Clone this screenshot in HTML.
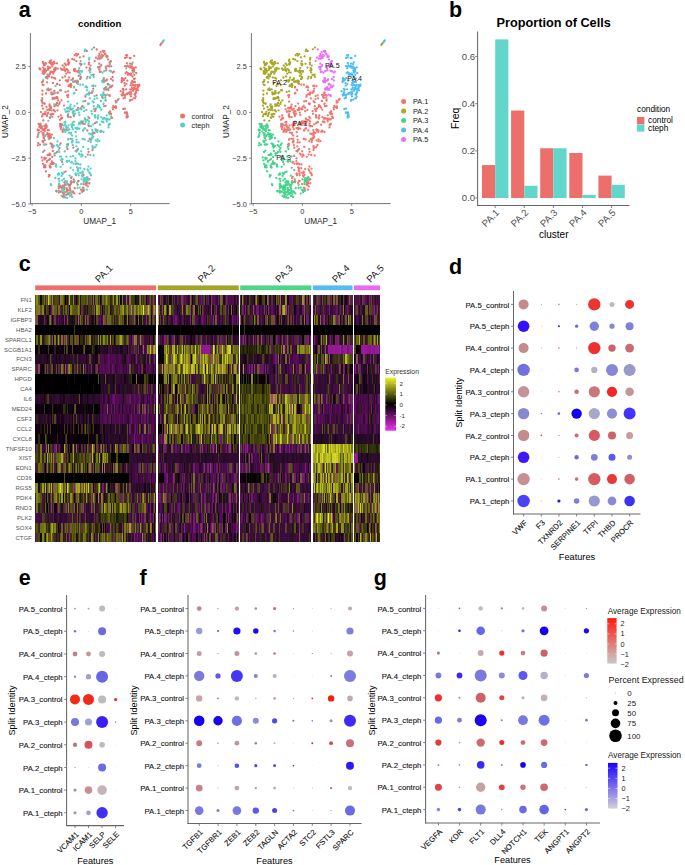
<!DOCTYPE html>
<html><head><meta charset="utf-8"><style>
html,body{margin:0;padding:0;background:#fff;width:685px;height:865px;overflow:hidden}
svg{display:block;font-family:"Liberation Sans",sans-serif}
</style></head><body>
<svg width="685" height="865" viewBox="0 0 685 865">
<rect width="685" height="865" fill="#fff"/>
<text x="448.9" y="274" font-size="21.5" font-weight="bold" fill="#000">d</text>
<line x1="513.5" y1="291" x2="513.5" y2="514.5" stroke="#666" stroke-width="1.05"/>
<line x1="513" y1="514" x2="640.4" y2="514" stroke="#666" stroke-width="1.05"/>
<line x1="511" y1="304.4" x2="513.5" y2="304.4" stroke="#666" stroke-width="0.8"/>
<text x="509.3" y="307.5" font-size="7.75" text-anchor="end" fill="#111" stroke="#111" stroke-width="0.1">PA.5_control</text>
<line x1="511" y1="326.24" x2="513.5" y2="326.24" stroke="#666" stroke-width="0.8"/>
<text x="509.3" y="329.34" font-size="7.75" text-anchor="end" fill="#111" stroke="#111" stroke-width="0.1">PA.5_cteph</text>
<line x1="511" y1="348.08" x2="513.5" y2="348.08" stroke="#666" stroke-width="0.8"/>
<text x="509.3" y="351.18" font-size="7.75" text-anchor="end" fill="#111" stroke="#111" stroke-width="0.1">PA.4_control</text>
<line x1="511" y1="369.92" x2="513.5" y2="369.92" stroke="#666" stroke-width="0.8"/>
<text x="509.3" y="373.02" font-size="7.75" text-anchor="end" fill="#111" stroke="#111" stroke-width="0.1">PA.4_cteph</text>
<line x1="511" y1="391.76" x2="513.5" y2="391.76" stroke="#666" stroke-width="0.8"/>
<text x="509.3" y="394.86" font-size="7.75" text-anchor="end" fill="#111" stroke="#111" stroke-width="0.1">PA.3_control</text>
<line x1="511" y1="413.6" x2="513.5" y2="413.6" stroke="#666" stroke-width="0.8"/>
<text x="509.3" y="416.7" font-size="7.75" text-anchor="end" fill="#111" stroke="#111" stroke-width="0.1">PA.3_cteph</text>
<line x1="511" y1="435.44" x2="513.5" y2="435.44" stroke="#666" stroke-width="0.8"/>
<text x="509.3" y="438.54" font-size="7.75" text-anchor="end" fill="#111" stroke="#111" stroke-width="0.1">PA.2_control</text>
<line x1="511" y1="457.28" x2="513.5" y2="457.28" stroke="#666" stroke-width="0.8"/>
<text x="509.3" y="460.38" font-size="7.75" text-anchor="end" fill="#111" stroke="#111" stroke-width="0.1">PA.2_cteph</text>
<line x1="511" y1="479.12" x2="513.5" y2="479.12" stroke="#666" stroke-width="0.8"/>
<text x="509.3" y="482.22" font-size="7.75" text-anchor="end" fill="#111" stroke="#111" stroke-width="0.1">PA.1_control</text>
<line x1="511" y1="500.96" x2="513.5" y2="500.96" stroke="#666" stroke-width="0.8"/>
<text x="509.3" y="504.06" font-size="7.75" text-anchor="end" fill="#111" stroke="#111" stroke-width="0.1">PA.1_cteph</text>
<line x1="523.6" y1="514" x2="523.6" y2="516.5" stroke="#666" stroke-width="0.8"/>
<text x="527.8" y="523.3" font-size="7.75" text-anchor="end" fill="#111" transform="rotate(-45 527.8 523.3)" stroke="#111" stroke-width="0.1">VWF</text>
<line x1="541.27" y1="514" x2="541.27" y2="516.5" stroke="#666" stroke-width="0.8"/>
<text x="545.47" y="523.3" font-size="7.75" text-anchor="end" fill="#111" transform="rotate(-45 545.47 523.3)" stroke="#111" stroke-width="0.1">F3</text>
<line x1="558.94" y1="514" x2="558.94" y2="516.5" stroke="#666" stroke-width="0.8"/>
<text x="563.14" y="523.3" font-size="7.75" text-anchor="end" fill="#111" transform="rotate(-45 563.14 523.3)" stroke="#111" stroke-width="0.1">TXNRD2</text>
<line x1="576.61" y1="514" x2="576.61" y2="516.5" stroke="#666" stroke-width="0.8"/>
<text x="580.81" y="523.3" font-size="7.75" text-anchor="end" fill="#111" transform="rotate(-45 580.81 523.3)" stroke="#111" stroke-width="0.1">SERPINE1</text>
<line x1="594.28" y1="514" x2="594.28" y2="516.5" stroke="#666" stroke-width="0.8"/>
<text x="598.48" y="523.3" font-size="7.75" text-anchor="end" fill="#111" transform="rotate(-45 598.48 523.3)" stroke="#111" stroke-width="0.1">TFPI</text>
<line x1="611.95" y1="514" x2="611.95" y2="516.5" stroke="#666" stroke-width="0.8"/>
<text x="616.15" y="523.3" font-size="7.75" text-anchor="end" fill="#111" transform="rotate(-45 616.15 523.3)" stroke="#111" stroke-width="0.1">THBD</text>
<line x1="629.62" y1="514" x2="629.62" y2="516.5" stroke="#666" stroke-width="0.8"/>
<text x="633.82" y="523.3" font-size="7.75" text-anchor="end" fill="#111" transform="rotate(-45 633.82 523.3)" stroke="#111" stroke-width="0.1">PROCR</text>
<circle cx="523.6" cy="304.4" r="5" fill="#C48A8E"/>
<circle cx="541.3" cy="304.4" r="0.5" fill="#D87070"/>
<circle cx="558.9" cy="304.4" r="0.8" fill="#D07070"/>
<circle cx="576.6" cy="304.4" r="0.5" fill="#D08080"/>
<circle cx="594.3" cy="304.4" r="6.2" fill="#EE3333"/>
<circle cx="612.0" cy="304.4" r="2.5" fill="#BBBBBB"/>
<circle cx="629.6" cy="304.4" r="4.5" fill="#EE3333"/>
<circle cx="523.6" cy="326.2" r="5.8" fill="#3311FF"/>
<circle cx="541.3" cy="326.2" r="0.4" fill="#7070E0"/>
<circle cx="558.9" cy="326.2" r="1" fill="#2222FF"/>
<circle cx="576.6" cy="326.2" r="1.6" fill="#6666DD"/>
<circle cx="594.3" cy="326.2" r="4.7" fill="#8080D8"/>
<circle cx="612.0" cy="326.2" r="2.6" fill="#8888D0"/>
<circle cx="629.6" cy="326.2" r="4" fill="#8080D8"/>
<circle cx="523.6" cy="348.1" r="5" fill="#C48A8E"/>
<circle cx="541.3" cy="348.1" r="0.5" fill="#D08080"/>
<circle cx="558.9" cy="348.1" r="0.8" fill="#D07070"/>
<circle cx="576.6" cy="348.1" r="0.6" fill="#D08080"/>
<circle cx="594.3" cy="348.1" r="6.2" fill="#EE3030"/>
<circle cx="612.0" cy="348.1" r="3.7" fill="#D06066"/>
<circle cx="629.6" cy="348.1" r="4.4" fill="#D06870"/>
<circle cx="523.6" cy="369.9" r="6.2" fill="#7070E0"/>
<circle cx="541.3" cy="369.9" r="0.4" fill="#9090D8"/>
<circle cx="558.9" cy="369.9" r="0.3" fill="#C0C0C0"/>
<circle cx="576.6" cy="369.9" r="2.3" fill="#7777D6"/>
<circle cx="594.3" cy="369.9" r="3.1" fill="#B0B0C8"/>
<circle cx="612.0" cy="369.9" r="6" fill="#8888D4"/>
<circle cx="629.6" cy="369.9" r="6" fill="#9A9AC8"/>
<circle cx="523.6" cy="391.8" r="5.7" fill="#C69498"/>
<circle cx="541.3" cy="391.8" r="0.4" fill="#D08080"/>
<circle cx="558.9" cy="391.8" r="0.8" fill="#D07070"/>
<circle cx="576.6" cy="391.8" r="2.3" fill="#C87070"/>
<circle cx="594.3" cy="391.8" r="5.6" fill="#C8787C"/>
<circle cx="612.0" cy="391.8" r="5.1" fill="#F02828"/>
<circle cx="629.6" cy="391.8" r="4.3" fill="#C49498"/>
<circle cx="523.6" cy="413.6" r="5.7" fill="#8888D0"/>
<circle cx="541.3" cy="413.6" r="0.6" fill="#5050E8"/>
<circle cx="558.9" cy="413.6" r="1.3" fill="#6666E0"/>
<circle cx="576.6" cy="413.6" r="5.2" fill="#1100EE"/>
<circle cx="594.3" cy="413.6" r="5.6" fill="#A8A8C8"/>
<circle cx="612.0" cy="413.6" r="5.1" fill="#8E8ED2"/>
<circle cx="629.6" cy="413.6" r="6" fill="#4433FF"/>
<circle cx="523.6" cy="435.4" r="5.7" fill="#C48A8E"/>
<circle cx="541.3" cy="435.4" r="0.8" fill="#F03030"/>
<circle cx="558.9" cy="435.4" r="0.6" fill="#D07070"/>
<circle cx="576.6" cy="435.4" r="2" fill="#C87070"/>
<circle cx="594.3" cy="435.4" r="5.6" fill="#D55A62"/>
<circle cx="612.0" cy="435.4" r="4" fill="#CC6468"/>
<circle cx="629.6" cy="435.4" r="3.5" fill="#C89A9C"/>
<circle cx="523.6" cy="457.3" r="5.8" fill="#3B1AF5"/>
<circle cx="541.3" cy="457.3" r="0.4" fill="#8080D8"/>
<circle cx="558.9" cy="457.3" r="0.5" fill="#8080D8"/>
<circle cx="576.6" cy="457.3" r="2.2" fill="#6B6BDB"/>
<circle cx="594.3" cy="457.3" r="3.4" fill="#7F7FD8"/>
<circle cx="612.0" cy="457.3" r="3.5" fill="#5A5AEA"/>
<circle cx="629.6" cy="457.3" r="2.5" fill="#9090D0"/>
<circle cx="523.6" cy="479.1" r="6.2" fill="#C49094"/>
<circle cx="541.3" cy="479.1" r="0.4" fill="#D08080"/>
<circle cx="558.9" cy="479.1" r="0.8" fill="#D07070"/>
<circle cx="576.6" cy="479.1" r="1.8" fill="#C87070"/>
<circle cx="594.3" cy="479.1" r="6.2" fill="#D55A62"/>
<circle cx="612.0" cy="479.1" r="5" fill="#E83838"/>
<circle cx="629.6" cy="479.1" r="5.3" fill="#D06066"/>
<circle cx="523.6" cy="501.0" r="6.2" fill="#4A42F5"/>
<circle cx="541.3" cy="501.0" r="0.5" fill="#8080D8"/>
<circle cx="558.9" cy="501.0" r="1.6" fill="#1A1AF0"/>
<circle cx="576.6" cy="501.0" r="2.8" fill="#7F7FD8"/>
<circle cx="594.3" cy="501.0" r="5.6" fill="#9898D0"/>
<circle cx="612.0" cy="501.0" r="4.4" fill="#8A8AD4"/>
<circle cx="629.6" cy="501.0" r="5.3" fill="#3C30F5"/>
<text x="577" y="559.9" font-size="9.2" text-anchor="middle" fill="#000">Features</text>
<text x="461.6" y="402.7" font-size="9.2" text-anchor="middle" fill="#000" transform="rotate(-90 461.6 402.7)">Split Identity</text>
<text x="18.7" y="584.5" font-size="21.5" font-weight="bold" fill="#000">e</text>
<line x1="66.6" y1="595" x2="66.6" y2="826.1" stroke="#666" stroke-width="1.05"/>
<line x1="66.1" y1="825.6" x2="124" y2="825.6" stroke="#666" stroke-width="1.05"/>
<line x1="64.1" y1="608.6" x2="66.6" y2="608.6" stroke="#666" stroke-width="0.8"/>
<text x="62.6" y="611.7" font-size="7.75" text-anchor="end" fill="#111" stroke="#111" stroke-width="0.1">PA.5_control</text>
<line x1="64.1" y1="631.29" x2="66.6" y2="631.29" stroke="#666" stroke-width="0.8"/>
<text x="62.6" y="634.39" font-size="7.75" text-anchor="end" fill="#111" stroke="#111" stroke-width="0.1">PA.5_cteph</text>
<line x1="64.1" y1="653.98" x2="66.6" y2="653.98" stroke="#666" stroke-width="0.8"/>
<text x="62.6" y="657.08" font-size="7.75" text-anchor="end" fill="#111" stroke="#111" stroke-width="0.1">PA.4_control</text>
<line x1="64.1" y1="676.67" x2="66.6" y2="676.67" stroke="#666" stroke-width="0.8"/>
<text x="62.6" y="679.77" font-size="7.75" text-anchor="end" fill="#111" stroke="#111" stroke-width="0.1">PA.4_cteph</text>
<line x1="64.1" y1="699.36" x2="66.6" y2="699.36" stroke="#666" stroke-width="0.8"/>
<text x="62.6" y="702.46" font-size="7.75" text-anchor="end" fill="#111" stroke="#111" stroke-width="0.1">PA.3_control</text>
<line x1="64.1" y1="722.05" x2="66.6" y2="722.05" stroke="#666" stroke-width="0.8"/>
<text x="62.6" y="725.15" font-size="7.75" text-anchor="end" fill="#111" stroke="#111" stroke-width="0.1">PA.3_cteph</text>
<line x1="64.1" y1="744.74" x2="66.6" y2="744.74" stroke="#666" stroke-width="0.8"/>
<text x="62.6" y="747.84" font-size="7.75" text-anchor="end" fill="#111" stroke="#111" stroke-width="0.1">PA.2_control</text>
<line x1="64.1" y1="767.43" x2="66.6" y2="767.43" stroke="#666" stroke-width="0.8"/>
<text x="62.6" y="770.53" font-size="7.75" text-anchor="end" fill="#111" stroke="#111" stroke-width="0.1">PA.2_cteph</text>
<line x1="64.1" y1="790.12" x2="66.6" y2="790.12" stroke="#666" stroke-width="0.8"/>
<text x="62.6" y="793.22" font-size="7.75" text-anchor="end" fill="#111" stroke="#111" stroke-width="0.1">PA.1_control</text>
<line x1="64.1" y1="812.81" x2="66.6" y2="812.81" stroke="#666" stroke-width="0.8"/>
<text x="62.6" y="815.91" font-size="7.75" text-anchor="end" fill="#111" stroke="#111" stroke-width="0.1">PA.1_cteph</text>
<line x1="75" y1="825.6" x2="75" y2="828.1" stroke="#666" stroke-width="0.8"/>
<text x="79.2" y="834.9" font-size="7.75" text-anchor="end" fill="#111" transform="rotate(-45 79.2 834.9)" stroke="#111" stroke-width="0.1">VCAM1</text>
<line x1="88.53" y1="825.6" x2="88.53" y2="828.1" stroke="#666" stroke-width="0.8"/>
<text x="92.73" y="834.9" font-size="7.75" text-anchor="end" fill="#111" transform="rotate(-45 92.73 834.9)" stroke="#111" stroke-width="0.1">ICAM1</text>
<line x1="102.06" y1="825.6" x2="102.06" y2="828.1" stroke="#666" stroke-width="0.8"/>
<text x="106.26" y="834.9" font-size="7.75" text-anchor="end" fill="#111" transform="rotate(-45 106.26 834.9)" stroke="#111" stroke-width="0.1">SELP</text>
<line x1="115.59" y1="825.6" x2="115.59" y2="828.1" stroke="#666" stroke-width="0.8"/>
<text x="119.79" y="834.9" font-size="7.75" text-anchor="end" fill="#111" transform="rotate(-45 119.79 834.9)" stroke="#111" stroke-width="0.1">SELE</text>
<circle cx="75.0" cy="608.6" r="0.9" fill="#C08888"/>
<circle cx="88.5" cy="608.6" r="0.9" fill="#C09090"/>
<circle cx="102.1" cy="608.6" r="3" fill="#BBBBBB"/>
<circle cx="115.6" cy="608.6" r="0.3" fill="#D0A0A0"/>
<circle cx="75.0" cy="631.3" r="1.2" fill="#7070E0"/>
<circle cx="88.5" cy="631.3" r="0.4" fill="#A0A0D0"/>
<circle cx="102.1" cy="631.3" r="4" fill="#6B6BE0"/>
<circle cx="115.6" cy="631.3" r="0.3" fill="#C0C0D0"/>
<circle cx="75.0" cy="654.0" r="2.4" fill="#C08088"/>
<circle cx="88.5" cy="654.0" r="2.4" fill="#C09898"/>
<circle cx="102.1" cy="654.0" r="3" fill="#BBBBBB"/>
<circle cx="115.6" cy="654.0" r="0.3" fill="#D0A0A0"/>
<circle cx="75.0" cy="676.7" r="1.2" fill="#8888D8"/>
<circle cx="88.5" cy="676.7" r="2.6" fill="#A0A0D0"/>
<circle cx="102.1" cy="676.7" r="6" fill="#6666E4"/>
<circle cx="115.6" cy="676.7" r="0.3" fill="#C0C0D0"/>
<circle cx="75.0" cy="699.4" r="5" fill="#F52A1A"/>
<circle cx="88.5" cy="699.4" r="5.5" fill="#F02A1A"/>
<circle cx="102.1" cy="699.4" r="4" fill="#BBBBBB"/>
<circle cx="115.6" cy="699.4" r="1.5" fill="#F02020"/>
<circle cx="75.0" cy="722.1" r="4" fill="#7878E0"/>
<circle cx="88.5" cy="722.1" r="3.5" fill="#A0A0D4"/>
<circle cx="102.1" cy="722.1" r="6" fill="#3A20F5"/>
<circle cx="115.6" cy="722.1" r="0.8" fill="#8080E0"/>
<circle cx="75.0" cy="744.7" r="2.2" fill="#C07880"/>
<circle cx="88.5" cy="744.7" r="4" fill="#D85058"/>
<circle cx="102.1" cy="744.7" r="2.8" fill="#BBBBBB"/>
<circle cx="115.6" cy="744.7" r="0.3" fill="#D0A0A0"/>
<circle cx="75.0" cy="767.4" r="0.6" fill="#8888D8"/>
<circle cx="88.5" cy="767.4" r="0.4" fill="#A0A0D0"/>
<circle cx="102.1" cy="767.4" r="4" fill="#6B6BE0"/>
<circle cx="115.6" cy="767.4" r="0.3" fill="#C0C0D0"/>
<circle cx="75.0" cy="790.1" r="1.6" fill="#C08888"/>
<circle cx="88.5" cy="790.1" r="3.8" fill="#C89094"/>
<circle cx="102.1" cy="790.1" r="4.8" fill="#C8B4B8"/>
<circle cx="115.6" cy="790.1" r="0.3" fill="#D0A0A0"/>
<circle cx="75.0" cy="812.8" r="1.6" fill="#9898D4"/>
<circle cx="88.5" cy="812.8" r="2.4" fill="#A0A0D4"/>
<circle cx="102.1" cy="812.8" r="5.7" fill="#3F30F6"/>
<circle cx="115.6" cy="812.8" r="0.3" fill="#C0C0D0"/>
<text x="95.3" y="863.7" font-size="9.2" text-anchor="middle" fill="#000">Features</text>
<text x="15" y="710.5" font-size="9.2" text-anchor="middle" fill="#000" transform="rotate(-90 15 710.5)">Split Identity</text>
<text x="139.4" y="584.5" font-size="21.5" font-weight="bold" fill="#000">f</text>
<line x1="188" y1="595" x2="188" y2="823.9" stroke="#666" stroke-width="1.05"/>
<line x1="187.5" y1="823.4" x2="361.6" y2="823.4" stroke="#666" stroke-width="1.05"/>
<line x1="185.5" y1="608.6" x2="188" y2="608.6" stroke="#666" stroke-width="0.8"/>
<text x="184" y="611.7" font-size="7.75" text-anchor="end" fill="#111" stroke="#111" stroke-width="0.1">PA.5_control</text>
<line x1="185.5" y1="631.04" x2="188" y2="631.04" stroke="#666" stroke-width="0.8"/>
<text x="184" y="634.14" font-size="7.75" text-anchor="end" fill="#111" stroke="#111" stroke-width="0.1">PA.5_cteph</text>
<line x1="185.5" y1="653.48" x2="188" y2="653.48" stroke="#666" stroke-width="0.8"/>
<text x="184" y="656.58" font-size="7.75" text-anchor="end" fill="#111" stroke="#111" stroke-width="0.1">PA.4_control</text>
<line x1="185.5" y1="675.92" x2="188" y2="675.92" stroke="#666" stroke-width="0.8"/>
<text x="184" y="679.02" font-size="7.75" text-anchor="end" fill="#111" stroke="#111" stroke-width="0.1">PA.4_cteph</text>
<line x1="185.5" y1="698.36" x2="188" y2="698.36" stroke="#666" stroke-width="0.8"/>
<text x="184" y="701.46" font-size="7.75" text-anchor="end" fill="#111" stroke="#111" stroke-width="0.1">PA.3_control</text>
<line x1="185.5" y1="720.8" x2="188" y2="720.8" stroke="#666" stroke-width="0.8"/>
<text x="184" y="723.9" font-size="7.75" text-anchor="end" fill="#111" stroke="#111" stroke-width="0.1">PA.3_cteph</text>
<line x1="185.5" y1="743.24" x2="188" y2="743.24" stroke="#666" stroke-width="0.8"/>
<text x="184" y="746.34" font-size="7.75" text-anchor="end" fill="#111" stroke="#111" stroke-width="0.1">PA.2_control</text>
<line x1="185.5" y1="765.68" x2="188" y2="765.68" stroke="#666" stroke-width="0.8"/>
<text x="184" y="768.78" font-size="7.75" text-anchor="end" fill="#111" stroke="#111" stroke-width="0.1">PA.2_cteph</text>
<line x1="185.5" y1="788.12" x2="188" y2="788.12" stroke="#666" stroke-width="0.8"/>
<text x="184" y="791.22" font-size="7.75" text-anchor="end" fill="#111" stroke="#111" stroke-width="0.1">PA.1_control</text>
<line x1="185.5" y1="810.56" x2="188" y2="810.56" stroke="#666" stroke-width="0.8"/>
<text x="184" y="813.66" font-size="7.75" text-anchor="end" fill="#111" stroke="#111" stroke-width="0.1">PA.1_cteph</text>
<line x1="199.2" y1="823.4" x2="199.2" y2="825.9" stroke="#666" stroke-width="0.8"/>
<text x="203.4" y="832.7" font-size="7.75" text-anchor="end" fill="#111" transform="rotate(-45 203.4 832.7)" stroke="#111" stroke-width="0.1">TGFB1</text>
<line x1="218.05" y1="823.4" x2="218.05" y2="825.9" stroke="#666" stroke-width="0.8"/>
<text x="222.25" y="832.7" font-size="7.75" text-anchor="end" fill="#111" transform="rotate(-45 222.25 832.7)" stroke="#111" stroke-width="0.1">TGFBR1</text>
<line x1="236.9" y1="823.4" x2="236.9" y2="825.9" stroke="#666" stroke-width="0.8"/>
<text x="241.1" y="832.7" font-size="7.75" text-anchor="end" fill="#111" transform="rotate(-45 241.1 832.7)" stroke="#111" stroke-width="0.1">ZEB1</text>
<line x1="255.75" y1="823.4" x2="255.75" y2="825.9" stroke="#666" stroke-width="0.8"/>
<text x="259.95" y="832.7" font-size="7.75" text-anchor="end" fill="#111" transform="rotate(-45 259.95 832.7)" stroke="#111" stroke-width="0.1">ZEB2</text>
<line x1="274.6" y1="823.4" x2="274.6" y2="825.9" stroke="#666" stroke-width="0.8"/>
<text x="278.8" y="832.7" font-size="7.75" text-anchor="end" fill="#111" transform="rotate(-45 278.8 832.7)" stroke="#111" stroke-width="0.1">TAGLN</text>
<line x1="293.45" y1="823.4" x2="293.45" y2="825.9" stroke="#666" stroke-width="0.8"/>
<text x="297.65" y="832.7" font-size="7.75" text-anchor="end" fill="#111" transform="rotate(-45 297.65 832.7)" stroke="#111" stroke-width="0.1">ACTA2</text>
<line x1="312.3" y1="823.4" x2="312.3" y2="825.9" stroke="#666" stroke-width="0.8"/>
<text x="316.5" y="832.7" font-size="7.75" text-anchor="end" fill="#111" transform="rotate(-45 316.5 832.7)" stroke="#111" stroke-width="0.1">STC2</text>
<line x1="331.15" y1="823.4" x2="331.15" y2="825.9" stroke="#666" stroke-width="0.8"/>
<text x="335.35" y="832.7" font-size="7.75" text-anchor="end" fill="#111" transform="rotate(-45 335.35 832.7)" stroke="#111" stroke-width="0.1">FSTL3</text>
<line x1="350" y1="823.4" x2="350" y2="825.9" stroke="#666" stroke-width="0.8"/>
<text x="354.2" y="832.7" font-size="7.75" text-anchor="end" fill="#111" transform="rotate(-45 354.2 832.7)" stroke="#111" stroke-width="0.1">SPARC</text>
<circle cx="199.2" cy="608.6" r="2.4" fill="#C08890"/>
<circle cx="218.0" cy="608.6" r="0.6" fill="#C07070"/>
<circle cx="236.9" cy="608.6" r="2.1" fill="#C0A0A4"/>
<circle cx="255.8" cy="608.6" r="1.3" fill="#C08888"/>
<circle cx="274.6" cy="608.6" r="1.5" fill="#D06068"/>
<circle cx="293.4" cy="608.6" r="0.6" fill="#C08080"/>
<circle cx="312.3" cy="608.6" r="0.4" fill="#C0A0A0"/>
<circle cx="331.1" cy="608.6" r="0.5" fill="#C08080"/>
<circle cx="350.0" cy="608.6" r="2" fill="#C0A8AC"/>
<circle cx="199.2" cy="631.0" r="3.2" fill="#9A9AD4"/>
<circle cx="218.0" cy="631.0" r="1" fill="#5050E8"/>
<circle cx="236.9" cy="631.0" r="3.6" fill="#2010F5"/>
<circle cx="255.8" cy="631.0" r="2.7" fill="#1A0AF2"/>
<circle cx="274.6" cy="631.0" r="1.3" fill="#7878DC"/>
<circle cx="293.4" cy="631.0" r="0.8" fill="#8080E0"/>
<circle cx="312.3" cy="631.0" r="0.4" fill="#A0A0D0"/>
<circle cx="331.1" cy="631.0" r="0.3" fill="#B0B0D0"/>
<circle cx="350.0" cy="631.0" r="3.6" fill="#8080D8"/>
<circle cx="199.2" cy="653.5" r="2.5" fill="#C0A0A4"/>
<circle cx="218.0" cy="653.5" r="0.6" fill="#C07070"/>
<circle cx="236.9" cy="653.5" r="2.5" fill="#C09498"/>
<circle cx="255.8" cy="653.5" r="1.3" fill="#C08888"/>
<circle cx="274.6" cy="653.5" r="1.3" fill="#C87078"/>
<circle cx="293.4" cy="653.5" r="0.4" fill="#C0A0A0"/>
<circle cx="312.3" cy="653.5" r="0.6" fill="#C06068"/>
<circle cx="331.1" cy="653.5" r="0.5" fill="#C08080"/>
<circle cx="350.0" cy="653.5" r="3" fill="#C0A4A8"/>
<circle cx="199.2" cy="675.9" r="5.2" fill="#7A7ADC"/>
<circle cx="218.0" cy="675.9" r="2.6" fill="#5A5AEE"/>
<circle cx="236.9" cy="675.9" r="6" fill="#4535F5"/>
<circle cx="255.8" cy="675.9" r="2" fill="#8080D4"/>
<circle cx="274.6" cy="675.9" r="2" fill="#B0B0C8"/>
<circle cx="293.4" cy="675.9" r="0.3" fill="#B0B0D0"/>
<circle cx="312.3" cy="675.9" r="0.3" fill="#B0B0D0"/>
<circle cx="331.1" cy="675.9" r="1" fill="#8080E0"/>
<circle cx="350.0" cy="675.9" r="6" fill="#7C7CE0"/>
<circle cx="199.2" cy="698.4" r="3.2" fill="#C8A4A8"/>
<circle cx="218.0" cy="698.4" r="0.9" fill="#C87070"/>
<circle cx="236.9" cy="698.4" r="2.2" fill="#BBBBBB"/>
<circle cx="255.8" cy="698.4" r="0.8" fill="#BBBBBB"/>
<circle cx="274.6" cy="698.4" r="1.3" fill="#C0A0A0"/>
<circle cx="293.4" cy="698.4" r="0.5" fill="#C08080"/>
<circle cx="312.3" cy="698.4" r="0.9" fill="#F03030"/>
<circle cx="331.1" cy="698.4" r="3.2" fill="#F52010"/>
<circle cx="350.0" cy="698.4" r="2.8" fill="#C0ACAE"/>
<circle cx="199.2" cy="720.8" r="5.3" fill="#1400F2"/>
<circle cx="218.0" cy="720.8" r="4.7" fill="#1A00F0"/>
<circle cx="236.9" cy="720.8" r="5.1" fill="#6E6EE6"/>
<circle cx="255.8" cy="720.8" r="3" fill="#8C8CD4"/>
<circle cx="274.6" cy="720.8" r="2.6" fill="#4A4AF0"/>
<circle cx="293.4" cy="720.8" r="1" fill="#7070E0"/>
<circle cx="312.3" cy="720.8" r="0.8" fill="#7070E0"/>
<circle cx="331.1" cy="720.8" r="1.5" fill="#9090D8"/>
<circle cx="350.0" cy="720.8" r="6" fill="#3F2AF8"/>
<circle cx="199.2" cy="743.2" r="2.9" fill="#C87880"/>
<circle cx="218.0" cy="743.2" r="0.7" fill="#C07070"/>
<circle cx="236.9" cy="743.2" r="2.4" fill="#C09498"/>
<circle cx="255.8" cy="743.2" r="1.3" fill="#C07880"/>
<circle cx="274.6" cy="743.2" r="1" fill="#C0B0B0"/>
<circle cx="293.4" cy="743.2" r="0.4" fill="#C0A0A0"/>
<circle cx="312.3" cy="743.2" r="1" fill="#F02828"/>
<circle cx="331.1" cy="743.2" r="1.9" fill="#D84850"/>
<circle cx="350.0" cy="743.2" r="4" fill="#C87078"/>
<circle cx="199.2" cy="765.7" r="2.4" fill="#7A7ADC"/>
<circle cx="218.0" cy="765.7" r="0.5" fill="#9090D8"/>
<circle cx="236.9" cy="765.7" r="2.3" fill="#5252EE"/>
<circle cx="255.8" cy="765.7" r="1.6" fill="#4A4AF0"/>
<circle cx="274.6" cy="765.7" r="1.4" fill="#3A3AF0"/>
<circle cx="293.4" cy="765.7" r="0.8" fill="#1A1AF0"/>
<circle cx="312.3" cy="765.7" r="0.3" fill="#B0B0D0"/>
<circle cx="331.1" cy="765.7" r="0.3" fill="#B0B0D0"/>
<circle cx="350.0" cy="765.7" r="4" fill="#2A1AF5"/>
<circle cx="199.2" cy="788.1" r="3.4" fill="#C8808A"/>
<circle cx="218.0" cy="788.1" r="0.5" fill="#C08080"/>
<circle cx="236.9" cy="788.1" r="2.4" fill="#C0A4A8"/>
<circle cx="255.8" cy="788.1" r="1.2" fill="#C09098"/>
<circle cx="274.6" cy="788.1" r="1.4" fill="#C0A0A4"/>
<circle cx="293.4" cy="788.1" r="0.5" fill="#C0A0A0"/>
<circle cx="312.3" cy="788.1" r="0.5" fill="#D08080"/>
<circle cx="331.1" cy="788.1" r="1.2" fill="#C87070"/>
<circle cx="350.0" cy="788.1" r="2.2" fill="#BBBBBB"/>
<circle cx="199.2" cy="810.6" r="4.3" fill="#7A7ADE"/>
<circle cx="218.0" cy="810.6" r="1.5" fill="#7A7ADC"/>
<circle cx="236.9" cy="810.6" r="4.3" fill="#7878DE"/>
<circle cx="255.8" cy="810.6" r="3.2" fill="#5A5AF0"/>
<circle cx="274.6" cy="810.6" r="2.5" fill="#4444F0"/>
<circle cx="293.4" cy="810.6" r="0.9" fill="#8080E0"/>
<circle cx="312.3" cy="810.6" r="0.4" fill="#A0A0D0"/>
<circle cx="331.1" cy="810.6" r="0.7" fill="#9090E0"/>
<circle cx="350.0" cy="810.6" r="5" fill="#6A6AE6"/>
<text x="274.5" y="863.7" font-size="9.2" text-anchor="middle" fill="#000">Features</text>
<text x="137.2" y="710.5" font-size="9.2" text-anchor="middle" fill="#000" transform="rotate(-90 137.2 710.5)">Split Identity</text>
<text x="373.7" y="584.5" font-size="21.5" font-weight="bold" fill="#000">g</text>
<line x1="425.6" y1="595" x2="425.6" y2="823.5" stroke="#666" stroke-width="1.05"/>
<line x1="425.1" y1="823" x2="600" y2="823" stroke="#666" stroke-width="1.05"/>
<line x1="423.1" y1="608.4" x2="425.6" y2="608.4" stroke="#666" stroke-width="0.8"/>
<text x="421.3" y="611.5" font-size="7.75" text-anchor="end" fill="#111" stroke="#111" stroke-width="0.1">PA.5_control</text>
<line x1="423.1" y1="630.76" x2="425.6" y2="630.76" stroke="#666" stroke-width="0.8"/>
<text x="421.3" y="633.86" font-size="7.75" text-anchor="end" fill="#111" stroke="#111" stroke-width="0.1">PA.5_cteph</text>
<line x1="423.1" y1="653.12" x2="425.6" y2="653.12" stroke="#666" stroke-width="0.8"/>
<text x="421.3" y="656.22" font-size="7.75" text-anchor="end" fill="#111" stroke="#111" stroke-width="0.1">PA.4_control</text>
<line x1="423.1" y1="675.48" x2="425.6" y2="675.48" stroke="#666" stroke-width="0.8"/>
<text x="421.3" y="678.58" font-size="7.75" text-anchor="end" fill="#111" stroke="#111" stroke-width="0.1">PA.4_cteph</text>
<line x1="423.1" y1="697.84" x2="425.6" y2="697.84" stroke="#666" stroke-width="0.8"/>
<text x="421.3" y="700.94" font-size="7.75" text-anchor="end" fill="#111" stroke="#111" stroke-width="0.1">PA.3_control</text>
<line x1="423.1" y1="720.2" x2="425.6" y2="720.2" stroke="#666" stroke-width="0.8"/>
<text x="421.3" y="723.3" font-size="7.75" text-anchor="end" fill="#111" stroke="#111" stroke-width="0.1">PA.3_cteph</text>
<line x1="423.1" y1="742.56" x2="425.6" y2="742.56" stroke="#666" stroke-width="0.8"/>
<text x="421.3" y="745.66" font-size="7.75" text-anchor="end" fill="#111" stroke="#111" stroke-width="0.1">PA.2_control</text>
<line x1="423.1" y1="764.92" x2="425.6" y2="764.92" stroke="#666" stroke-width="0.8"/>
<text x="421.3" y="768.02" font-size="7.75" text-anchor="end" fill="#111" stroke="#111" stroke-width="0.1">PA.2_cteph</text>
<line x1="423.1" y1="787.28" x2="425.6" y2="787.28" stroke="#666" stroke-width="0.8"/>
<text x="421.3" y="790.38" font-size="7.75" text-anchor="end" fill="#111" stroke="#111" stroke-width="0.1">PA.1_control</text>
<line x1="423.1" y1="809.64" x2="425.6" y2="809.64" stroke="#666" stroke-width="0.8"/>
<text x="421.3" y="812.74" font-size="7.75" text-anchor="end" fill="#111" stroke="#111" stroke-width="0.1">PA.1_cteph</text>
<line x1="438.4" y1="823" x2="438.4" y2="825.5" stroke="#666" stroke-width="0.8"/>
<text x="442.6" y="832.3" font-size="7.75" text-anchor="end" fill="#111" transform="rotate(-45 442.6 832.3)" stroke="#111" stroke-width="0.1">VEGFA</text>
<line x1="459.55" y1="823" x2="459.55" y2="825.5" stroke="#666" stroke-width="0.8"/>
<text x="463.75" y="832.3" font-size="7.75" text-anchor="end" fill="#111" transform="rotate(-45 463.75 832.3)" stroke="#111" stroke-width="0.1">KDR</text>
<line x1="480.7" y1="823" x2="480.7" y2="825.5" stroke="#666" stroke-width="0.8"/>
<text x="484.9" y="832.3" font-size="7.75" text-anchor="end" fill="#111" transform="rotate(-45 484.9 832.3)" stroke="#111" stroke-width="0.1">FLT1</text>
<line x1="501.85" y1="823" x2="501.85" y2="825.5" stroke="#666" stroke-width="0.8"/>
<text x="506.05" y="832.3" font-size="7.75" text-anchor="end" fill="#111" transform="rotate(-45 506.05 832.3)" stroke="#111" stroke-width="0.1">DLL4</text>
<line x1="523" y1="823" x2="523" y2="825.5" stroke="#666" stroke-width="0.8"/>
<text x="527.2" y="832.3" font-size="7.75" text-anchor="end" fill="#111" transform="rotate(-45 527.2 832.3)" stroke="#111" stroke-width="0.1">NOTCH1</text>
<line x1="544.15" y1="823" x2="544.15" y2="825.5" stroke="#666" stroke-width="0.8"/>
<text x="548.35" y="832.3" font-size="7.75" text-anchor="end" fill="#111" transform="rotate(-45 548.35 832.3)" stroke="#111" stroke-width="0.1">TEK</text>
<line x1="565.3" y1="823" x2="565.3" y2="825.5" stroke="#666" stroke-width="0.8"/>
<text x="569.5" y="832.3" font-size="7.75" text-anchor="end" fill="#111" transform="rotate(-45 569.5 832.3)" stroke="#111" stroke-width="0.1">ANGPT1</text>
<line x1="586.45" y1="823" x2="586.45" y2="825.5" stroke="#666" stroke-width="0.8"/>
<text x="590.65" y="832.3" font-size="7.75" text-anchor="end" fill="#111" transform="rotate(-45 590.65 832.3)" stroke="#111" stroke-width="0.1">ANGPT2</text>
<circle cx="438.4" cy="608.4" r="0.4" fill="#C0A0A0"/>
<circle cx="459.5" cy="608.4" r="0.8" fill="#D04040"/>
<circle cx="480.7" cy="608.4" r="2.2" fill="#BBBBBB"/>
<circle cx="501.8" cy="608.4" r="1.1" fill="#C87070"/>
<circle cx="523.0" cy="608.4" r="1.3" fill="#BBBBBB"/>
<circle cx="544.1" cy="608.4" r="3" fill="#C09094"/>
<circle cx="565.3" cy="608.4" r="0.4" fill="#C0A0A0"/>
<circle cx="586.4" cy="608.4" r="0.6" fill="#D08888"/>
<circle cx="438.4" cy="630.8" r="0.4" fill="#B0B0D0"/>
<circle cx="459.5" cy="630.8" r="1.2" fill="#1A0AF5"/>
<circle cx="480.7" cy="630.8" r="4.3" fill="#6666E8"/>
<circle cx="501.8" cy="630.8" r="0.5" fill="#B0B0D0"/>
<circle cx="523.0" cy="630.8" r="1.6" fill="#7070E0"/>
<circle cx="544.1" cy="630.8" r="4.4" fill="#1800F5"/>
<circle cx="565.3" cy="630.8" r="0.4" fill="#B0B0D0"/>
<circle cx="586.4" cy="630.8" r="2.6" fill="#1A0AF5"/>
<circle cx="438.4" cy="653.1" r="1.6" fill="#C07880"/>
<circle cx="459.5" cy="653.1" r="0.4" fill="#C0A0A0"/>
<circle cx="480.7" cy="653.1" r="3" fill="#C0ACAE"/>
<circle cx="501.8" cy="653.1" r="2.6" fill="#F03030"/>
<circle cx="523.0" cy="653.1" r="2.4" fill="#C88088"/>
<circle cx="544.1" cy="653.1" r="3.6" fill="#D06068"/>
<circle cx="565.3" cy="653.1" r="0.4" fill="#C0A0A0"/>
<circle cx="586.4" cy="653.1" r="0.4" fill="#C0A0A0"/>
<circle cx="438.4" cy="675.5" r="2.9" fill="#7878E0"/>
<circle cx="459.5" cy="675.5" r="2.9" fill="#3A2AF5"/>
<circle cx="480.7" cy="675.5" r="6" fill="#7A7ADE"/>
<circle cx="501.8" cy="675.5" r="3" fill="#8C8CD8"/>
<circle cx="523.0" cy="675.5" r="4.5" fill="#5A5AF2"/>
<circle cx="544.1" cy="675.5" r="3.7" fill="#B0B4C8"/>
<circle cx="565.3" cy="675.5" r="0.4" fill="#B0B0D0"/>
<circle cx="586.4" cy="675.5" r="2.6" fill="#7A7AE0"/>
<circle cx="438.4" cy="697.8" r="3.6" fill="#F03030"/>
<circle cx="459.5" cy="697.8" r="1" fill="#C08088"/>
<circle cx="480.7" cy="697.8" r="5" fill="#D06068"/>
<circle cx="501.8" cy="697.8" r="2.5" fill="#E04448"/>
<circle cx="523.0" cy="697.8" r="1.6" fill="#BBB4B4"/>
<circle cx="544.1" cy="697.8" r="3.4" fill="#C4B0B2"/>
<circle cx="565.3" cy="697.8" r="0.4" fill="#C0A0A0"/>
<circle cx="586.4" cy="697.8" r="0.5" fill="#D08888"/>
<circle cx="438.4" cy="720.2" r="3.6" fill="#6A6AE8"/>
<circle cx="459.5" cy="720.2" r="2.4" fill="#7C7CE0"/>
<circle cx="480.7" cy="720.2" r="6" fill="#2000F5"/>
<circle cx="501.8" cy="720.2" r="1" fill="#8080E0"/>
<circle cx="523.0" cy="720.2" r="4.9" fill="#7A7ADE"/>
<circle cx="544.1" cy="720.2" r="5.5" fill="#7070E4"/>
<circle cx="565.3" cy="720.2" r="0.4" fill="#B0B0D0"/>
<circle cx="586.4" cy="720.2" r="1.4" fill="#7A7AE0"/>
<circle cx="438.4" cy="742.6" r="3.1" fill="#E83838"/>
<circle cx="459.5" cy="742.6" r="0.9" fill="#C89090"/>
<circle cx="480.7" cy="742.6" r="4.2" fill="#D06870"/>
<circle cx="501.8" cy="742.6" r="2.5" fill="#F02A2A"/>
<circle cx="523.0" cy="742.6" r="2.4" fill="#D06870"/>
<circle cx="544.1" cy="742.6" r="3.4" fill="#D06870"/>
<circle cx="565.3" cy="742.6" r="0.4" fill="#C0A0A0"/>
<circle cx="586.4" cy="742.6" r="0.4" fill="#C0A0A0"/>
<circle cx="438.4" cy="764.9" r="1" fill="#8888E0"/>
<circle cx="459.5" cy="764.9" r="0.8" fill="#7C7CE0"/>
<circle cx="480.7" cy="764.9" r="3.8" fill="#3A2AF5"/>
<circle cx="501.8" cy="764.9" r="1" fill="#8080E0"/>
<circle cx="523.0" cy="764.9" r="2.8" fill="#1400F5"/>
<circle cx="544.1" cy="764.9" r="3.1" fill="#6A6AE8"/>
<circle cx="565.3" cy="764.9" r="0.4" fill="#B0B0D0"/>
<circle cx="586.4" cy="764.9" r="1.2" fill="#6A6AE6"/>
<circle cx="438.4" cy="787.3" r="3.5" fill="#E04448"/>
<circle cx="459.5" cy="787.3" r="0.8" fill="#C88888"/>
<circle cx="480.7" cy="787.3" r="4.7" fill="#C8A0A4"/>
<circle cx="501.8" cy="787.3" r="2.9" fill="#E04448"/>
<circle cx="523.0" cy="787.3" r="2.7" fill="#D07078"/>
<circle cx="544.1" cy="787.3" r="3.8" fill="#D06870"/>
<circle cx="565.3" cy="787.3" r="0.4" fill="#C0A0A0"/>
<circle cx="586.4" cy="787.3" r="0.5" fill="#C0A0A0"/>
<circle cx="438.4" cy="809.6" r="1.8" fill="#8888E0"/>
<circle cx="459.5" cy="809.6" r="1.8" fill="#4A4AF0"/>
<circle cx="480.7" cy="809.6" r="5" fill="#7878DE"/>
<circle cx="501.8" cy="809.6" r="0.8" fill="#9090E0"/>
<circle cx="523.0" cy="809.6" r="3.8" fill="#6A6AE8"/>
<circle cx="544.1" cy="809.6" r="4.8" fill="#6464EA"/>
<circle cx="565.3" cy="809.6" r="0.8" fill="#3030F0"/>
<circle cx="586.4" cy="809.6" r="1.6" fill="#6A6AE6"/>
<text x="512.5" y="863.3" font-size="9.2" text-anchor="middle" fill="#000">Features</text>
<text x="374.5" y="710.5" font-size="9.2" text-anchor="middle" fill="#000" transform="rotate(-90 374.5 710.5)">Split Identity</text>
<defs><linearGradient id="gr" x1="0" y1="0" x2="0" y2="1"><stop offset="0" stop-color="#FF1A0E"/><stop offset="1" stop-color="#C8C8C8"/></linearGradient></defs>
<defs><linearGradient id="gb" x1="0" y1="0" x2="0" y2="1"><stop offset="0" stop-color="#1A00FF"/><stop offset="1" stop-color="#D2D2DA"/></linearGradient></defs>
<text x="607.7" y="613.6" font-size="8.2" text-anchor="start" fill="#1a1a1a">Average Expression</text>
<rect x="607.3" y="618.1" width="9.3" height="45.5" fill="url(#gr)"/>
<text x="620.6" y="626.4" font-size="7.3" text-anchor="start" fill="#1a1a1a">2</text>
<line x1="607.3" y1="623.8" x2="609.2" y2="623.8" stroke="#fff" stroke-width="0.5"/>
<line x1="614.7" y1="623.8" x2="616.6" y2="623.8" stroke="#fff" stroke-width="0.5"/>
<text x="620.6" y="636.45" font-size="7.3" text-anchor="start" fill="#1a1a1a">1</text>
<line x1="607.3" y1="633.85" x2="609.2" y2="633.85" stroke="#fff" stroke-width="0.5"/>
<line x1="614.7" y1="633.85" x2="616.6" y2="633.85" stroke="#fff" stroke-width="0.5"/>
<text x="620.6" y="646.5" font-size="7.3" text-anchor="start" fill="#1a1a1a">0</text>
<line x1="607.3" y1="643.9" x2="609.2" y2="643.9" stroke="#fff" stroke-width="0.5"/>
<line x1="614.7" y1="643.9" x2="616.6" y2="643.9" stroke="#fff" stroke-width="0.5"/>
<text x="620.6" y="656.55" font-size="7.3" text-anchor="start" fill="#1a1a1a">−1</text>
<line x1="607.3" y1="653.95" x2="609.2" y2="653.95" stroke="#fff" stroke-width="0.5"/>
<line x1="614.7" y1="653.95" x2="616.6" y2="653.95" stroke="#fff" stroke-width="0.5"/>
<text x="620.6" y="666.6" font-size="7.3" text-anchor="start" fill="#1a1a1a">−2</text>
<line x1="607.3" y1="664" x2="609.2" y2="664" stroke="#fff" stroke-width="0.5"/>
<line x1="614.7" y1="664" x2="616.6" y2="664" stroke="#fff" stroke-width="0.5"/>
<text x="608.6" y="682.5" font-size="8.9" text-anchor="start" fill="#1a1a1a">Percent Expressed</text>
<circle cx="615.5" cy="693.0" r="0.35" fill="#000"/>
<text x="627.3" y="695.8" font-size="7.9" text-anchor="start" fill="#1a1a1a">0</text>
<circle cx="615.5" cy="703.1" r="2" fill="#000"/>
<text x="627.3" y="705.9" font-size="7.9" text-anchor="start" fill="#1a1a1a">25</text>
<circle cx="615.5" cy="712.8" r="3.5" fill="#000"/>
<text x="627.3" y="715.6" font-size="7.9" text-anchor="start" fill="#1a1a1a">50</text>
<circle cx="615.5" cy="723.4" r="4.8" fill="#000"/>
<text x="627.3" y="726.2" font-size="7.9" text-anchor="start" fill="#1a1a1a">75</text>
<circle cx="615.5" cy="735.8" r="6.3" fill="#000"/>
<text x="627.3" y="738.6" font-size="7.9" text-anchor="start" fill="#1a1a1a">100</text>
<text x="608" y="758.4" font-size="8.2" text-anchor="start" fill="#1a1a1a">Average Expression</text>
<rect x="608" y="762.9" width="9.5" height="45.8" fill="url(#gb)"/>
<text x="621.4" y="770.8" font-size="7.3" text-anchor="start" fill="#1a1a1a">2</text>
<line x1="608" y1="768.2" x2="610" y2="768.2" stroke="#fff" stroke-width="0.5"/>
<line x1="615.5" y1="768.2" x2="617.5" y2="768.2" stroke="#fff" stroke-width="0.5"/>
<text x="621.4" y="780.9" font-size="7.3" text-anchor="start" fill="#1a1a1a">1</text>
<line x1="608" y1="778.3" x2="610" y2="778.3" stroke="#fff" stroke-width="0.5"/>
<line x1="615.5" y1="778.3" x2="617.5" y2="778.3" stroke="#fff" stroke-width="0.5"/>
<text x="621.4" y="791" font-size="7.3" text-anchor="start" fill="#1a1a1a">0</text>
<line x1="608" y1="788.4" x2="610" y2="788.4" stroke="#fff" stroke-width="0.5"/>
<line x1="615.5" y1="788.4" x2="617.5" y2="788.4" stroke="#fff" stroke-width="0.5"/>
<text x="621.4" y="801.1" font-size="7.3" text-anchor="start" fill="#1a1a1a">−1</text>
<line x1="608" y1="798.5" x2="610" y2="798.5" stroke="#fff" stroke-width="0.5"/>
<line x1="615.5" y1="798.5" x2="617.5" y2="798.5" stroke="#fff" stroke-width="0.5"/>
<text x="621.4" y="811.2" font-size="7.3" text-anchor="start" fill="#1a1a1a">−2</text>
<line x1="608" y1="808.6" x2="610" y2="808.6" stroke="#fff" stroke-width="0.5"/>
<line x1="615.5" y1="808.6" x2="617.5" y2="808.6" stroke="#fff" stroke-width="0.5"/>
<text x="448.9" y="17" font-size="21.5" font-weight="bold" fill="#000">b</text>
<text x="553.7" y="26.6" font-size="12.7" text-anchor="middle" fill="#000" font-weight="bold">Proportion of Cells</text>
<line x1="477.6" y1="31.6" x2="477.6" y2="205.9" stroke="#666" stroke-width="1.05"/>
<line x1="477.1" y1="205.4" x2="629.5" y2="205.4" stroke="#666" stroke-width="1.05"/>
<line x1="475.1" y1="198" x2="477.6" y2="198" stroke="#666" stroke-width="0.8"/>
<text x="475.2" y="201.4" font-size="9.6" text-anchor="end" fill="#4d4d4d">0.0</text>
<line x1="475.1" y1="150.86" x2="477.6" y2="150.86" stroke="#666" stroke-width="0.8"/>
<text x="475.2" y="154.26" font-size="9.6" text-anchor="end" fill="#4d4d4d">0.2</text>
<line x1="475.1" y1="103.72" x2="477.6" y2="103.72" stroke="#666" stroke-width="0.8"/>
<text x="475.2" y="107.12" font-size="9.6" text-anchor="end" fill="#4d4d4d">0.4</text>
<line x1="475.1" y1="56.58" x2="477.6" y2="56.58" stroke="#666" stroke-width="0.8"/>
<text x="475.2" y="59.98" font-size="9.6" text-anchor="end" fill="#4d4d4d">0.6</text>
<rect x="482.00" y="165.10" width="13.2" height="32.90" fill="#EC6F6C"/>
<rect x="495.20" y="39.37" width="13.2" height="158.63" fill="#62D6CA"/>
<line x1="495.2" y1="205.4" x2="495.2" y2="208" stroke="#666" stroke-width="0.8"/>
<text x="499.9" y="213.2" font-size="9.6" text-anchor="end" fill="#4d4d4d" transform="rotate(-45 499.9 213.2)">PA.1</text>
<rect x="511.10" y="110.56" width="13.2" height="87.44" fill="#EC6F6C"/>
<rect x="524.30" y="185.74" width="13.2" height="12.26" fill="#62D6CA"/>
<line x1="524.3" y1="205.4" x2="524.3" y2="208" stroke="#666" stroke-width="0.8"/>
<text x="529" y="213.2" font-size="9.6" text-anchor="end" fill="#4d4d4d" transform="rotate(-45 529 213.2)">PA.2</text>
<rect x="540.20" y="148.27" width="13.2" height="49.73" fill="#EC6F6C"/>
<rect x="553.40" y="148.27" width="13.2" height="49.73" fill="#62D6CA"/>
<line x1="553.4" y1="205.4" x2="553.4" y2="208" stroke="#666" stroke-width="0.8"/>
<text x="558.1" y="213.2" font-size="9.6" text-anchor="end" fill="#4d4d4d" transform="rotate(-45 558.1 213.2)">PA.3</text>
<rect x="569.30" y="152.98" width="13.2" height="45.02" fill="#EC6F6C"/>
<rect x="582.50" y="194.94" width="13.2" height="3.06" fill="#62D6CA"/>
<line x1="582.5" y1="205.4" x2="582.5" y2="208" stroke="#666" stroke-width="0.8"/>
<text x="587.2" y="213.2" font-size="9.6" text-anchor="end" fill="#4d4d4d" transform="rotate(-45 587.2 213.2)">PA.4</text>
<rect x="598.40" y="175.61" width="13.2" height="22.39" fill="#EC6F6C"/>
<rect x="611.60" y="184.80" width="13.2" height="13.20" fill="#62D6CA"/>
<line x1="611.6" y1="205.4" x2="611.6" y2="208" stroke="#666" stroke-width="0.8"/>
<text x="616.3" y="213.2" font-size="9.6" text-anchor="end" fill="#4d4d4d" transform="rotate(-45 616.3 213.2)">PA.5</text>
<text x="553.8" y="237.6" font-size="10" text-anchor="middle" fill="#000">cluster</text>
<text x="459.2" y="118.3" font-size="10.4" text-anchor="middle" fill="#000" transform="rotate(-90 459.2 118.3)">Freq</text>
<text x="637" y="112.2" font-size="8.3" text-anchor="start" fill="#000">condition</text>
<rect x="637" y="117" width="7.4" height="7.2" fill="#EC6F6C"/>
<rect x="637" y="124.4" width="7.4" height="7.2" fill="#62D6CA"/>
<text x="648" y="123.4" font-size="8.3" text-anchor="start" fill="#000">control</text>
<text x="648" y="131" font-size="8.3" text-anchor="start" fill="#000">cteph</text>
<text x="18.7" y="271" font-size="21.5" font-weight="bold" fill="#000">c</text>
<g transform="translate(0 295) scale(0.1 9.9)" shape-rendering="crispEdges">
<path fill="#54540c" d="M352 0h11v1h-11zM384 0h17v1h-17zM809 0h37v1h-37zM864 0h10v1h-10zM1084 0h12v1h-12zM1119 0h11v1h-11zM3428 0h9v1h-9zM352 1h11v1h-11zM401 1h17v1h-17zM740 1h30v1h-30zM921 1h11v1h-11zM1359 1h10v1h-10zM2476 1h9v1h-9zM3774 1h9v1h-9zM1130 2h9v1h-9zM1228 2h9v1h-9zM472 4h9v1h-9zM646 4h10v1h-10zM703 4h14v1h-14zM881 4h12v1h-12zM1063 4h7v1h-7zM1261 4h11v1h-11zM2013 4h11v1h-11zM3790 4h10v1h-10zM1801 5h12v1h-12zM1933 5h17v1h-17zM2572 5h14v1h-14zM2660 5h9v1h-9zM3035 5h7v1h-7zM3153 6h10v1h-10zM3207 6h20v1h-20zM3485 6h10v1h-10zM514 7h9v1h-9zM2098 7h12v1h-12zM3581 7h11v1h-11zM977 8h9v1h-9zM1707 8h24v1h-24zM2191 8h9v1h-9zM2292 8h17v1h-17zM1666 9h17v1h-17zM1790 9h11v1h-11zM1891 9h11v1h-11zM2420 9h7v1h-7zM2669 9h14v1h-14zM793 10h7v1h-7zM1640 10h17v1h-17zM1813 10h7v1h-7zM1891 10h11v1h-11zM1914 10h9v1h-9zM2033 10h10v1h-10zM2159 10h7v1h-7zM2280 10h12v1h-12zM2476 10h9v1h-9zM2511 10h17v1h-17zM2549 10h11v1h-11zM2572 10h14v1h-14zM2607 10h14v1h-14zM2646 10h14v1h-14zM1997 11h9v1h-9zM2013 11h11v1h-11zM2229 11h17v1h-17zM2447 11h20v1h-20zM2485 11h12v1h-12zM2540 11h32v1h-32zM2614 11h21v1h-21zM2292 12h17v1h-17zM2372 12h11v1h-11zM2597 12h17v1h-17zM2621 12h14v1h-14zM2646 12h14v1h-14zM3004 12h14v1h-14zM2043 13h9v1h-9zM2467 13h9v1h-9zM2497 13h14v1h-14zM2540 13h20v1h-20zM2690 13h12v1h-12zM2787 13h9v1h-9zM445 14h17v1h-17zM1783 14h7v1h-7zM1862 14h17v1h-17zM2159 14h7v1h-7zM2191 14h9v1h-9zM2327 14h17v1h-17zM2427 14h10v1h-10zM2497 14h14v1h-14zM2528 14h12v1h-12zM2621 14h25v1h-25zM2765 14h12v1h-12zM2889 14h10v1h-10zM646 15h10v1h-10zM1096 15h9v1h-9zM3790 15h10v1h-10zM445 16h17v1h-17zM481 16h10v1h-10zM800 16h9v1h-9zM1063 16h7v1h-7zM3428 16h9v1h-9zM503 17h11v1h-11zM625 17h12v1h-12zM752 17h9v1h-9zM846 17h7v1h-7zM907 17h14v1h-14zM960 17h17v1h-17zM637 18h9v1h-9zM3592 18h19v1h-19zM3692 18h9v1h-9zM691 19h12v1h-12zM846 19h7v1h-7zM2973 19h12v1h-12zM401 20h17v1h-17zM1105 20h25v1h-25zM1163 20h14v1h-14zM3385 20h7v1h-7zM703 21h14v1h-14zM1221 21h7v1h-7zM1261 21h11v1h-11zM1429 21h10v1h-10zM3326 21h7v1h-7zM3592 21h7v1h-7zM1237 22h7v1h-7zM3361 22h17v1h-17zM3564 22h17v1h-17zM363 23h14v1h-14zM717 23h11v1h-11zM836 23h10v1h-10zM1369 23h12v1h-12zM2560 23h12v1h-12zM2944 23h17v1h-17zM3241 23h11v1h-11zM3665 23h7v1h-7zM3701 23h7v1h-7zM481 24h10v1h-10zM503 24h11v1h-11zM740 24h12v1h-12zM932 24h7v1h-7zM1012 24h9v1h-9zM1177 24h17v1h-17zM1204 24h17v1h-17zM3554 24h10v1h-10zM3672 24h11v1h-11z"/>
<path fill="#849018" d="M363 0h14v1h-14zM728 0h12v1h-12zM1130 0h9v1h-9zM1404 0h9v1h-9zM1221 1h7v1h-7zM2820 1h14v1h-14zM491 4h12v1h-12zM1336 4h14v1h-14zM3207 4h10v1h-10zM3428 4h9v1h-9zM2973 5h12v1h-12zM3004 5h14v1h-14zM2320 6h7v1h-7zM1891 7h11v1h-11zM2511 8h17v1h-17zM2070 9h9v1h-9zM1657 11h9v1h-9zM3485 15h10v1h-10zM3307 16h10v1h-10zM3411 16h17v1h-17zM3207 17h10v1h-10zM3540 17h14v1h-14zM3476 18h9v1h-9zM578 19h12v1h-12zM1063 19h7v1h-7zM3437 20h17v1h-17zM1096 21h9v1h-9zM1281 21h9v1h-9zM3428 23h9v1h-9z"/>
<path fill="#543030" d="M377 0h7v1h-7zM1613 0h11v1h-11zM1683 0h7v1h-7zM2061 0h9v1h-9zM932 1h7v1h-7zM2143 1h7v1h-7zM3075 2h14v1h-14zM3505 2h9v1h-9zM1731 4h9v1h-9zM2683 4h7v1h-7zM2765 4h12v1h-12zM3042 4h9v1h-9zM2246 5h17v1h-17zM3061 6h14v1h-14zM3392 6h7v1h-7zM3326 8h7v1h-7zM2777 10h10v1h-10zM1336 11h14v1h-14zM2280 12h12v1h-12zM3153 12h10v1h-10zM3692 12h9v1h-9zM1404 13h9v1h-9zM2690 15h12v1h-12zM637 16h9v1h-9zM2796 17h12v1h-12zM2013 18h11v1h-11zM1813 19h7v1h-7zM2572 19h14v1h-14zM445 20h17v1h-17zM684 20h7v1h-7zM874 20h7v1h-7zM1950 20h14v1h-14zM2320 20h7v1h-7zM3004 20h14v1h-14zM3163 20h11v1h-11zM1964 21h14v1h-14zM2159 22h7v1h-7zM3075 22h14v1h-14zM881 23h12v1h-12zM2549 23h11v1h-11zM363 24h14v1h-14zM3174 24h10v1h-10z"/>
<path fill="#0c0c00" d="M401 0h17v1h-17zM2586 0h11v1h-11zM491 1h12v1h-12zM1666 1h17v1h-17zM2456 1h11v1h-11zM1237 2h7v1h-7zM1281 2h9v1h-9zM3554 2h10v1h-10zM352 3h11v1h-11zM491 3h12v1h-12zM864 3h10v1h-10zM1801 3h12v1h-12zM2540 3h9v1h-9zM2614 3h7v1h-7zM2865 3h17v1h-17zM3184 3h11v1h-11zM3163 6h11v1h-11zM2280 7h12v1h-12zM670 8h14v1h-14zM740 8h12v1h-12zM881 8h12v1h-12zM800 9h9v1h-9zM932 9h7v1h-7zM1690 9h17v1h-17zM2079 9h10v1h-10zM2246 9h17v1h-17zM2229 10h17v1h-17zM2270 11h10v1h-10zM1783 12h7v1h-7zM377 13h7v1h-7zM568 13h10v1h-10zM846 13h7v1h-7zM503 14h11v1h-11zM717 14h11v1h-11zM977 14h9v1h-9zM1820 14h7v1h-7zM2344 14h17v1h-17zM625 15h12v1h-12zM462 16h10v1h-10zM691 16h12v1h-12zM939 16h7v1h-7zM1012 16h9v1h-9zM2597 16h10v1h-10zM1228 17h9v1h-9zM435 18h10v1h-10zM728 18h12v1h-12zM826 18h10v1h-10zM864 18h10v1h-10zM1130 18h9v1h-9zM2485 18h12v1h-12zM2560 18h12v1h-12zM2635 18h11v1h-11zM2669 18h14v1h-14zM1084 19h12v1h-12zM3790 19h10v1h-10zM3347 20h14v1h-14zM1272 22h9v1h-9zM1631 22h9v1h-9zM401 24h17v1h-17zM445 24h17v1h-17zM3298 24h9v1h-9z"/>
<path fill="#48480c" d="M418 0h17v1h-17zM472 0h9v1h-9zM514 0h9v1h-9zM540 0h17v1h-17zM578 0h12v1h-12zM684 0h7v1h-7zM779 0h14v1h-14zM846 0h18v1h-18zM1914 0h9v1h-9zM2635 0h11v1h-11zM2961 0h12v1h-12zM1070 1h14v1h-14zM1163 1h14v1h-14zM1244 1h17v1h-17zM1281 1h9v1h-9zM3701 1h16v1h-16zM809 2h17v1h-17zM1105 2h14v1h-14zM1221 2h7v1h-7zM1520 2h10v1h-10zM1539 2h11v1h-11zM1585 2h7v1h-7zM2549 2h11v1h-11zM590 4h14v1h-14zM1119 4h20v1h-20zM656 5h14v1h-14zM1902 5h12v1h-12zM2117 5h12v1h-12zM2320 5h7v1h-7zM2597 5h10v1h-10zM2690 5h12v1h-12zM2777 5h10v1h-10zM2985 5h12v1h-12zM1783 6h7v1h-7zM3139 6h14v1h-14zM3495 6h19v1h-19zM2787 7h9v1h-9zM3174 7h10v1h-10zM1439 8h17v1h-17zM1820 8h7v1h-7zM1862 8h17v1h-17zM2061 8h9v1h-9zM2607 8h7v1h-7zM1508 9h12v1h-12zM1827 9h25v1h-25zM2110 9h7v1h-7zM2217 9h12v1h-12zM2447 9h9v1h-9zM2646 9h14v1h-14zM3096 9h10v1h-10zM1902 10h12v1h-12zM2309 10h11v1h-11zM2427 10h10v1h-10zM2456 10h20v1h-20zM2497 10h14v1h-14zM2560 10h12v1h-12zM2586 10h11v1h-11zM2635 10h11v1h-11zM2669 10h21v1h-21zM3317 10h9v1h-9zM1640 11h17v1h-17zM1707 11h14v1h-14zM2052 11h18v1h-18zM2143 11h7v1h-7zM2383 11h5v1h-5zM2411 11h9v1h-9zM2669 11h14v1h-14zM2746 11h9v1h-9zM2765 11h12v1h-12zM1827 12h14v1h-14zM1891 12h11v1h-11zM2159 12h7v1h-7zM2270 12h10v1h-10zM2420 12h17v1h-17zM2485 12h12v1h-12zM2549 12h11v1h-11zM2660 12h9v1h-9zM1657 13h9v1h-9zM2476 13h9v1h-9zM2669 13h14v1h-14zM656 14h14v1h-14zM1964 14h14v1h-14zM2061 14h18v1h-18zM2117 14h12v1h-12zM2372 14h11v1h-11zM2437 14h19v1h-19zM2467 14h9v1h-9zM2511 14h17v1h-17zM2586 14h21v1h-21zM3051 14h10v1h-10zM3106 14h8v1h-8zM1063 15h7v1h-7zM1456 15h17v1h-17zM3564 15h17v1h-17zM352 16h25v1h-25zM646 16h10v1h-10zM703 16h14v1h-14zM793 16h7v1h-7zM846 16h7v1h-7zM881 16h12v1h-12zM1163 16h14v1h-14zM728 17h12v1h-12zM864 17h10v1h-10zM986 17h14v1h-14zM1429 17h10v1h-10zM1498 17h10v1h-10zM3307 17h10v1h-10zM3611 17h10v1h-10zM3790 17h10v1h-10zM3495 18h10v1h-10zM3708 18h9v1h-9zM3774 18h9v1h-9zM401 19h17v1h-17zM1130 20h9v1h-9zM1194 20h10v1h-10zM1404 20h9v1h-9zM3333 20h14v1h-14zM533 21h7v1h-7zM728 21h12v1h-12zM800 21h9v1h-9zM1640 21h17v1h-17zM3174 21h10v1h-10zM3708 21h9v1h-9zM1012 22h9v1h-9zM1031 22h7v1h-7zM1070 22h14v1h-14zM1119 22h11v1h-11zM1151 22h12v1h-12zM1244 22h17v1h-17zM1827 22h14v1h-14zM1852 22h10v1h-10zM2166 22h14v1h-14zM3514 22h11v1h-11zM3540 22h14v1h-14zM3599 22h12v1h-12zM3665 22h7v1h-7zM3744 22h9v1h-9zM472 23h9v1h-9zM656 23h14v1h-14zM691 23h12v1h-12zM761 23h9v1h-9zM809 23h17v1h-17zM986 23h14v1h-14zM1163 23h14v1h-14zM1381 23h11v1h-11zM3252 23h11v1h-11zM3454 23h11v1h-11zM384 24h17v1h-17zM435 24h10v1h-10zM1063 24h7v1h-7zM1105 24h14v1h-14zM2427 24h10v1h-10zM3333 24h14v1h-14zM3581 24h11v1h-11zM3734 24h10v1h-10z"/>
<path fill="#6c6c18" d="M435 0h10v1h-10zM874 0h7v1h-7zM1021 0h17v1h-17zM1070 0h14v1h-14zM3042 0h9v1h-9zM3505 0h9v1h-9zM939 1h7v1h-7zM1369 1h12v1h-12zM1439 1h17v1h-17zM1070 2h14v1h-14zM1096 2h9v1h-9zM481 4h10v1h-10zM3753 4h10v1h-10zM2229 5h17v1h-17zM2344 5h28v1h-28zM1964 6h14v1h-14zM2280 6h12v1h-12zM3291 6h7v1h-7zM3476 6h9v1h-9zM2129 7h14v1h-14zM2270 7h10v1h-10zM2089 9h9v1h-9zM2327 9h17v1h-17zM2411 10h9v1h-9zM3139 10h14v1h-14zM1592 11h7v1h-7zM2467 12h9v1h-9zM2246 13h17v1h-17zM2851 14h14v1h-14zM377 15h7v1h-7zM1031 15h7v1h-7zM1163 15h14v1h-14zM1530 15h9v1h-9zM491 16h12v1h-12zM568 16h10v1h-10zM590 16h23v1h-23zM2614 16h7v1h-7zM384 17h17v1h-17zM646 17h10v1h-10zM3139 17h14v1h-14zM3241 17h11v1h-11zM907 19h25v1h-25zM2344 19h17v1h-17zM3399 19h12v1h-12zM514 20h9v1h-9zM3280 20h11v1h-11zM3753 20h10v1h-10zM1012 21h9v1h-9zM1063 21h7v1h-7zM3683 21h9v1h-9zM3428 22h9v1h-9zM3734 22h10v1h-10zM401 23h17v1h-17zM864 23h10v1h-10zM1550 23h12v1h-12zM3184 23h11v1h-11zM3263 23h7v1h-7zM3514 23h11v1h-11zM613 24h12v1h-12zM1163 24h14v1h-14zM3611 24h10v1h-10z"/>
<path fill="#482430" d="M445 0h17v1h-17zM3298 0h9v1h-9zM3701 0h7v1h-7zM826 1h10v1h-10zM2411 1h9v1h-9zM3790 1h10v1h-10zM939 2h7v1h-7zM2270 2h10v1h-10zM3270 2h10v1h-10zM2246 4h17v1h-17zM2660 4h9v1h-9zM2882 4h7v1h-7zM3611 4h10v1h-10zM3241 5h11v1h-11zM3333 6h14v1h-14zM846 7h7v1h-7zM1599 7h14v1h-14zM1950 7h14v1h-14zM2808 8h12v1h-12zM1766 9h17v1h-17zM1978 9h7v1h-7zM2166 9h14v1h-14zM2191 9h9v1h-9zM2292 9h17v1h-17zM2043 10h9v1h-9zM2159 11h7v1h-7zM2834 12h17v1h-17zM1592 14h7v1h-7zM2383 14h5v1h-5zM1950 15h14v1h-14zM2711 15h14v1h-14zM1439 17h17v1h-17zM2725 17h9v1h-9zM2150 18h9v1h-9zM3717 19h17v1h-17zM793 20h7v1h-7zM893 20h14v1h-14zM1508 20h12v1h-12zM3018 20h17v1h-17zM1820 21h7v1h-7zM3227 21h14v1h-14zM533 22h7v1h-7zM1978 22h7v1h-7zM3683 22h9v1h-9zM462 23h10v1h-10zM1151 24h12v1h-12zM1307 24h17v1h-17zM2200 24h17v1h-17z"/>
<path fill="#6c6c0c" d="M462 0h10v1h-10zM960 0h17v1h-17zM1194 0h10v1h-10zM578 1h26v1h-26zM793 1h7v1h-7zM1084 1h12v1h-12zM1392 1h12v1h-12zM800 2h9v1h-9zM3174 2h10v1h-10zM363 4h14v1h-14zM752 4h9v1h-9zM1272 4h9v1h-9zM3701 4h7v1h-7zM1790 5h11v1h-11zM3075 5h14v1h-14zM2043 6h9v1h-9zM3428 6h9v1h-9zM770 7h9v1h-9zM1766 7h17v1h-17zM1801 7h12v1h-12zM2052 8h9v1h-9zM2070 8h9v1h-9zM3128 8h11v1h-11zM1879 10h12v1h-12zM2166 10h14v1h-14zM2485 10h12v1h-12zM2725 10h9v1h-9zM3042 10h9v1h-9zM1420 11h9v1h-9zM2117 11h12v1h-12zM1707 12h14v1h-14zM1902 12h12v1h-12zM3075 12h21v1h-21zM1820 13h7v1h-7zM2820 13h14v1h-14zM3075 13h14v1h-14zM1790 14h11v1h-11zM1997 14h9v1h-9zM2292 14h17v1h-17zM2777 14h10v1h-10zM435 16h10v1h-10zM1021 16h10v1h-10zM3465 16h11v1h-11zM3392 17h7v1h-7zM3476 17h9v1h-9zM3392 18h7v1h-7zM3505 18h9v1h-9zM3744 18h9v1h-9zM533 19h7v1h-7zM637 19h9v1h-9zM384 20h17v1h-17zM1084 20h12v1h-12zM1281 20h9v1h-9zM1369 20h12v1h-12zM3326 20h7v1h-7zM939 21h7v1h-7zM3648 21h17v1h-17zM3744 21h9v1h-9zM2796 22h12v1h-12zM3128 22h11v1h-11zM3648 22h17v1h-17zM3790 22h10v1h-10zM752 23h9v1h-9zM1456 23h17v1h-17zM853 24h11v1h-11zM1244 24h17v1h-17zM3184 24h11v1h-11z"/>
<path fill="#cccc24" d="M481 0h10v1h-10zM1498 5h10v1h-10zM1950 5h14v1h-14zM2997 5h7v1h-7zM2270 6h10v1h-10zM1841 7h11v1h-11zM1923 7h10v1h-10zM2043 8h9v1h-9zM2916 11h11v1h-11zM3051 11h10v1h-10zM2882 13h7v1h-7zM2865 14h17v1h-17zM2985 14h12v1h-12zM3139 15h14v1h-14zM3217 15h10v1h-10zM3307 15h10v1h-10zM3361 15h17v1h-17zM3195 16h12v1h-12zM3317 16h9v1h-9zM3361 16h17v1h-17zM881 19h12v1h-12zM3195 22h12v1h-12z"/>
<path fill="#848418" d="M491 0h12v1h-12zM2006 0h7v1h-7zM418 1h17v1h-17zM703 1h14v1h-14zM779 1h14v1h-14zM1350 1h9v1h-9zM1489 1h9v1h-9zM1820 1h7v1h-7zM3428 1h9v1h-9zM1272 2h9v1h-9zM3333 2h14v1h-14zM893 4h14v1h-14zM1038 4h14v1h-14zM1070 4h14v1h-14zM1550 5h12v1h-12zM1640 5h17v1h-17zM1862 5h17v1h-17zM2327 5h17v1h-17zM1879 6h12v1h-12zM2159 6h7v1h-7zM2309 6h11v1h-11zM2372 6h11v1h-11zM3174 6h10v1h-10zM3263 6h7v1h-7zM1657 7h9v1h-9zM1690 7h31v1h-31zM2934 7h10v1h-10zM1640 8h17v1h-17zM1731 8h9v1h-9zM1754 8h12v1h-12zM2263 9h7v1h-7zM2361 9h11v1h-11zM1766 10h17v1h-17zM1923 10h10v1h-10zM2200 10h17v1h-17zM2889 10h10v1h-10zM2372 11h11v1h-11zM1766 12h17v1h-17zM2327 12h17v1h-17zM2899 12h17v1h-17zM2997 12h7v1h-7zM3051 12h10v1h-10zM1690 13h17v1h-17zM1801 13h12v1h-12zM2013 13h11v1h-11zM2079 13h10v1h-10zM2280 13h12v1h-12zM2320 13h7v1h-7zM3061 14h14v1h-14zM3252 15h11v1h-11zM533 16h7v1h-7zM809 17h17v1h-17zM1163 17h14v1h-14zM3174 17h10v1h-10zM3385 17h7v1h-7zM3307 18h10v1h-10zM3378 18h7v1h-7zM363 19h14v1h-14zM646 19h10v1h-10zM809 19h17v1h-17zM977 19h9v1h-9zM3227 19h14v1h-14zM3252 19h11v1h-11zM3378 19h7v1h-7zM3428 19h9v1h-9zM3485 19h10v1h-10zM3514 19h11v1h-11zM363 20h14v1h-14zM590 20h14v1h-14zM637 20h9v1h-9zM1012 20h9v1h-9zM3217 20h10v1h-10zM3411 20h17v1h-17zM3564 20h17v1h-17zM1021 21h10v1h-10zM1244 21h17v1h-17zM3207 21h10v1h-10zM3437 21h17v1h-17zM3184 22h11v1h-11zM3291 22h7v1h-7zM3392 22h7v1h-7zM3465 22h11v1h-11zM3774 22h9v1h-9zM540 23h17v1h-17zM853 23h11v1h-11zM3385 23h7v1h-7zM418 24h17v1h-17zM846 24h7v1h-7zM977 24h9v1h-9zM3648 24h24v1h-24z"/>
<path fill="#787818" d="M503 0h11v1h-11zM613 0h12v1h-12zM793 0h7v1h-7zM932 0h7v1h-7zM363 1h14v1h-14zM533 1h7v1h-7zM977 1h9v1h-9zM1204 1h17v1h-17zM1404 1h9v1h-9zM2309 1h11v1h-11zM1194 2h10v1h-10zM3195 2h12v1h-12zM3621 2h10v1h-10zM540 4h17v1h-17zM656 4h14v1h-14zM1350 4h9v1h-9zM1813 5h7v1h-7zM1879 5h12v1h-12zM2263 5h7v1h-7zM2808 5h12v1h-12zM3042 5h9v1h-9zM3061 5h14v1h-14zM1790 6h11v1h-11zM1923 6h10v1h-10zM2143 6h7v1h-7zM2229 6h17v1h-17zM3465 6h11v1h-11zM613 7h12v1h-12zM1721 7h10v1h-10zM2013 7h11v1h-11zM2089 7h9v1h-9zM2796 7h12v1h-12zM3051 7h10v1h-10zM1359 8h10v1h-10zM1740 8h14v1h-14zM1813 8h7v1h-7zM2117 8h12v1h-12zM3428 8h9v1h-9zM1666 10h17v1h-17zM1690 10h17v1h-17zM1862 10h17v1h-17zM2089 10h9v1h-9zM2934 10h10v1h-10zM2166 11h14v1h-14zM2217 11h12v1h-12zM3042 11h9v1h-9zM3061 11h28v1h-28zM1862 12h17v1h-17zM2320 12h7v1h-7zM2973 12h12v1h-12zM1731 13h9v1h-9zM1852 13h10v1h-10zM1997 13h9v1h-9zM2052 13h9v1h-9zM2180 13h11v1h-11zM2447 13h9v1h-9zM2725 13h9v1h-9zM2916 13h11v1h-11zM2973 13h12v1h-12zM3004 13h14v1h-14zM3106 13h8v1h-8zM1879 14h12v1h-12zM2150 14h9v1h-9zM2690 14h12v1h-12zM2882 14h7v1h-7zM401 15h17v1h-17zM3514 15h11v1h-11zM401 16h17v1h-17zM960 16h17v1h-17zM1038 16h14v1h-14zM3184 16h11v1h-11zM3326 16h7v1h-7zM533 17h7v1h-7zM578 17h12v1h-12zM604 17h9v1h-9zM761 17h9v1h-9zM3291 17h7v1h-7zM3326 17h21v1h-21zM3347 18h14v1h-14zM3683 18h9v1h-9zM352 19h11v1h-11zM557 19h11v1h-11zM1261 19h11v1h-11zM2889 19h10v1h-10zM3184 19h11v1h-11zM3298 19h9v1h-9zM3385 19h7v1h-7zM540 20h17v1h-17zM779 20h14v1h-14zM1021 20h10v1h-10zM1420 20h9v1h-9zM1480 20h9v1h-9zM2702 20h9v1h-9zM3505 20h9v1h-9zM770 21h9v1h-9zM1052 21h11v1h-11zM1084 21h12v1h-12zM1139 21h24v1h-24zM3378 21h14v1h-14zM3763 21h11v1h-11zM3153 22h10v1h-10zM3252 22h11v1h-11zM3298 22h9v1h-9zM3385 22h7v1h-7zM445 23h17v1h-17zM793 23h7v1h-7zM1244 23h17v1h-17zM1272 23h9v1h-9zM1350 23h9v1h-9zM3307 23h10v1h-10zM3790 23h10v1h-10zM826 24h10v1h-10zM921 24h11v1h-11zM1021 24h10v1h-10zM1038 24h14v1h-14z"/>
<path fill="#9c843c" d="M523 0h10v1h-10zM2702 10h9v1h-9zM2191 13h9v1h-9zM1021 17h10v1h-10zM3428 20h9v1h-9z"/>
<path fill="#541848" d="M533 0h7v1h-7zM2497 2h14v1h-14zM3317 4h9v1h-9zM977 15h9v1h-9zM2621 17h14v1h-14zM2052 19h9v1h-9zM853 21h11v1h-11z"/>
<path fill="#544818" d="M557 0h11v1h-11zM462 1h10v1h-10zM1721 1h10v1h-10zM960 2h17v1h-17zM2787 2h9v1h-9zM1813 4h7v1h-7zM2309 4h11v1h-11zM3252 4h11v1h-11zM3378 4h7v1h-7zM717 5h11v1h-11zM3540 5h14v1h-14zM893 6h14v1h-14zM1420 7h9v1h-9zM1766 8h17v1h-17zM2159 8h7v1h-7zM2865 8h17v1h-17zM740 11h12v1h-12zM1480 11h9v1h-9zM761 12h9v1h-9zM1599 12h14v1h-14zM1683 12h7v1h-7zM2006 14h7v1h-7zM2129 14h14v1h-14zM3505 14h9v1h-9zM3665 14h7v1h-7zM846 15h7v1h-7zM503 19h11v1h-11zM893 19h14v1h-14zM1766 19h17v1h-17zM3263 19h7v1h-7zM3505 19h9v1h-9zM670 20h14v1h-14zM1657 20h9v1h-9zM2089 21h9v1h-9z"/>
<path fill="#543c18" d="M568 0h10v1h-10zM2229 1h17v1h-17zM2061 4h9v1h-9zM986 6h14v1h-14zM2200 15h17v1h-17zM728 24h12v1h-12z"/>
<path fill="#3c0c3c" d="M590 0h14v1h-14zM939 0h7v1h-7zM1281 0h9v1h-9zM1592 0h7v1h-7zM1631 0h9v1h-9zM1666 0h17v1h-17zM1731 0h9v1h-9zM1891 0h11v1h-11zM2159 0h7v1h-7zM2447 0h9v1h-9zM2511 0h17v1h-17zM2734 0h12v1h-12zM2834 0h17v1h-17zM2985 0h12v1h-12zM3392 0h7v1h-7zM3437 0h17v1h-17zM503 1h11v1h-11zM853 1h11v1h-11zM1599 1h14v1h-14zM1683 1h7v1h-7zM1783 1h7v1h-7zM2043 1h18v1h-18zM2070 1h9v1h-9zM2098 1h12v1h-12zM2549 1h11v1h-11zM2621 1h14v1h-14zM2646 1h14v1h-14zM2777 1h10v1h-10zM2808 1h12v1h-12zM2961 1h12v1h-12zM3317 1h9v1h-9zM3540 1h14v1h-14zM445 2h17v1h-17zM557 2h11v1h-11zM656 2h14v1h-14zM864 2h10v1h-10zM1021 2h10v1h-10zM1473 2h7v1h-7zM1592 2h7v1h-7zM1783 2h7v1h-7zM1813 2h7v1h-7zM1879 2h12v1h-12zM1997 2h9v1h-9zM2043 2h9v1h-9zM2143 2h7v1h-7zM2166 2h25v1h-25zM2361 2h11v1h-11zM2851 2h14v1h-14zM2973 2h24v1h-24zM3317 2h9v1h-9zM3581 2h11v1h-11zM3665 2h7v1h-7zM3717 2h17v1h-17zM921 4h11v1h-11zM1439 4h34v1h-34zM1631 4h9v1h-9zM1879 4h23v1h-23zM2006 4h7v1h-7zM2043 4h9v1h-9zM2079 4h10v1h-10zM2150 4h16v1h-16zM2372 4h11v1h-11zM2511 4h17v1h-17zM2540 4h9v1h-9zM2607 4h7v1h-7zM2725 4h9v1h-9zM2746 4h9v1h-9zM2834 4h17v1h-17zM2889 4h10v1h-10zM2934 4h10v1h-10zM2985 4h12v1h-12zM3035 4h7v1h-7zM3089 4h7v1h-7zM3163 4h11v1h-11zM3307 4h10v1h-10zM3717 4h17v1h-17zM1404 5h9v1h-9zM1439 5h17v1h-17zM2725 5h9v1h-9zM2944 5h17v1h-17zM3263 5h7v1h-7zM836 6h10v1h-10zM907 6h14v1h-14zM1063 6h7v1h-7zM1096 6h9v1h-9zM1163 6h14v1h-14zM1261 6h11v1h-11zM1550 6h12v1h-12zM2820 6h14v1h-14zM2916 6h11v1h-11zM3004 6h14v1h-14zM3280 6h11v1h-11zM3326 6h7v1h-7zM3599 6h12v1h-12zM3683 6h9v1h-9zM604 7h9v1h-9zM893 7h14v1h-14zM1163 7h14v1h-14zM1244 7h17v1h-17zM1307 7h17v1h-17zM1550 7h12v1h-12zM2497 7h14v1h-14zM2549 7h23v1h-23zM2635 7h11v1h-11zM3270 7h10v1h-10zM3361 7h17v1h-17zM3564 7h17v1h-17zM3621 7h10v1h-10zM3734 7h19v1h-19zM3774 7h9v1h-9zM3790 7h10v1h-10zM1933 8h17v1h-17zM1997 8h9v1h-9zM2089 8h9v1h-9zM2690 8h21v1h-21zM2725 8h9v1h-9zM2820 8h14v1h-14zM2889 8h27v1h-27zM2985 8h12v1h-12zM3004 8h38v1h-38zM3106 8h8v1h-8zM3139 8h14v1h-14zM3163 8h11v1h-11zM3207 8h10v1h-10zM3227 8h14v1h-14zM3263 8h7v1h-7zM3280 8h11v1h-11zM3307 8h19v1h-19zM3347 8h14v1h-14zM3437 8h39v1h-39zM3485 8h10v1h-10zM3505 8h20v1h-20zM1359 9h22v1h-22zM1404 9h9v1h-9zM1498 9h10v1h-10zM1950 9h14v1h-14zM1985 9h21v1h-21zM2033 9h10v1h-10zM2777 9h19v1h-19zM2834 9h17v1h-17zM2865 9h24v1h-24zM2899 9h17v1h-17zM2927 9h17v1h-17zM2997 9h7v1h-7zM3018 9h17v1h-17zM3153 9h31v1h-31zM3217 9h24v1h-24zM3326 9h7v1h-7zM3347 9h14v1h-14zM3378 9h14v1h-14zM3485 9h20v1h-20zM1000 10h21v1h-21zM1070 10h14v1h-14zM1221 10h7v1h-7zM1420 10h9v1h-9zM1520 10h19v1h-19zM1585 10h7v1h-7zM1599 10h14v1h-14zM1731 10h9v1h-9zM3252 10h11v1h-11zM3599 10h12v1h-12zM3621 10h10v1h-10zM3665 10h7v1h-7zM1000 11h12v1h-12zM1084 11h12v1h-12zM1119 11h11v1h-11zM1151 11h12v1h-12zM1177 11h17v1h-17zM1261 11h11v1h-11zM1290 11h17v1h-17zM1359 11h10v1h-10zM1404 11h9v1h-9zM3139 11h14v1h-14zM3280 11h11v1h-11zM3564 11h28v1h-28zM3611 11h10v1h-10zM3734 11h19v1h-19zM3774 11h9v1h-9zM670 12h14v1h-14zM800 12h9v1h-9zM1021 12h10v1h-10zM1070 12h14v1h-14zM1221 12h7v1h-7zM1489 12h9v1h-9zM3307 12h10v1h-10zM3333 12h14v1h-14zM3399 12h12v1h-12zM3554 12h10v1h-10zM3717 12h17v1h-17zM3753 12h10v1h-10zM1000 13h12v1h-12zM1307 13h17v1h-17zM1359 13h10v1h-10zM1539 13h11v1h-11zM2263 13h7v1h-7zM3139 13h14v1h-14zM3184 13h23v1h-23zM3263 13h7v1h-7zM3298 13h19v1h-19zM3347 13h14v1h-14zM3378 13h7v1h-7zM3392 13h7v1h-7zM3411 13h17v1h-17zM3454 13h22v1h-22zM3495 13h10v1h-10zM3599 13h12v1h-12zM3672 13h11v1h-11zM3692 13h16v1h-16zM3783 13h7v1h-7zM1290 14h17v1h-17zM1456 14h17v1h-17zM1530 14h9v1h-9zM3437 14h17v1h-17zM352 15h11v1h-11zM1021 15h10v1h-10zM1130 15h9v1h-9zM1307 15h17v1h-17zM1473 15h7v1h-7zM1498 15h10v1h-10zM1740 15h14v1h-14zM1978 15h7v1h-7zM2033 15h19v1h-19zM2150 15h9v1h-9zM2217 15h12v1h-12zM2270 15h10v1h-10zM2549 15h11v1h-11zM2597 15h10v1h-10zM2725 15h9v1h-9zM3018 15h17v1h-17zM3089 15h7v1h-7zM2402 16h18v1h-18zM2572 16h14v1h-14zM2669 16h14v1h-14zM670 17h14v1h-14zM1063 17h7v1h-7zM1244 17h17v1h-17zM1290 17h17v1h-17zM1324 17h26v1h-26zM1631 17h9v1h-9zM1657 17h9v1h-9zM1790 17h23v1h-23zM1852 17h10v1h-10zM2024 17h9v1h-9zM2549 17h11v1h-11zM2572 17h25v1h-25zM2702 17h9v1h-9zM2777 17h10v1h-10zM3004 17h14v1h-14zM3621 17h10v1h-10zM1290 18h17v1h-17zM1324 18h26v1h-26zM1392 18h21v1h-21zM1456 18h17v1h-17zM1690 18h31v1h-31zM1862 18h17v1h-17zM1964 18h14v1h-14zM2052 18h9v1h-9zM2070 18h9v1h-9zM3096 18h10v1h-10zM1119 19h11v1h-11zM1221 19h7v1h-7zM1336 19h14v1h-14zM1530 19h9v1h-9zM1740 19h26v1h-26zM1783 19h7v1h-7zM1862 19h29v1h-29zM1923 19h10v1h-10zM1950 19h28v1h-28zM2033 19h10v1h-10zM2110 19h7v1h-7zM2246 19h17v1h-17zM2420 19h27v1h-27zM2467 19h9v1h-9zM2497 19h14v1h-14zM2540 19h20v1h-20zM2607 19h7v1h-7zM2702 19h9v1h-9zM2746 19h19v1h-19zM2820 19h14v1h-14zM2865 19h17v1h-17zM2916 19h28v1h-28zM3004 19h14v1h-14zM3042 19h9v1h-9zM3411 19h17v1h-17zM3540 19h14v1h-14zM3631 19h17v1h-17zM1550 20h12v1h-12zM1783 20h7v1h-7zM1852 20h10v1h-10zM2006 20h7v1h-7zM2033 20h10v1h-10zM2089 20h9v1h-9zM2110 20h7v1h-7zM2309 20h11v1h-11zM2372 20h11v1h-11zM2447 20h9v1h-9zM2497 20h14v1h-14zM2820 20h14v1h-14zM2944 20h17v1h-17zM3035 20h7v1h-7zM3051 20h10v1h-10zM3106 20h8v1h-8zM893 21h14v1h-14zM960 21h17v1h-17zM1350 21h9v1h-9zM1489 21h9v1h-9zM1585 21h7v1h-7zM1731 21h9v1h-9zM1933 21h17v1h-17zM2270 21h10v1h-10zM2402 21h9v1h-9zM2572 21h35v1h-35zM2669 21h14v1h-14zM2702 21h23v1h-23zM2734 21h12v1h-12zM2755 21h10v1h-10zM2787 21h9v1h-9zM2889 21h27v1h-27zM2927 21h7v1h-7zM2961 21h36v1h-36zM3035 21h7v1h-7zM3089 21h7v1h-7zM3317 21h9v1h-9zM384 22h34v1h-34zM503 22h11v1h-11zM523 22h10v1h-10zM568 22h10v1h-10zM625 22h12v1h-12zM874 22h19v1h-19zM932 22h7v1h-7zM1307 22h17v1h-17zM1404 22h9v1h-9zM1456 22h17v1h-17zM1666 22h17v1h-17zM1731 22h9v1h-9zM1801 22h12v1h-12zM2150 22h9v1h-9zM2327 22h17v1h-17zM2635 22h25v1h-25zM2734 22h12v1h-12zM2834 22h17v1h-17zM3089 22h7v1h-7zM3106 22h8v1h-8zM3333 22h14v1h-14zM590 23h14v1h-14zM1489 23h9v1h-9zM1731 23h9v1h-9zM1891 23h11v1h-11zM1923 23h10v1h-10zM2320 23h7v1h-7zM2411 23h16v1h-16zM2437 23h10v1h-10zM2497 23h31v1h-31zM2572 23h14v1h-14zM2635 23h11v1h-11zM2660 23h9v1h-9zM2702 23h23v1h-23zM2746 23h9v1h-9zM2765 23h12v1h-12zM2834 23h17v1h-17zM2865 23h24v1h-24zM2927 23h7v1h-7zM2973 23h12v1h-12zM3051 23h24v1h-24zM3096 23h10v1h-10zM670 24h14v1h-14zM1381 24h11v1h-11zM1413 24h7v1h-7zM1520 24h10v1h-10zM1585 24h7v1h-7zM1783 24h7v1h-7zM1820 24h7v1h-7zM1841 24h11v1h-11zM2117 24h12v1h-12zM2320 24h24v1h-24zM2402 24h18v1h-18zM2497 24h43v1h-43zM2560 24h37v1h-37zM2614 24h7v1h-7zM2777 24h10v1h-10zM2796 24h12v1h-12zM2820 24h45v1h-45zM2934 24h27v1h-27zM2973 24h12v1h-12zM3004 24h14v1h-14zM3051 24h10v1h-10zM3075 24h14v1h-14zM3106 24h8v1h-8zM3227 24h25v1h-25zM3399 24h12v1h-12zM3428 24h9v1h-9z"/>
<path fill="#907830" d="M604 0h9v1h-9zM2796 0h12v1h-12zM2024 7h9v1h-9zM1902 13h12v1h-12zM3554 21h10v1h-10z"/>
<path fill="#60600c" d="M625 0h12v1h-12zM1498 0h10v1h-10zM2549 0h11v1h-11zM3217 0h10v1h-10zM3326 0h7v1h-7zM557 1h11v1h-11zM646 1h10v1h-10zM717 1h11v1h-11zM1052 1h11v1h-11zM1139 1h12v1h-12zM1177 1h17v1h-17zM1498 1h10v1h-10zM1891 1h11v1h-11zM1978 1h7v1h-7zM1997 1h9v1h-9zM3648 1h17v1h-17zM491 2h12v1h-12zM670 2h14v1h-14zM874 2h7v1h-7zM1038 2h14v1h-14zM1204 2h17v1h-17zM1923 2h10v1h-10zM2711 2h14v1h-14zM3763 2h11v1h-11zM770 4h9v1h-9zM1163 4h14v1h-14zM3665 4h7v1h-7zM3683 4h9v1h-9zM3708 4h9v1h-9zM3734 4h10v1h-10zM836 5h10v1h-10zM1666 5h17v1h-17zM1985 5h12v1h-12zM2702 5h9v1h-9zM3096 5h18v1h-18zM3227 6h14v1h-14zM703 7h14v1h-14zM2166 7h14v1h-14zM2985 7h19v1h-19zM1052 8h11v1h-11zM2024 8h9v1h-9zM2166 8h14v1h-14zM2217 8h12v1h-12zM2320 8h7v1h-7zM3291 8h7v1h-7zM1592 9h7v1h-7zM1801 9h12v1h-12zM1933 9h17v1h-17zM2180 9h11v1h-11zM2270 10h10v1h-10zM2540 10h9v1h-9zM2597 10h10v1h-10zM2690 10h12v1h-12zM2796 10h12v1h-12zM3004 10h14v1h-14zM3089 10h7v1h-7zM1666 11h17v1h-17zM1754 11h12v1h-12zM2079 11h10v1h-10zM2327 11h17v1h-17zM2427 11h10v1h-10zM2476 11h9v1h-9zM2497 11h14v1h-14zM2586 11h11v1h-11zM2882 11h7v1h-7zM1690 12h17v1h-17zM1813 12h7v1h-7zM1933 12h17v1h-17zM2052 12h9v1h-9zM2129 12h14v1h-14zM2166 12h14v1h-14zM2217 12h12v1h-12zM2344 12h17v1h-17zM2456 12h11v1h-11zM2511 12h29v1h-29zM2572 12h14v1h-14zM2787 12h9v1h-9zM2889 12h10v1h-10zM2420 13h7v1h-7zM2560 13h12v1h-12zM2621 13h14v1h-14zM2683 13h7v1h-7zM2961 13h12v1h-12zM2985 13h12v1h-12zM3018 13h17v1h-17zM3280 13h11v1h-11zM1690 14h17v1h-17zM1766 14h17v1h-17zM1801 14h12v1h-12zM2043 14h9v1h-9zM2820 14h14v1h-14zM3042 14h9v1h-9zM1281 15h9v1h-9zM1369 15h12v1h-12zM3270 15h10v1h-10zM3672 15h11v1h-11zM578 16h12v1h-12zM3399 16h12v1h-12zM401 17h17v1h-17zM514 17h9v1h-9zM637 17h9v1h-9zM703 17h14v1h-14zM836 17h10v1h-10zM932 17h7v1h-7zM3378 17h7v1h-7zM3399 17h12v1h-12zM568 19h10v1h-10zM826 19h10v1h-10zM874 19h7v1h-7zM1228 19h9v1h-9zM2961 19h12v1h-12zM3621 19h10v1h-10zM472 20h9v1h-9zM761 20h18v1h-18zM907 20h14v1h-14zM939 20h7v1h-7zM3454 20h11v1h-11zM656 21h14v1h-14zM1194 21h10v1h-10zM3291 21h7v1h-7zM3307 21h10v1h-10zM3392 21h7v1h-7zM3411 21h17v1h-17zM3665 21h7v1h-7zM717 22h11v1h-11zM1084 22h12v1h-12zM2043 22h9v1h-9zM3326 22h7v1h-7zM3454 22h11v1h-11zM3783 22h7v1h-7zM503 23h11v1h-11zM533 23h7v1h-7zM728 23h12v1h-12zM770 23h9v1h-9zM1473 23h7v1h-7zM3207 23h10v1h-10zM3298 23h9v1h-9zM3485 23h10v1h-10zM523 24h10v1h-10zM717 24h11v1h-11zM1096 24h9v1h-9zM2150 24h9v1h-9zM2711 24h14v1h-14zM3476 24h9v1h-9zM3717 24h17v1h-17z"/>
<path fill="#303c0c" d="M637 0h9v1h-9zM3153 7h10v1h-10zM2660 10h9v1h-9zM1902 11h12v1h-12zM2497 12h14v1h-14zM2411 14h9v1h-9zM3621 15h10v1h-10zM1021 22h10v1h-10zM3485 22h10v1h-10zM864 24h10v1h-10z"/>
<path fill="#000000" d="M646 0h10v1h-10zM2660 0h9v1h-9zM2746 0h9v1h-9zM377 3h58v1h-58zM445 3h46v1h-46zM514 3h226v1h-226zM752 3h18v1h-18zM779 3h21v1h-21zM826 3h38v1h-38zM874 3h210v1h-210zM1096 3h360v1h-360zM1473 3h16v1h-16zM1498 3h22v1h-22zM1530 3h32v1h-32zM1578 3h14v1h-14zM1599 3h202v1h-202zM1813 3h101v1h-101zM1923 3h10v1h-10zM1950 3h102v1h-102zM2061 3h119v1h-119zM2191 3h79v1h-79zM2280 3h40v1h-40zM2327 3h17v1h-17zM2402 3h35v1h-35zM2447 3h93v1h-93zM2549 3h48v1h-48zM2607 3h7v1h-7zM2621 3h90v1h-90zM2725 3h30v1h-30zM2765 3h43v1h-43zM2834 3h31v1h-31zM2882 3h34v1h-34zM2927 3h179v1h-179zM3128 3h35v1h-35zM3174 3h10v1h-10zM3195 3h57v1h-57zM3263 3h44v1h-44zM3326 3h59v1h-59zM3392 3h133v1h-133zM3540 3h41v1h-41zM3599 3h201v1h-201zM445 5h27v1h-27zM514 5h9v1h-9zM568 5h10v1h-10zM986 5h14v1h-14zM1592 5h21v1h-21zM1631 5h9v1h-9zM3564 5h17v1h-17zM1599 6h14v1h-14zM352 8h110v1h-110zM472 8h19v1h-19zM503 8h20v1h-20zM533 8h137v1h-137zM684 8h56v1h-56zM752 8h94v1h-94zM853 8h28v1h-28zM893 8h84v1h-84zM986 8h14v1h-14zM1324 8h12v1h-12zM1404 8h16v1h-16zM1498 8h10v1h-10zM1520 8h10v1h-10zM1624 8h7v1h-7zM2402 8h9v1h-9zM2447 8h9v1h-9zM2528 8h12v1h-12zM2614 8h7v1h-7zM352 9h66v1h-66zM435 9h79v1h-79zM523 9h161v1h-161zM691 9h109v1h-109zM809 9h123v1h-123zM939 9h7v1h-7zM960 9h40v1h-40zM1754 9h12v1h-12zM2061 10h9v1h-9zM445 11h36v1h-36zM557 11h11v1h-11zM684 11h7v1h-7zM939 11h7v1h-7zM960 11h17v1h-17zM557 13h11v1h-11zM761 13h9v1h-9zM1599 13h14v1h-14zM377 14h7v1h-7zM435 14h10v1h-10zM625 14h12v1h-12zM770 14h9v1h-9zM864 14h17v1h-17zM1413 15h7v1h-7zM1624 15h7v1h-7zM1105 16h58v1h-58zM1177 16h51v1h-51zM1237 16h53v1h-53zM352 18h11v1h-11zM377 18h58v1h-58zM445 18h192v1h-192zM646 18h38v1h-38zM691 18h37v1h-37zM752 18h74v1h-74zM836 18h17v1h-17zM874 18h33v1h-33zM921 18h79v1h-79zM1012 18h84v1h-84zM1119 18h11v1h-11zM1139 18h151v1h-151zM1631 18h9v1h-9zM1783 18h7v1h-7zM2402 18h9v1h-9zM2476 18h9v1h-9zM2497 18h14v1h-14zM2540 18h20v1h-20zM2586 18h11v1h-11zM3540 18h52v1h-52zM462 20h10v1h-10zM625 20h12v1h-12zM2129 21h14v1h-14zM2229 22h17v1h-17zM578 23h12v1h-12z"/>
<path fill="#3c1824" d="M656 0h14v1h-14zM1105 1h14v1h-14zM2899 4h17v1h-17zM3298 9h9v1h-9zM1244 10h17v1h-17zM1307 10h17v1h-17zM3734 10h10v1h-10zM2061 12h9v1h-9zM3701 12h7v1h-7zM3672 18h11v1h-11zM1801 19h12v1h-12zM3051 19h10v1h-10zM2191 21h9v1h-9zM2765 21h12v1h-12zM977 22h9v1h-9zM1480 22h9v1h-9zM1585 22h7v1h-7zM3774 23h9v1h-9z"/>
<path fill="#300c24" d="M670 0h14v1h-14zM2344 0h17v1h-17zM3683 1h9v1h-9zM740 2h12v1h-12zM1012 2h9v1h-9zM1790 2h11v1h-11zM2683 2h7v1h-7zM3270 4h10v1h-10zM1404 7h9v1h-9zM1429 7h10v1h-10zM3333 8h14v1h-14zM1084 10h12v1h-12zM3763 10h11v1h-11zM1194 11h10v1h-10zM3411 11h17v1h-17zM3465 11h11v1h-11zM1978 14h7v1h-7zM1862 17h17v1h-17zM2180 17h11v1h-11zM2711 20h14v1h-14zM761 21h9v1h-9zM2246 22h17v1h-17zM1194 23h27v1h-27zM3683 23h9v1h-9zM590 24h14v1h-14z"/>
<path fill="#b4b424" d="M691 0h12v1h-12zM1740 5h14v1h-14zM2143 5h7v1h-7zM2150 8h9v1h-9zM1731 9h9v1h-9zM2711 11h14v1h-14zM2889 11h10v1h-10zM2944 11h17v1h-17zM2734 12h12v1h-12zM1666 13h17v1h-17zM2217 13h12v1h-12zM2292 13h17v1h-17zM3333 15h14v1h-14zM377 16h7v1h-7zM3163 16h11v1h-11zM3476 16h9v1h-9zM3128 18h11v1h-11z"/>
<path fill="#3c3c0c" d="M703 0h14v1h-14zM1237 0h7v1h-7zM1324 0h26v1h-26zM1539 0h11v1h-11zM481 1h10v1h-10zM893 1h14v1h-14zM1031 1h7v1h-7zM1130 1h9v1h-9zM1707 1h14v1h-14zM3465 1h11v1h-11zM514 2h9v1h-9zM752 2h18v1h-18zM1350 2h9v1h-9zM3307 2h10v1h-10zM740 3h12v1h-12zM2437 3h10v1h-10zM377 4h7v1h-7zM946 4h14v1h-14zM1021 4h10v1h-10zM1429 4h10v1h-10zM1657 4h9v1h-9zM481 5h10v1h-10zM826 5h10v1h-10zM921 5h11v1h-11zM1359 5h10v1h-10zM1783 5h7v1h-7zM2607 5h7v1h-7zM2191 6h9v1h-9zM2383 6h5v1h-5zM2796 6h12v1h-12zM3347 6h14v1h-14zM3437 6h17v1h-17zM352 7h11v1h-11zM752 7h9v1h-9zM2079 7h10v1h-10zM3195 7h12v1h-12zM3241 7h11v1h-11zM3326 7h7v1h-7zM1473 8h7v1h-7zM2309 8h11v1h-11zM2427 8h10v1h-10zM3089 8h7v1h-7zM1613 9h11v1h-11zM2129 9h14v1h-14zM2150 9h9v1h-9zM2427 9h10v1h-10zM2467 9h18v1h-18zM2540 9h9v1h-9zM2572 9h35v1h-35zM2614 9h7v1h-7zM2683 9h7v1h-7zM1933 10h17v1h-17zM2006 10h7v1h-7zM1683 11h7v1h-7zM1914 11h9v1h-9zM1985 11h12v1h-12zM2402 11h9v1h-9zM2467 11h9v1h-9zM2597 11h10v1h-10zM2635 11h25v1h-25zM2683 11h7v1h-7zM1731 12h23v1h-23zM1985 12h12v1h-12zM2117 12h12v1h-12zM2402 12h9v1h-9zM2447 12h9v1h-9zM2476 12h9v1h-9zM2560 12h12v1h-12zM2586 12h11v1h-11zM2669 12h14v1h-14zM2927 12h7v1h-7zM779 13h14v1h-14zM874 13h7v1h-7zM932 13h7v1h-7zM1923 13h10v1h-10zM2033 13h10v1h-10zM2411 13h9v1h-9zM2456 13h11v1h-11zM2485 13h12v1h-12zM2899 13h17v1h-17zM3035 13h7v1h-7zM1666 14h17v1h-17zM1841 14h11v1h-11zM2143 14h7v1h-7zM2180 14h11v1h-11zM2402 14h9v1h-9zM2456 14h11v1h-11zM2540 14h46v1h-46zM2614 14h7v1h-7zM2646 14h23v1h-23zM503 15h11v1h-11zM3599 15h12v1h-12zM3648 15h17v1h-17zM3717 15h17v1h-17zM770 16h9v1h-9zM907 16h14v1h-14zM2683 16h7v1h-7zM1550 17h12v1h-12zM1592 17h7v1h-7zM2916 17h11v1h-11zM1978 18h7v1h-7zM3184 18h11v1h-11zM3648 18h17v1h-17zM960 19h17v1h-17zM1000 19h12v1h-12zM1237 19h7v1h-7zM3437 19h17v1h-17zM3554 19h10v1h-10zM578 20h12v1h-12zM604 20h9v1h-9zM1139 20h12v1h-12zM1754 20h12v1h-12zM2217 20h12v1h-12zM3599 20h12v1h-12zM401 21h17v1h-17zM637 21h9v1h-9zM793 21h7v1h-7zM932 21h7v1h-7zM1163 21h14v1h-14zM1272 21h9v1h-9zM1404 21h9v1h-9zM1721 21h10v1h-10zM3163 21h11v1h-11zM3485 21h10v1h-10zM1038 22h14v1h-14zM1063 22h7v1h-7zM1105 22h14v1h-14zM1130 22h9v1h-9zM2383 22h5v1h-5zM2540 22h9v1h-9zM2607 22h7v1h-7zM352 23h11v1h-11zM637 23h9v1h-9zM684 23h7v1h-7zM907 23h14v1h-14zM977 23h9v1h-9zM1105 23h14v1h-14zM3163 23h11v1h-11zM3217 23h10v1h-10zM3347 23h14v1h-14zM3540 23h14v1h-14zM3631 23h34v1h-34zM3717 23h17v1h-17zM779 24h14v1h-14zM800 24h9v1h-9zM1052 24h11v1h-11zM1891 24h11v1h-11zM3089 24h7v1h-7zM3195 24h12v1h-12zM3280 24h18v1h-18z"/>
<path fill="#24300c" d="M717 0h11v1h-11zM613 1h12v1h-12zM2437 5h10v1h-10zM2586 5h11v1h-11zM2614 5h7v1h-7zM3184 6h11v1h-11zM2528 11h12v1h-12zM1841 20h11v1h-11z"/>
<path fill="#24240c" d="M740 0h12v1h-12zM921 0h11v1h-11zM1012 0h9v1h-9zM1177 0h17v1h-17zM2217 1h12v1h-12zM893 2h14v1h-14zM2467 2h9v1h-9zM3514 2h11v1h-11zM3683 2h9v1h-9zM3783 2h7v1h-7zM384 4h17v1h-17zM604 4h9v1h-9zM939 4h7v1h-7zM1084 4h12v1h-12zM2292 4h17v1h-17zM3621 4h10v1h-10zM3783 4h7v1h-7zM932 5h7v1h-7zM2402 5h9v1h-9zM2420 5h7v1h-7zM2456 5h11v1h-11zM2540 5h9v1h-9zM2635 5h25v1h-25zM2796 5h12v1h-12zM1381 6h11v1h-11zM1420 6h9v1h-9zM2476 6h9v1h-9zM3128 6h11v1h-11zM3317 6h9v1h-9zM793 7h7v1h-7zM836 7h10v1h-10zM1978 7h7v1h-7zM3333 7h14v1h-14zM3701 7h7v1h-7zM1290 8h17v1h-17zM1631 8h9v1h-9zM1666 8h17v1h-17zM2229 8h17v1h-17zM2327 8h17v1h-17zM2411 8h9v1h-9zM2476 8h9v1h-9zM2540 8h9v1h-9zM2572 8h14v1h-14zM2646 8h14v1h-14zM1914 9h9v1h-9zM2456 9h11v1h-11zM2497 9h14v1h-14zM1683 10h7v1h-7zM2327 10h17v1h-17zM2383 10h5v1h-5zM646 11h10v1h-10zM1578 11h7v1h-7zM1862 11h17v1h-17zM2309 11h11v1h-11zM2660 11h9v1h-9zM1657 12h9v1h-9zM3128 12h11v1h-11zM2614 13h7v1h-7zM2635 13h11v1h-11zM1933 14h17v1h-17zM2024 14h9v1h-9zM2166 14h14v1h-14zM2420 14h7v1h-7zM2927 14h7v1h-7zM1964 15h14v1h-14zM3540 15h14v1h-14zM3581 15h11v1h-11zM3611 15h10v1h-10zM3763 15h11v1h-11zM740 16h12v1h-12zM435 17h10v1h-10zM656 17h14v1h-14zM770 17h9v1h-9zM1194 17h10v1h-10zM1740 17h14v1h-14zM3763 17h11v1h-11zM2033 18h10v1h-10zM2456 18h11v1h-11zM3089 18h7v1h-7zM3631 18h17v1h-17zM3495 19h10v1h-10zM656 20h14v1h-14zM1473 20h7v1h-7zM2061 20h9v1h-9zM1237 21h7v1h-7zM3217 21h10v1h-10zM728 22h12v1h-12zM1000 22h12v1h-12zM1228 22h9v1h-9zM491 23h12v1h-12zM1827 23h14v1h-14zM2180 23h11v1h-11zM3378 23h7v1h-7zM3437 23h17v1h-17zM3207 24h10v1h-10z"/>
<path fill="#540c54" d="M752 0h9v1h-9zM1473 0h16v1h-16zM1841 0h11v1h-11zM1985 0h21v1h-21zM2024 0h9v1h-9zM2070 0h9v1h-9zM2292 0h17v1h-17zM2320 0h7v1h-7zM2889 0h27v1h-27zM3564 0h28v1h-28zM3648 0h17v1h-17zM3763 0h11v1h-11zM3783 0h7v1h-7zM1852 1h10v1h-10zM2327 1h17v1h-17zM2540 1h9v1h-9zM2614 1h7v1h-7zM2690 1h12v1h-12zM2755 1h10v1h-10zM2934 1h10v1h-10zM2973 1h12v1h-12zM3075 1h14v1h-14zM3106 1h8v1h-8zM3184 1h11v1h-11zM3347 1h14v1h-14zM3476 1h9v1h-9zM793 2h7v1h-7zM1766 2h17v1h-17zM1950 2h14v1h-14zM2013 2h11v1h-11zM2098 2h31v1h-31zM2200 2h17v1h-17zM2344 2h17v1h-17zM2427 2h10v1h-10zM2746 2h9v1h-9zM2997 2h7v1h-7zM3217 2h10v1h-10zM3263 2h7v1h-7zM1381 4h11v1h-11zM1480 4h9v1h-9zM1613 4h11v1h-11zM1950 4h14v1h-14zM2024 4h9v1h-9zM2229 4h17v1h-17zM2597 4h10v1h-10zM2621 4h14v1h-14zM2669 4h14v1h-14zM2777 4h19v1h-19zM2808 4h12v1h-12zM3392 4h7v1h-7zM3495 4h10v1h-10zM3554 4h10v1h-10zM1420 5h9v1h-9zM1456 5h17v1h-17zM1012 6h9v1h-9zM1031 6h7v1h-7zM1070 6h14v1h-14zM1105 6h14v1h-14zM1130 6h9v1h-9zM1151 6h12v1h-12zM1194 6h10v1h-10zM1237 6h7v1h-7zM1272 6h9v1h-9zM1404 6h9v1h-9zM2734 6h12v1h-12zM2765 6h12v1h-12zM2808 6h12v1h-12zM2934 6h27v1h-27zM2973 6h12v1h-12zM2997 6h7v1h-7zM3051 6h10v1h-10zM3075 6h21v1h-21zM3648 6h17v1h-17zM3753 6h10v1h-10zM363 7h14v1h-14zM779 7h14v1h-14zM881 7h12v1h-12zM1038 7h14v1h-14zM1063 7h21v1h-21zM1139 7h12v1h-12zM1177 7h17v1h-17zM1204 7h17v1h-17zM1381 7h23v1h-23zM1456 7h17v1h-17zM1539 7h11v1h-11zM2467 7h18v1h-18zM2683 7h7v1h-7zM2808 7h12v1h-12zM2889 7h38v1h-38zM2973 7h12v1h-12zM3252 7h11v1h-11zM3465 7h11v1h-11zM2787 8h9v1h-9zM3051 8h10v1h-10zM1489 9h9v1h-9zM1657 9h9v1h-9zM2143 9h7v1h-7zM2916 9h11v1h-11zM3004 9h14v1h-14zM3106 9h8v1h-8zM1021 10h10v1h-10zM1063 10h7v1h-7zM1096 10h9v1h-9zM1163 10h14v1h-14zM1237 10h7v1h-7zM1261 10h11v1h-11zM1281 10h9v1h-9zM1350 10h9v1h-9zM1381 10h11v1h-11zM1404 10h9v1h-9zM1439 10h34v1h-34zM1480 10h9v1h-9zM1508 10h12v1h-12zM2150 10h9v1h-9zM2765 10h12v1h-12zM3554 10h10v1h-10zM3592 10h7v1h-7zM3611 10h10v1h-10zM3753 10h10v1h-10zM3774 10h9v1h-9zM1012 11h9v1h-9zM1038 11h25v1h-25zM1163 11h14v1h-14zM1204 11h17v1h-17zM1237 11h7v1h-7zM1281 11h9v1h-9zM1307 11h17v1h-17zM1473 11h7v1h-7zM2320 11h7v1h-7zM3153 11h10v1h-10zM3174 11h10v1h-10zM3195 11h22v1h-22zM3347 11h14v1h-14zM3392 11h19v1h-19zM3495 11h10v1h-10zM3621 11h10v1h-10zM3648 11h17v1h-17zM3692 11h9v1h-9zM3783 11h17v1h-17zM1012 12h9v1h-9zM1031 12h21v1h-21zM1063 12h7v1h-7zM1084 12h12v1h-12zM1139 12h12v1h-12zM1290 12h17v1h-17zM1336 12h33v1h-33zM1392 12h12v1h-12zM1420 12h19v1h-19zM1480 12h9v1h-9zM1520 12h10v1h-10zM1631 12h9v1h-9zM2796 12h12v1h-12zM3163 12h11v1h-11zM3207 12h10v1h-10zM3241 12h11v1h-11zM3454 12h11v1h-11zM3476 12h19v1h-19zM3505 12h9v1h-9zM3581 12h18v1h-18zM3621 12h10v1h-10zM3672 12h11v1h-11zM3734 12h10v1h-10zM3763 12h11v1h-11zM1336 13h14v1h-14zM3153 13h10v1h-10zM3505 13h9v1h-9zM3648 13h17v1h-17zM1359 14h22v1h-22zM1392 14h12v1h-12zM1413 14h7v1h-7zM1473 14h7v1h-7zM1508 14h12v1h-12zM1599 14h14v1h-14zM1624 14h16v1h-16zM2033 14h10v1h-10zM578 15h12v1h-12zM1923 15h10v1h-10zM1985 15h12v1h-12zM2052 15h9v1h-9zM2143 15h7v1h-7zM2437 15h10v1h-10zM2476 15h9v1h-9zM2497 15h14v1h-14zM2560 15h12v1h-12zM2646 15h14v1h-14zM2808 15h12v1h-12zM2865 15h24v1h-24zM2927 15h7v1h-7zM2944 15h17v1h-17zM2985 15h12v1h-12zM3035 15h7v1h-7zM3061 15h14v1h-14zM1613 16h11v1h-11zM2549 16h11v1h-11zM2646 16h23v1h-23zM613 17h12v1h-12zM1599 17h14v1h-14zM1624 17h7v1h-7zM1666 17h17v1h-17zM1964 17h21v1h-21zM2143 17h7v1h-7zM2280 17h12v1h-12zM2383 17h5v1h-5zM2411 17h9v1h-9zM2437 17h10v1h-10zM2476 17h9v1h-9zM2560 17h12v1h-12zM2851 17h14v1h-14zM2944 17h17v1h-17zM3096 17h18v1h-18zM1369 18h12v1h-12zM1480 18h9v1h-9zM1520 18h10v1h-10zM1640 18h17v1h-17zM1801 18h12v1h-12zM1827 18h14v1h-14zM2143 18h7v1h-7zM2270 18h10v1h-10zM2327 18h17v1h-17zM2787 18h9v1h-9zM2820 18h14v1h-14zM2882 18h7v1h-7zM2927 18h7v1h-7zM2973 18h12v1h-12zM3061 18h14v1h-14zM3106 18h8v1h-8zM3763 18h11v1h-11zM1052 19h11v1h-11zM1666 19h17v1h-17zM1690 19h17v1h-17zM1985 19h12v1h-12zM2024 19h9v1h-9zM2070 19h9v1h-9zM2180 19h11v1h-11zM2217 19h12v1h-12zM2280 19h12v1h-12zM3599 19h12v1h-12zM3734 19h10v1h-10zM752 20h9v1h-9zM986 20h14v1h-14zM1381 20h23v1h-23zM1666 20h17v1h-17zM1790 20h11v1h-11zM1978 20h7v1h-7zM2411 20h9v1h-9zM2540 20h9v1h-9zM2607 20h7v1h-7zM2683 20h7v1h-7zM2787 20h21v1h-21zM3061 20h14v1h-14zM3378 20h7v1h-7zM503 21h11v1h-11zM523 21h10v1h-10zM670 21h14v1h-14zM1473 21h7v1h-7zM1613 21h11v1h-11zM1879 21h12v1h-12zM2110 21h7v1h-7zM2263 21h7v1h-7zM761 22h9v1h-9zM1290 22h17v1h-17zM1336 22h14v1h-14zM1420 22h19v1h-19zM1508 22h22v1h-22zM1766 22h17v1h-17zM2013 22h11v1h-11zM2117 22h12v1h-12zM2200 22h29v1h-29zM2437 22h10v1h-10zM2725 22h9v1h-9zM2777 22h19v1h-19zM2851 22h14v1h-14zM2916 22h11v1h-11zM3096 22h10v1h-10zM3495 22h10v1h-10zM1359 23h10v1h-10zM1631 23h9v1h-9zM1783 23h7v1h-7zM1820 23h7v1h-7zM1902 23h21v1h-21zM2098 23h12v1h-12zM2327 23h17v1h-17zM1359 24h10v1h-10zM1404 24h9v1h-9zM1592 24h7v1h-7zM1707 24h24v1h-24zM1766 24h17v1h-17zM1923 24h27v1h-27zM2024 24h9v1h-9zM2070 24h9v1h-9zM2246 24h17v1h-17zM2485 24h12v1h-12z"/>
<path fill="#180018" d="M761 0h9v1h-9zM1456 0h17v1h-17zM2098 0h12v1h-12zM2540 0h9v1h-9zM2597 0h10v1h-10zM2882 0h7v1h-7zM3411 0h17v1h-17zM3454 0h11v1h-11zM1950 1h14v1h-14zM2013 1h11v1h-11zM2361 1h11v1h-11zM2746 1h9v1h-9zM2765 1h12v1h-12zM2944 1h17v1h-17zM472 2h9v1h-9zM523 2h10v1h-10zM921 2h11v1h-11zM1392 2h12v1h-12zM1914 2h9v1h-9zM2292 2h17v1h-17zM2420 2h7v1h-7zM2635 2h11v1h-11zM2765 2h12v1h-12zM3128 2h11v1h-11zM3399 2h12v1h-12zM2270 4h10v1h-10zM2467 4h9v1h-9zM3184 4h11v1h-11zM3333 4h14v1h-14zM703 5h14v1h-14zM728 5h12v1h-12zM1070 5h14v1h-14zM1578 5h7v1h-7zM1613 5h11v1h-11zM472 6h9v1h-9zM557 6h11v1h-11zM590 6h14v1h-14zM864 6h10v1h-10zM1592 6h7v1h-7zM2437 6h19v1h-19zM3540 6h14v1h-14zM3611 6h10v1h-10zM3774 6h9v1h-9zM401 7h17v1h-17zM533 7h7v1h-7zM3495 7h10v1h-10zM3514 7h11v1h-11zM3683 7h9v1h-9zM1038 8h14v1h-14zM1130 8h9v1h-9zM1244 8h17v1h-17zM1392 8h12v1h-12zM1690 8h17v1h-17zM2597 8h10v1h-10zM3540 8h14v1h-14zM3564 8h17v1h-17zM3631 8h17v1h-17zM1000 9h12v1h-12zM1599 9h14v1h-14zM3540 9h14v1h-14zM3631 9h34v1h-34zM3753 9h10v1h-10zM435 10h10v1h-10zM625 10h12v1h-12zM874 10h7v1h-7zM2320 10h7v1h-7zM3333 10h14v1h-14zM401 11h17v1h-17zM503 11h11v1h-11zM568 11h22v1h-22zM613 11h12v1h-12zM703 11h14v1h-14zM779 11h14v1h-14zM809 11h27v1h-27zM907 11h14v1h-14zM1221 11h7v1h-7zM1950 11h14v1h-14zM2973 11h24v1h-24zM3217 11h10v1h-10zM3717 11h17v1h-17zM514 12h9v1h-9zM568 12h10v1h-10zM590 12h14v1h-14zM613 12h24v1h-24zM717 12h11v1h-11zM826 12h10v1h-10zM864 12h10v1h-10zM2033 12h10v1h-10zM363 13h14v1h-14zM384 13h17v1h-17zM462 13h10v1h-10zM491 13h12v1h-12zM604 13h9v1h-9zM646 13h10v1h-10zM752 13h9v1h-9zM800 13h9v1h-9zM986 13h14v1h-14zM1031 13h21v1h-21zM1096 13h9v1h-9zM1221 13h7v1h-7zM1592 13h7v1h-7zM578 14h12v1h-12zM613 14h12v1h-12zM670 14h14v1h-14zM703 14h14v1h-14zM846 14h7v1h-7zM893 14h14v1h-14zM932 14h7v1h-7zM1000 14h12v1h-12zM1813 14h7v1h-7zM3347 14h14v1h-14zM491 15h12v1h-12zM613 15h12v1h-12zM793 15h7v1h-7zM946 15h14v1h-14zM1119 15h11v1h-11zM1914 15h9v1h-9zM2006 15h7v1h-7zM2320 15h7v1h-7zM2437 16h10v1h-10zM3672 16h11v1h-11zM3075 17h14v1h-14zM1902 18h12v1h-12zM2089 18h9v1h-9zM2411 18h16v1h-16zM2725 18h9v1h-9zM932 19h7v1h-7zM1439 19h17v1h-17zM1852 19h10v1h-10zM2191 19h9v1h-9zM2447 19h9v1h-9zM1151 20h12v1h-12zM1707 20h14v1h-14zM1862 20h17v1h-17zM1902 20h12v1h-12zM2476 20h9v1h-9zM2586 20h11v1h-11zM2746 20h9v1h-9zM540 21h17v1h-17zM1520 21h10v1h-10zM2320 21h7v1h-7zM2372 21h11v1h-11zM3263 21h7v1h-7zM3399 21h12v1h-12zM1539 22h11v1h-11zM1613 22h11v1h-11zM1813 22h7v1h-7zM1841 22h11v1h-11zM2320 22h7v1h-7zM2344 22h17v1h-17zM2447 22h9v1h-9zM1031 23h7v1h-7zM1052 23h11v1h-11zM1520 23h10v1h-10zM1740 23h14v1h-14zM2229 23h17v1h-17zM3708 23h9v1h-9zM1624 24h7v1h-7zM1640 24h17v1h-17zM1964 24h14v1h-14zM2013 24h11v1h-11zM2372 24h11v1h-11zM3385 24h7v1h-7zM3564 24h17v1h-17z"/>
<path fill="#3c2418" d="M770 0h9v1h-9zM2572 0h14v1h-14zM907 1h14v1h-14zM3217 1h10v1h-10zM2229 2h17v1h-17zM1105 5h14v1h-14zM1324 5h12v1h-12zM3217 7h10v1h-10zM1978 8h7v1h-7zM1392 9h12v1h-12zM2052 9h9v1h-9zM1530 11h9v1h-9zM2006 12h7v1h-7zM2079 15h10v1h-10zM3227 17h14v1h-14zM3514 17h11v1h-11zM2383 21h5v1h-5zM2456 21h11v1h-11zM3004 21h14v1h-14zM1489 22h9v1h-9zM1473 24h7v1h-7z"/>
<path fill="#181800" d="M800 0h9v1h-9zM1381 0h11v1h-11zM1707 0h14v1h-14zM445 1h17v1h-17zM800 1h9v1h-9zM703 2h14v1h-14zM1413 2h7v1h-7zM557 4h11v1h-11zM977 5h9v1h-9zM2427 5h10v1h-10zM2467 5h9v1h-9zM2485 5h12v1h-12zM2560 5h12v1h-12zM2621 5h14v1h-14zM2683 5h7v1h-7zM3672 6h11v1h-11zM568 7h10v1h-10zM2621 9h14v1h-14zM2110 10h7v1h-7zM2191 10h9v1h-9zM2528 10h12v1h-12zM846 11h7v1h-7zM1820 11h7v1h-7zM2129 11h14v1h-14zM1964 12h14v1h-14zM2361 12h11v1h-11zM3683 12h9v1h-9zM401 13h17v1h-17zM921 13h11v1h-11zM1381 13h11v1h-11zM1585 13h7v1h-7zM2098 13h12v1h-12zM2166 13h14v1h-14zM1923 14h10v1h-10zM2476 14h9v1h-9zM3683 15h9v1h-9zM3774 15h9v1h-9zM557 17h11v1h-11zM2734 17h12v1h-12zM1381 18h11v1h-11zM1578 18h7v1h-7zM3783 18h7v1h-7zM2159 19h7v1h-7zM491 20h12v1h-12zM800 20h9v1h-9zM435 21h10v1h-10zM1550 21h12v1h-12zM3195 21h12v1h-12zM3333 21h14v1h-14zM1163 22h14v1h-14zM3326 23h7v1h-7zM1261 24h11v1h-11zM3592 24h7v1h-7z"/>
<path fill="#483024" d="M881 0h12v1h-12zM1520 0h10v1h-10zM2787 0h9v1h-9zM3128 0h11v1h-11zM3241 0h11v1h-11zM3592 0h7v1h-7zM881 1h12v1h-12zM1923 1h10v1h-10zM3061 1h14v1h-14zM3554 1h10v1h-10zM1119 2h11v1h-11zM3411 2h17v1h-17zM568 4h10v1h-10zM1592 4h7v1h-7zM2217 4h12v1h-12zM2725 6h9v1h-9zM946 7h14v1h-14zM1813 7h7v1h-7zM2746 8h9v1h-9zM1520 9h10v1h-10zM3051 9h10v1h-10zM3428 9h9v1h-9zM3744 9h9v1h-9zM3096 10h10v1h-10zM3291 10h7v1h-7zM3495 10h10v1h-10zM1731 11h9v1h-9zM2292 11h17v1h-17zM2098 12h12v1h-12zM1151 13h12v1h-12zM2061 13h9v1h-9zM2361 13h11v1h-11zM3361 13h17v1h-17zM3075 14h14v1h-14zM3291 14h7v1h-7zM1139 17h12v1h-12zM1978 19h7v1h-7zM2061 19h9v1h-9zM2270 19h10v1h-10zM2402 19h9v1h-9zM2734 19h12v1h-12zM2787 19h9v1h-9zM728 20h12v1h-12zM1350 20h9v1h-9zM1740 20h14v1h-14zM2690 21h12v1h-12zM2851 21h31v1h-31zM800 22h9v1h-9zM846 22h7v1h-7zM960 22h17v1h-17zM2129 22h14v1h-14zM3763 22h11v1h-11zM1439 23h17v1h-17zM1657 23h9v1h-9zM2166 23h14v1h-14zM2683 23h7v1h-7zM3018 23h17v1h-17zM3592 23h7v1h-7zM2787 24h9v1h-9zM3307 24h19v1h-19z"/>
<path fill="#603048" d="M893 0h14v1h-14zM809 1h17v1h-17zM1690 6h17v1h-17zM3004 14h14v1h-14zM2973 15h12v1h-12zM2079 19h10v1h-10zM1177 20h17v1h-17zM1324 22h12v1h-12z"/>
<path fill="#54600c" d="M907 0h14v1h-14zM1964 0h14v1h-14zM2777 0h10v1h-10zM3621 0h10v1h-10zM1879 1h12v1h-12zM1420 2h9v1h-9zM1498 2h10v1h-10zM1237 4h7v1h-7zM3540 4h14v1h-14zM3692 4h9v1h-9zM2270 9h10v1h-10zM2143 10h7v1h-7zM752 11h9v1h-9zM2033 11h10v1h-10zM2683 12h7v1h-7zM2006 13h7v1h-7zM3061 13h14v1h-14zM3089 13h7v1h-7zM1731 14h9v1h-9zM2217 14h12v1h-12zM2280 14h12v1h-12zM557 16h11v1h-11zM836 16h10v1h-10zM3392 19h7v1h-7zM2746 21h9v1h-9zM3195 23h12v1h-12zM752 24h9v1h-9zM1031 24h7v1h-7zM1084 24h12v1h-12z"/>
<path fill="#785430" d="M946 0h14v1h-14zM2755 0h10v1h-10zM2572 7h14v1h-14zM2110 11h7v1h-7zM3018 11h17v1h-17zM2746 22h9v1h-9zM2985 24h12v1h-12z"/>
<path fill="#30300c" d="M977 0h9v1h-9zM1105 0h14v1h-14zM1657 0h9v1h-9zM2497 0h14v1h-14zM3399 0h12v1h-12zM864 1h10v1h-10zM1119 1h11v1h-11zM2150 1h9v1h-9zM3392 1h7v1h-7zM3611 1h10v1h-10zM1163 2h14v1h-14zM2447 2h9v1h-9zM2927 2h7v1h-7zM3291 2h7v1h-7zM2320 3h7v1h-7zM435 4h10v1h-10zM800 4h26v1h-26zM864 4h10v1h-10zM932 4h7v1h-7zM1012 4h9v1h-9zM1151 4h12v1h-12zM1392 4h12v1h-12zM3195 4h12v1h-12zM3514 4h11v1h-11zM3763 4h11v1h-11zM384 5h17v1h-17zM1585 5h7v1h-7zM1827 5h14v1h-14zM2411 5h9v1h-9zM2447 5h9v1h-9zM2476 5h9v1h-9zM2528 5h12v1h-12zM2549 5h11v1h-11zM2734 5h12v1h-12zM2765 5h12v1h-12zM2787 5h9v1h-9zM1413 6h7v1h-7zM2200 6h17v1h-17zM3399 6h12v1h-12zM3744 6h9v1h-9zM1592 7h7v1h-7zM3708 7h9v1h-9zM1151 8h12v1h-12zM1307 8h17v1h-17zM1827 8h14v1h-14zM2013 8h11v1h-11zM2098 8h12v1h-12zM2270 8h10v1h-10zM2796 8h12v1h-12zM1413 9h7v1h-7zM1640 9h17v1h-17zM2383 9h5v1h-5zM2402 9h18v1h-18zM2437 9h10v1h-10zM2485 9h12v1h-12zM2528 9h12v1h-12zM2560 9h12v1h-12zM2607 9h7v1h-7zM2635 9h11v1h-11zM2660 9h9v1h-9zM2292 10h17v1h-17zM2402 10h9v1h-9zM2420 10h7v1h-7zM2447 10h9v1h-9zM2621 10h14v1h-14zM435 11h10v1h-10zM523 11h10v1h-10zM625 11h21v1h-21zM1740 11h14v1h-14zM1827 11h14v1h-14zM2437 11h10v1h-10zM2511 11h17v1h-17zM2607 11h7v1h-7zM2934 11h10v1h-10zM1790 12h11v1h-11zM1879 12h12v1h-12zM2263 12h7v1h-7zM2411 12h9v1h-9zM2690 12h12v1h-12zM2882 12h7v1h-7zM670 13h14v1h-14zM881 13h12v1h-12zM1021 13h10v1h-10zM1891 13h11v1h-11zM1933 13h17v1h-17zM2402 13h9v1h-9zM2437 13h10v1h-10zM2511 13h17v1h-17zM2572 13h35v1h-35zM2660 13h9v1h-9zM2997 13h7v1h-7zM3317 13h9v1h-9zM384 14h17v1h-17zM462 14h10v1h-10zM646 14h10v1h-10zM2052 14h9v1h-9zM2229 14h17v1h-17zM2683 14h7v1h-7zM3514 14h11v1h-11zM691 15h12v1h-12zM893 15h14v1h-14zM2344 15h17v1h-17zM3554 15h10v1h-10zM3592 15h7v1h-7zM3631 15h17v1h-17zM3692 15h25v1h-25zM3734 15h29v1h-29zM3783 15h7v1h-7zM384 16h17v1h-17zM684 16h7v1h-7zM752 16h9v1h-9zM779 16h14v1h-14zM946 16h14v1h-14zM1592 16h7v1h-7zM481 17h10v1h-10zM523 17h10v1h-10zM826 17h10v1h-10zM853 17h11v1h-11zM3428 17h9v1h-9zM3717 18h17v1h-17zM3753 18h10v1h-10zM3790 18h10v1h-10zM2882 19h7v1h-7zM3153 19h10v1h-10zM3683 19h9v1h-9zM352 20h11v1h-11zM646 20h10v1h-10zM691 20h12v1h-12zM809 20h17v1h-17zM836 20h10v1h-10zM1070 20h14v1h-14zM1359 20h10v1h-10zM1613 20h11v1h-11zM1731 20h9v1h-9zM3361 21h17v1h-17zM3672 21h11v1h-11zM691 22h12v1h-12zM1052 22h11v1h-11zM1096 22h9v1h-9zM1139 22h12v1h-12zM1194 22h34v1h-34zM1261 22h11v1h-11zM1281 22h9v1h-9zM3042 22h9v1h-9zM3672 22h11v1h-11zM481 23h10v1h-10zM557 23h11v1h-11zM779 23h14v1h-14zM2447 23h9v1h-9zM3227 23h14v1h-14zM3291 23h7v1h-7zM3399 23h12v1h-12zM3554 23h10v1h-10zM3734 23h10v1h-10zM3783 23h7v1h-7zM703 24h14v1h-14zM809 24h17v1h-17zM1508 24h12v1h-12zM2597 24h10v1h-10zM3465 24h11v1h-11zM3485 24h10v1h-10zM3540 24h14v1h-14zM3744 24h9v1h-9zM3783 24h17v1h-17z"/>
<path fill="#544824" d="M986 0h14v1h-14zM2427 0h10v1h-10zM1063 1h7v1h-7zM1657 1h9v1h-9zM2383 1h5v1h-5zM2777 7h10v1h-10zM3139 7h14v1h-14zM3207 7h10v1h-10zM3399 7h12v1h-12zM3061 9h14v1h-14zM3280 9h11v1h-11zM3564 9h17v1h-17zM2834 10h17v1h-17zM3174 10h10v1h-10zM3361 10h17v1h-17zM1923 11h10v1h-10zM3096 12h10v1h-10zM2320 14h7v1h-7zM2944 14h17v1h-17zM2447 16h9v1h-9zM2796 18h12v1h-12zM3241 18h11v1h-11zM2485 19h12v1h-12zM2586 19h11v1h-11zM1381 21h23v1h-23zM1413 21h7v1h-7zM3270 21h10v1h-10zM1350 22h9v1h-9zM2280 22h12v1h-12zM1261 23h11v1h-11zM2734 23h12v1h-12zM1439 24h17v1h-17zM1631 24h9v1h-9zM2549 24h11v1h-11z"/>
<path fill="#180c18" d="M1000 0h12v1h-12zM1690 0h17v1h-17zM2292 1h17v1h-17zM625 2h12v1h-12zM1244 2h17v1h-17zM3465 2h11v1h-11zM986 4h14v1h-14zM1933 4h17v1h-17zM2327 4h17v1h-17zM1244 6h17v1h-17zM3648 7h17v1h-17zM2180 8h11v1h-11zM533 11h7v1h-7zM1964 11h14v1h-14zM986 12h14v1h-14zM1413 13h7v1h-7zM2052 16h9v1h-9zM3611 16h10v1h-10zM1721 17h10v1h-10zM1307 18h17v1h-17zM1790 18h11v1h-11zM384 19h17v1h-17zM3096 19h10v1h-10zM3042 21h9v1h-9zM3089 23h7v1h-7zM1740 24h14v1h-14zM2079 24h10v1h-10zM2344 24h17v1h-17z"/>
<path fill="#48540c" d="M1038 0h14v1h-14zM846 1h7v1h-7zM3485 2h10v1h-10zM3672 2h11v1h-11zM1052 4h11v1h-11zM1228 4h9v1h-9zM1964 5h14v1h-14zM3061 8h14v1h-14zM1879 9h12v1h-12zM2327 13h17v1h-17zM2528 13h12v1h-12zM2079 14h10v1h-10zM2607 14h7v1h-7zM874 16h7v1h-7zM1413 23h7v1h-7zM377 24h7v1h-7z"/>
<path fill="#78543c" d="M1052 0h11v1h-11zM3361 0h17v1h-17zM3485 0h10v1h-10zM523 1h10v1h-10zM1151 1h12v1h-12zM2787 1h9v1h-9zM3042 1h9v1h-9zM3153 1h10v1h-10zM3672 1h11v1h-11zM2150 2h9v1h-9zM2669 2h14v1h-14zM3744 2h9v1h-9zM523 4h10v1h-10zM637 4h9v1h-9zM2865 4h17v1h-17zM1891 5h11v1h-11zM3184 5h11v1h-11zM384 7h17v1h-17zM1683 7h7v1h-7zM2899 10h17v1h-17zM3184 10h11v1h-11zM3428 10h9v1h-9zM1721 14h10v1h-10zM2934 18h10v1h-10zM3128 19h11v1h-11zM3514 20h11v1h-11zM1539 21h11v1h-11zM1879 22h12v1h-12zM3241 22h11v1h-11zM613 23h12v1h-12zM703 23h14v1h-14zM1194 24h10v1h-10zM2159 24h7v1h-7z"/>
<path fill="#909018" d="M1063 0h7v1h-7zM2420 0h7v1h-7zM2560 0h12v1h-12zM2851 0h14v1h-14zM1272 1h9v1h-9zM1336 1h14v1h-14zM1530 1h9v1h-9zM3505 1h9v1h-9zM3139 2h14v1h-14zM401 4h17v1h-17zM977 4h9v1h-9zM1000 4h12v1h-12zM1031 4h7v1h-7zM1473 5h7v1h-7zM1914 5h9v1h-9zM1978 5h7v1h-7zM3018 5h17v1h-17zM2024 6h9v1h-9zM2070 6h9v1h-9zM2180 6h11v1h-11zM2263 6h7v1h-7zM2292 6h17v1h-17zM691 7h12v1h-12zM1666 7h17v1h-17zM1852 7h10v1h-10zM1879 7h12v1h-12zM1997 7h9v1h-9zM2117 7h12v1h-12zM2246 7h17v1h-17zM1657 8h9v1h-9zM1683 8h7v1h-7zM2110 8h7v1h-7zM2361 8h11v1h-11zM2383 8h5v1h-5zM1740 9h14v1h-14zM1783 9h7v1h-7zM1852 9h10v1h-10zM1923 9h10v1h-10zM2320 9h7v1h-7zM2787 10h9v1h-9zM2865 10h17v1h-17zM1813 11h7v1h-7zM1841 11h11v1h-11zM2070 11h9v1h-9zM2229 12h17v1h-17zM2851 12h14v1h-14zM2985 12h12v1h-12zM3042 12h9v1h-9zM1813 13h7v1h-7zM2089 13h9v1h-9zM2746 13h9v1h-9zM1657 14h9v1h-9zM2916 14h11v1h-11zM2961 14h12v1h-12zM3153 15h21v1h-21zM3280 15h11v1h-11zM3411 15h17v1h-17zM514 16h9v1h-9zM1052 16h11v1h-11zM1070 16h14v1h-14zM3495 16h10v1h-10zM590 17h14v1h-14zM691 17h12v1h-12zM3411 17h17v1h-17zM3485 17h20v1h-20zM3139 18h14v1h-14zM3174 18h10v1h-10zM3665 18h7v1h-7zM3207 19h10v1h-10zM3280 19h11v1h-11zM3347 19h14v1h-14zM3744 19h9v1h-9zM557 20h11v1h-11zM703 20h14v1h-14zM932 20h7v1h-7zM1119 21h11v1h-11zM1228 21h9v1h-9zM2916 21h11v1h-11zM3783 21h7v1h-7zM3399 22h12v1h-12zM1498 23h10v1h-10zM3411 23h17v1h-17zM907 24h14v1h-14z"/>
<path fill="#302418" d="M1096 0h9v1h-9zM1413 0h7v1h-7zM1613 1h11v1h-11zM1740 1h14v1h-14zM1801 1h12v1h-12zM3207 1h10v1h-10zM377 2h7v1h-7zM2079 2h10v1h-10zM3437 4h17v1h-17zM514 6h9v1h-9zM2006 6h7v1h-7zM481 7h10v1h-10zM1456 8h17v1h-17zM1783 8h7v1h-7zM2808 10h12v1h-12zM3280 10h11v1h-11zM3599 11h12v1h-12zM363 12h14v1h-14zM462 12h10v1h-10zM932 12h7v1h-7zM2229 13h17v1h-17zM2834 13h17v1h-17zM3128 13h11v1h-11zM3485 13h10v1h-10zM1520 14h10v1h-10zM3465 14h11v1h-11zM384 15h17v1h-17zM779 15h14v1h-14zM1096 16h9v1h-9zM1879 18h12v1h-12zM2690 18h12v1h-12zM1096 19h9v1h-9zM1456 19h17v1h-17zM3611 19h10v1h-10zM1489 20h9v1h-9zM1923 20h10v1h-10zM604 21h9v1h-9zM1914 21h9v1h-9zM2024 21h9v1h-9zM2635 21h11v1h-11zM1119 23h11v1h-11zM1683 23h7v1h-7zM2899 23h17v1h-17zM3599 23h12v1h-12zM874 24h7v1h-7zM2607 24h7v1h-7z"/>
<path fill="#3c3018" d="M1139 0h24v1h-24zM1429 0h10v1h-10zM670 1h14v1h-14zM2372 1h11v1h-11zM1290 2h17v1h-17zM1640 2h17v1h-17zM2511 2h17v1h-17zM960 4h17v1h-17zM2485 4h12v1h-12zM1281 5h9v1h-9zM1350 5h9v1h-9zM2755 5h10v1h-10zM728 6h12v1h-12zM2344 6h17v1h-17zM2528 6h12v1h-12zM2973 8h12v1h-12zM3361 8h17v1h-17zM3611 8h10v1h-10zM1084 9h12v1h-12zM3089 9h7v1h-7zM3139 9h14v1h-14zM3592 9h7v1h-7zM1721 10h10v1h-10zM1852 10h10v1h-10zM2437 10h10v1h-10zM3692 10h9v1h-9zM523 12h10v1h-10zM881 12h12v1h-12zM2180 12h11v1h-11zM809 13h17v1h-17zM3270 13h10v1h-10zM3326 13h7v1h-7zM881 14h12v1h-12zM3089 14h7v1h-7zM1429 15h27v1h-27zM377 17h7v1h-7zM3263 17h7v1h-7zM2246 18h17v1h-17zM3428 18h9v1h-9zM2511 19h17v1h-17zM2834 19h17v1h-17zM2180 20h11v1h-11zM2420 20h7v1h-7zM2456 20h11v1h-11zM3139 20h14v1h-14zM3270 20h10v1h-10zM625 21h12v1h-12zM2660 22h9v1h-9zM3263 22h7v1h-7zM1429 23h10v1h-10zM3333 23h14v1h-14zM3465 23h11v1h-11zM540 24h17v1h-17zM1550 24h12v1h-12zM2229 24h17v1h-17zM2646 24h14v1h-14zM3683 24h9v1h-9z"/>
<path fill="#909c18" d="M1163 0h14v1h-14zM1381 1h11v1h-11zM1640 1h17v1h-17zM1683 5h7v1h-7zM1754 6h12v1h-12zM2191 7h9v1h-9zM2129 8h14v1h-14zM3035 10h7v1h-7zM3061 10h14v1h-14zM1766 11h17v1h-17zM2024 13h9v1h-9zM2344 13h17v1h-17zM1914 14h9v1h-9zM3018 14h17v1h-17zM728 15h12v1h-12zM770 19h9v1h-9zM3763 20h11v1h-11zM3717 21h17v1h-17zM3217 22h10v1h-10zM3270 22h10v1h-10z"/>
<path fill="#0c0c0c" d="M1204 0h17v1h-17zM1350 0h9v1h-9zM2411 0h9v1h-9zM2865 0h17v1h-17zM3075 0h14v1h-14zM1021 1h10v1h-10zM1359 2h10v1h-10zM3252 3h11v1h-11zM691 4h12v1h-12zM893 5h14v1h-14zM1624 5h7v1h-7zM1585 6h7v1h-7zM1508 8h12v1h-12zM2437 8h10v1h-10zM2549 8h11v1h-11zM691 11h12v1h-12zM874 11h7v1h-7zM445 13h17v1h-17zM740 13h12v1h-12zM864 13h10v1h-10zM352 14h11v1h-11zM472 14h9v1h-9zM836 14h10v1h-10zM946 14h14v1h-14zM939 17h7v1h-7zM740 18h12v1h-12zM2572 18h14v1h-14zM3051 18h10v1h-10zM2734 20h12v1h-12zM1683 21h7v1h-7zM1862 24h17v1h-17z"/>
<path fill="#788418" d="M1221 0h7v1h-7zM986 1h14v1h-14zM1862 1h17v1h-17zM2540 2h9v1h-9zM826 7h10v1h-10zM2006 7h7v1h-7zM2746 10h9v1h-9zM2882 10h7v1h-7zM2961 10h12v1h-12zM2200 11h17v1h-17zM2200 12h17v1h-17zM2934 12h10v1h-10zM2746 14h9v1h-9zM1228 15h9v1h-9zM3128 17h11v1h-11zM3621 18h10v1h-10zM3241 19h11v1h-11zM3592 20h7v1h-7zM3734 20h10v1h-10zM2755 22h10v1h-10zM435 23h10v1h-10zM462 24h10v1h-10z"/>
<path fill="#300c30" d="M1228 0h9v1h-9zM1978 0h7v1h-7zM2089 0h9v1h-9zM2166 0h14v1h-14zM2437 0h10v1h-10zM2690 0h21v1h-21zM2934 0h10v1h-10zM3035 0h7v1h-7zM3153 0h10v1h-10zM3465 0h11v1h-11zM3540 0h14v1h-14zM3672 0h11v1h-11zM3774 0h9v1h-9zM946 1h14v1h-14zM1790 1h11v1h-11zM1914 1h9v1h-9zM2061 1h9v1h-9zM2089 1h9v1h-9zM2180 1h20v1h-20zM2270 1h10v1h-10zM2437 1h10v1h-10zM2497 1h14v1h-14zM2702 1h9v1h-9zM2927 1h7v1h-7zM2985 1h12v1h-12zM3195 1h12v1h-12zM3263 1h7v1h-7zM3298 1h19v1h-19zM3495 1h10v1h-10zM3592 1h7v1h-7zM3621 1h10v1h-10zM3783 1h7v1h-7zM462 2h10v1h-10zM568 2h10v1h-10zM590 2h14v1h-14zM613 2h12v1h-12zM846 2h7v1h-7zM1404 2h9v1h-9zM1613 2h11v1h-11zM1707 2h14v1h-14zM1891 2h11v1h-11zM2217 2h12v1h-12zM2309 2h11v1h-11zM2586 2h11v1h-11zM2796 2h12v1h-12zM2916 2h11v1h-11zM3252 2h11v1h-11zM3611 2h10v1h-10zM907 4h14v1h-14zM1473 4h7v1h-7zM1624 4h7v1h-7zM1754 4h12v1h-12zM1783 4h7v1h-7zM1841 4h11v1h-11zM1862 4h17v1h-17zM1923 4h10v1h-10zM1978 4h7v1h-7zM2033 4h10v1h-10zM2070 4h9v1h-9zM2143 4h7v1h-7zM2497 4h14v1h-14zM2586 4h11v1h-11zM2997 4h7v1h-7zM3128 4h11v1h-11zM3399 4h29v1h-29zM1000 5h21v1h-21zM1139 5h12v1h-12zM1194 5h10v1h-10zM1228 5h9v1h-9zM1244 5h28v1h-28zM1290 5h17v1h-17zM1413 5h7v1h-7zM3128 5h25v1h-25zM3227 5h14v1h-14zM418 6h17v1h-17zM523 6h10v1h-10zM568 6h10v1h-10zM613 6h24v1h-24zM656 6h14v1h-14zM703 6h25v1h-25zM740 6h12v1h-12zM761 6h9v1h-9zM779 6h14v1h-14zM800 6h36v1h-36zM853 6h11v1h-11zM874 6h19v1h-19zM1038 6h14v1h-14zM1228 6h9v1h-9zM1307 6h29v1h-29zM1429 6h10v1h-10zM1473 6h7v1h-7zM1520 6h10v1h-10zM2402 6h9v1h-9zM2511 6h17v1h-17zM2549 6h23v1h-23zM2586 6h28v1h-28zM2683 6h7v1h-7zM2711 6h14v1h-14zM2865 6h17v1h-17zM2985 6h12v1h-12zM3018 6h17v1h-17zM3195 6h12v1h-12zM3307 6h10v1h-10zM3554 6h10v1h-10zM3581 6h11v1h-11zM3621 6h10v1h-10zM3692 6h9v1h-9zM377 7h7v1h-7zM540 7h17v1h-17zM637 7h9v1h-9zM921 7h11v1h-11zM977 7h9v1h-9zM1151 7h12v1h-12zM1228 7h9v1h-9zM1261 7h11v1h-11zM1350 7h9v1h-9zM2052 7h9v1h-9zM2437 7h10v1h-10zM2702 7h9v1h-9zM2765 7h12v1h-12zM2820 7h14v1h-14zM2882 7h7v1h-7zM2944 7h17v1h-17zM3317 7h9v1h-9zM3665 7h7v1h-7zM3692 7h9v1h-9zM3717 7h17v1h-17zM1163 8h41v1h-41zM1221 8h16v1h-16zM1281 8h9v1h-9zM1891 8h11v1h-11zM1923 8h10v1h-10zM2765 8h12v1h-12zM2934 8h10v1h-10zM2961 8h12v1h-12zM2997 8h7v1h-7zM3075 8h14v1h-14zM3184 8h23v1h-23zM3217 8h10v1h-10zM3241 8h22v1h-22zM3378 8h7v1h-7zM3399 8h29v1h-29zM3495 8h10v1h-10zM3683 8h9v1h-9zM3753 8h10v1h-10zM3783 8h7v1h-7zM1012 9h9v1h-9zM1038 9h25v1h-25zM1139 9h12v1h-12zM1204 9h17v1h-17zM1261 9h11v1h-11zM1281 9h9v1h-9zM1550 9h12v1h-12zM2013 9h11v1h-11zM2711 9h35v1h-35zM2961 9h24v1h-24zM3075 9h14v1h-14zM3128 9h11v1h-11zM3184 9h33v1h-33zM3241 9h11v1h-11zM3307 9h10v1h-10zM3399 9h12v1h-12zM3476 9h9v1h-9zM3505 9h9v1h-9zM3554 9h10v1h-10zM3621 9h10v1h-10zM3683 9h9v1h-9zM3734 9h10v1h-10zM3774 9h16v1h-16zM352 10h11v1h-11zM377 10h24v1h-24zM523 10h10v1h-10zM540 10h28v1h-28zM578 10h26v1h-26zM656 10h14v1h-14zM684 10h19v1h-19zM717 10h11v1h-11zM779 10h14v1h-14zM826 10h10v1h-10zM893 10h28v1h-28zM946 10h40v1h-40zM1038 10h14v1h-14zM1413 10h7v1h-7zM1631 10h9v1h-9zM3195 10h12v1h-12zM3298 10h9v1h-9zM3347 10h14v1h-14zM3581 10h11v1h-11zM1021 11h10v1h-10zM1350 11h9v1h-9zM1585 11h7v1h-7zM1624 11h16v1h-16zM3437 11h17v1h-17zM3476 11h9v1h-9zM3505 11h9v1h-9zM3683 11h9v1h-9zM3701 11h7v1h-7zM418 12h17v1h-17zM445 12h17v1h-17zM503 12h11v1h-11zM533 12h7v1h-7zM557 12h11v1h-11zM604 12h9v1h-9zM684 12h7v1h-7zM703 12h14v1h-14zM740 12h12v1h-12zM770 12h23v1h-23zM846 12h7v1h-7zM874 12h7v1h-7zM939 12h21v1h-21zM977 12h9v1h-9zM1272 12h9v1h-9zM1404 12h9v1h-9zM1666 12h17v1h-17zM3252 12h11v1h-11zM3270 12h21v1h-21zM3361 12h17v1h-17zM3411 12h17v1h-17zM3631 12h17v1h-17zM3665 12h7v1h-7zM1084 13h12v1h-12zM1119 13h11v1h-11zM1139 13h12v1h-12zM1204 13h17v1h-17zM1261 13h11v1h-11zM1324 13h12v1h-12zM1420 13h9v1h-9zM1456 13h17v1h-17zM3207 13h10v1h-10zM3252 13h11v1h-11zM3291 13h7v1h-7zM3385 13h7v1h-7zM3399 13h12v1h-12zM3476 13h9v1h-9zM3514 13h11v1h-11zM3665 13h7v1h-7zM3683 13h9v1h-9zM3708 13h9v1h-9zM1021 14h17v1h-17zM1084 14h12v1h-12zM1139 14h12v1h-12zM1177 14h17v1h-17zM1221 14h7v1h-7zM1237 14h7v1h-7zM1281 14h9v1h-9zM1578 14h7v1h-7zM1740 14h14v1h-14zM3153 14h10v1h-10zM3263 14h7v1h-7zM3280 14h11v1h-11zM3317 14h9v1h-9zM3378 14h7v1h-7zM3392 14h7v1h-7zM3411 14h26v1h-26zM3540 14h14v1h-14zM3672 14h20v1h-20zM3717 14h17v1h-17zM3763 14h20v1h-20zM418 15h27v1h-27zM472 15h9v1h-9zM1084 15h12v1h-12zM1139 15h12v1h-12zM1177 15h17v1h-17zM1592 15h21v1h-21zM1666 15h24v1h-24zM1902 15h12v1h-12zM2372 15h16v1h-16zM2777 15h10v1h-10zM2834 15h17v1h-17zM3096 15h10v1h-10zM1307 16h62v1h-62zM1381 16h48v1h-48zM1439 16h50v1h-50zM1498 16h10v1h-10zM1530 16h32v1h-32zM1599 16h14v1h-14zM1624 16h7v1h-7zM1666 16h74v1h-74zM1754 16h47v1h-47zM1827 16h35v1h-35zM1914 16h9v1h-9zM1933 16h45v1h-45zM2006 16h7v1h-7zM2033 16h10v1h-10zM2089 16h9v1h-9zM2110 16h7v1h-7zM2143 16h37v1h-37zM2191 16h38v1h-38zM2263 16h7v1h-7zM2280 16h108v1h-108zM2420 16h7v1h-7zM2456 16h11v1h-11zM2746 16h19v1h-19zM2777 16h43v1h-43zM2851 16h14v1h-14zM2882 16h34v1h-34zM2927 16h7v1h-7zM2944 16h17v1h-17zM2973 16h31v1h-31zM3042 16h47v1h-47zM3096 16h10v1h-10zM3592 16h19v1h-19zM3631 16h17v1h-17zM3665 16h7v1h-7zM3692 16h9v1h-9zM3708 16h26v1h-26zM3744 16h30v1h-30zM3783 16h17v1h-17zM740 17h12v1h-12zM1052 17h11v1h-11zM1070 17h14v1h-14zM1177 17h17v1h-17zM1221 17h7v1h-7zM1369 17h12v1h-12zM1473 17h7v1h-7zM1613 17h11v1h-11zM1683 17h24v1h-24zM1731 17h9v1h-9zM1820 17h7v1h-7zM1879 17h12v1h-12zM1923 17h10v1h-10zM2013 17h11v1h-11zM2129 17h14v1h-14zM2497 17h14v1h-14zM2528 17h12v1h-12zM2635 17h11v1h-11zM2746 17h9v1h-9zM2765 17h12v1h-12zM2820 17h31v1h-31zM2985 17h12v1h-12zM3665 17h7v1h-7zM3692 17h9v1h-9zM3753 17h10v1h-10zM1420 18h9v1h-9zM1683 18h7v1h-7zM1852 18h10v1h-10zM2159 18h7v1h-7zM2292 18h17v1h-17zM2755 18h10v1h-10zM2834 18h17v1h-17zM3035 18h7v1h-7zM656 19h14v1h-14zM1012 19h9v1h-9zM1038 19h14v1h-14zM1105 19h14v1h-14zM1307 19h29v1h-29zM1350 19h9v1h-9zM1381 19h11v1h-11zM1404 19h35v1h-35zM1520 19h10v1h-10zM1820 19h7v1h-7zM2006 19h7v1h-7zM2150 19h9v1h-9zM2560 19h12v1h-12zM2597 19h10v1h-10zM2621 19h14v1h-14zM2711 19h14v1h-14zM2944 19h17v1h-17zM2997 19h7v1h-7zM3018 19h17v1h-17zM3061 19h28v1h-28zM3592 19h7v1h-7zM1063 20h7v1h-7zM1324 20h12v1h-12zM1413 20h7v1h-7zM1456 20h17v1h-17zM1766 20h17v1h-17zM1985 20h12v1h-12zM2143 20h7v1h-7zM2572 20h14v1h-14zM2614 20h7v1h-7zM2725 20h9v1h-9zM2755 20h10v1h-10zM2808 20h12v1h-12zM2834 20h31v1h-31zM3096 20h10v1h-10zM3717 20h17v1h-17zM864 21h17v1h-17zM1105 21h14v1h-14zM1307 21h17v1h-17zM1369 21h12v1h-12zM1624 21h7v1h-7zM1813 21h7v1h-7zM1923 21h10v1h-10zM1997 21h16v1h-16zM2098 21h12v1h-12zM2143 21h7v1h-7zM2229 21h17v1h-17zM2309 21h11v1h-11zM2411 21h9v1h-9zM2437 21h10v1h-10zM2467 21h9v1h-9zM2511 21h29v1h-29zM2549 21h11v1h-11zM2796 21h24v1h-24zM2944 21h17v1h-17zM3051 21h38v1h-38zM3096 21h10v1h-10zM377 22h7v1h-7zM481 22h10v1h-10zM557 22h11v1h-11zM590 22h14v1h-14zM613 22h12v1h-12zM637 22h33v1h-33zM809 22h17v1h-17zM893 22h14v1h-14zM921 22h11v1h-11zM986 22h14v1h-14zM1369 22h12v1h-12zM1740 22h14v1h-14zM1997 22h9v1h-9zM2070 22h9v1h-9zM2089 22h21v1h-21zM2143 22h7v1h-7zM2427 22h10v1h-10zM2711 22h14v1h-14zM2882 22h7v1h-7zM3631 22h17v1h-17zM1070 23h14v1h-14zM1420 23h9v1h-9zM1790 23h11v1h-11zM2159 23h7v1h-7zM2646 23h14v1h-14zM2725 23h9v1h-9zM2755 23h10v1h-10zM2777 23h10v1h-10zM2796 23h12v1h-12zM2820 23h14v1h-14zM3035 23h16v1h-16zM3075 23h14v1h-14zM3106 23h8v1h-8zM893 24h14v1h-14zM1228 24h9v1h-9zM1290 24h17v1h-17zM1324 24h12v1h-12zM1456 24h17v1h-17zM1480 24h28v1h-28zM1914 24h9v1h-9zM2143 24h7v1h-7zM2191 24h9v1h-9zM2270 24h10v1h-10zM2476 24h9v1h-9zM2540 24h9v1h-9zM2621 24h25v1h-25zM2669 24h21v1h-21zM2725 24h21v1h-21zM2755 24h10v1h-10zM2808 24h12v1h-12zM2889 24h10v1h-10zM2927 24h7v1h-7zM3018 24h17v1h-17zM3042 24h9v1h-9zM3061 24h14v1h-14zM3096 24h10v1h-10zM3128 24h11v1h-11zM3163 24h11v1h-11zM3361 24h24v1h-24z"/>
<path fill="#3c0c48" d="M1244 0h17v1h-17zM2191 0h9v1h-9zM2927 0h7v1h-7zM1439 2h17v1h-17zM2476 2h9v1h-9zM3708 6h9v1h-9zM1520 7h10v1h-10zM2711 7h14v1h-14zM2043 9h9v1h-9zM1105 10h14v1h-14zM1754 12h12v1h-12zM1766 15h17v1h-17zM2934 17h10v1h-10zM2614 19h7v1h-7zM1997 20h9v1h-9zM2383 20h5v1h-5zM2997 20h7v1h-7zM1754 21h12v1h-12zM2934 22h10v1h-10zM2447 24h9v1h-9z"/>
<path fill="#906c3c" d="M1261 0h11v1h-11zM1290 0h17v1h-17zM384 1h17v1h-17zM1194 4h10v1h-10zM1359 4h10v1h-10zM3392 9h7v1h-7zM1439 13h17v1h-17zM1012 15h9v1h-9zM2734 15h12v1h-12zM3611 20h10v1h-10zM3139 23h14v1h-14zM1070 24h14v1h-14z"/>
<path fill="#3c2424" d="M1272 0h9v1h-9zM1508 0h12v1h-12zM1783 0h7v1h-7zM3554 0h10v1h-10zM637 1h9v1h-9zM1813 1h7v1h-7zM3241 1h11v1h-11zM1827 2h14v1h-14zM2437 4h10v1h-10zM503 7h11v1h-11zM1324 7h12v1h-12zM1964 8h14v1h-14zM1985 8h12v1h-12zM2944 8h17v1h-17zM3042 8h9v1h-9zM3174 8h10v1h-10zM3672 8h11v1h-11zM1336 9h14v1h-14zM1456 9h17v1h-17zM3035 9h7v1h-7zM3270 9h10v1h-10zM3411 9h17v1h-17zM1721 11h10v1h-10zM2089 11h9v1h-9zM2246 12h17v1h-17zM3744 12h9v1h-9zM2765 13h12v1h-12zM2934 15h10v1h-10zM418 16h17v1h-17zM1997 16h9v1h-9zM2427 17h10v1h-10zM3672 17h11v1h-11zM2079 18h10v1h-10zM2711 18h14v1h-14zM3454 18h11v1h-11zM3701 18h7v1h-7zM523 19h10v1h-10zM2292 19h17v1h-17zM846 20h7v1h-7zM1261 20h11v1h-11zM2889 20h10v1h-10zM3089 20h7v1h-7zM2159 21h7v1h-7zM2420 21h17v1h-17zM2485 21h12v1h-12zM3252 21h11v1h-11zM462 22h10v1h-10zM491 22h12v1h-12zM740 22h12v1h-12zM1754 22h12v1h-12zM3717 22h17v1h-17zM384 23h17v1h-17zM1177 23h17v1h-17zM1624 23h7v1h-7zM1766 23h17v1h-17zM2427 23h10v1h-10zM2528 23h12v1h-12zM2997 23h7v1h-7zM1690 24h17v1h-17zM1754 24h12v1h-12zM1997 24h9v1h-9zM2746 24h9v1h-9zM3454 24h11v1h-11z"/>
<path fill="#483c18" d="M1307 0h17v1h-17zM2621 0h14v1h-14zM2711 0h14v1h-14zM2765 0h12v1h-12zM2973 0h12v1h-12zM3252 0h11v1h-11zM3495 0h10v1h-10zM1964 4h14v1h-14zM2711 4h14v1h-14zM3476 4h9v1h-9zM637 5h9v1h-9zM1754 5h12v1h-12zM2110 5h7v1h-7zM3554 5h10v1h-10zM770 6h9v1h-9zM578 7h12v1h-12zM670 7h14v1h-14zM800 7h9v1h-9zM3476 7h9v1h-9zM3763 7h11v1h-11zM2246 8h17v1h-17zM2660 8h9v1h-9zM3790 8h10v1h-10zM1151 9h12v1h-12zM2702 9h9v1h-9zM2263 11h7v1h-7zM728 12h12v1h-12zM2013 12h11v1h-11zM472 13h9v1h-9zM728 13h12v1h-12zM1624 13h7v1h-7zM1790 13h11v1h-11zM2129 13h14v1h-14zM2309 13h11v1h-11zM960 14h17v1h-17zM1754 14h12v1h-12zM2361 14h11v1h-11zM3307 14h10v1h-10zM3734 14h10v1h-10zM670 15h14v1h-14zM881 15h12v1h-12zM1221 15h7v1h-7zM1520 15h10v1h-10zM2572 15h25v1h-25zM3592 17h7v1h-7zM1820 18h7v1h-7zM2614 18h7v1h-7zM2660 18h9v1h-9zM3783 19h7v1h-7zM1324 21h12v1h-12zM1950 21h14v1h-14zM3184 21h11v1h-11zM435 22h10v1h-10zM874 23h7v1h-7zM2361 24h11v1h-11zM2420 24h7v1h-7z"/>
<path fill="#18180c" d="M1359 0h10v1h-10zM2476 0h9v1h-9zM2614 0h7v1h-7zM770 2h9v1h-9zM728 4h12v1h-12zM3195 5h12v1h-12zM1578 6h7v1h-7zM2456 7h11v1h-11zM2344 9h17v1h-17zM2734 11h12v1h-12zM1707 14h14v1h-14zM1550 15h12v1h-12zM3599 17h12v1h-12zM2683 18h7v1h-7zM1244 19h17v1h-17zM1902 21h12v1h-12zM1381 22h11v1h-11zM1151 23h12v1h-12zM1237 23h7v1h-7zM2033 23h10v1h-10zM2061 23h9v1h-9zM3495 23h10v1h-10zM939 24h7v1h-7zM986 24h14v1h-14z"/>
<path fill="#301824" d="M1369 0h12v1h-12zM1585 0h7v1h-7zM1933 0h17v1h-17zM568 1h10v1h-10zM3581 1h11v1h-11zM684 2h7v1h-7zM1261 2h11v1h-11zM1657 2h9v1h-9zM2456 2h11v1h-11zM2621 2h14v1h-14zM1599 4h14v1h-14zM2098 4h12v1h-12zM540 5h17v1h-17zM462 7h10v1h-10zM864 7h10v1h-10zM2420 7h7v1h-7zM2280 8h12v1h-12zM1324 9h12v1h-12zM3042 9h9v1h-9zM3263 9h7v1h-7zM568 10h10v1h-10zM1978 10h7v1h-7zM1997 10h9v1h-9zM2052 10h9v1h-9zM1456 11h17v1h-17zM1520 11h10v1h-10zM1599 11h14v1h-14zM2997 11h21v1h-21zM3665 11h7v1h-7zM1508 12h12v1h-12zM2150 12h9v1h-9zM1473 13h7v1h-7zM3592 13h7v1h-7zM3734 13h10v1h-10zM1480 15h9v1h-9zM1613 15h11v1h-11zM1585 16h7v1h-7zM491 17h12v1h-12zM3317 17h9v1h-9zM3701 17h7v1h-7zM1439 18h17v1h-17zM2734 18h12v1h-12zM2089 19h9v1h-9zM2456 19h11v1h-11zM2765 19h12v1h-12zM1096 20h9v1h-9zM2246 20h17v1h-17zM2927 20h7v1h-7zM384 21h17v1h-17zM1862 21h17v1h-17zM2560 21h12v1h-12zM3241 21h11v1h-11zM1783 22h7v1h-7zM3035 22h7v1h-7zM2540 23h9v1h-9zM2889 23h10v1h-10zM2052 24h9v1h-9z"/>
<path fill="#845448" d="M1392 0h12v1h-12zM1550 1h12v1h-12zM352 2h11v1h-11zM853 2h11v1h-11zM2110 6h7v1h-7zM2166 6h14v1h-14zM3564 6h17v1h-17zM646 7h10v1h-10zM3106 7h8v1h-8zM1070 11h14v1h-14zM1740 13h14v1h-14zM1420 17h9v1h-9zM3217 18h10v1h-10zM1163 19h14v1h-14zM1640 20h17v1h-17zM1096 23h9v1h-9z"/>
<path fill="#604824" d="M1420 0h9v1h-9zM1439 0h17v1h-17zM2024 1h9v1h-9zM3326 2h7v1h-7zM462 4h10v1h-10zM503 6h11v1h-11zM3385 6h7v1h-7zM2725 7h9v1h-9zM2851 8h14v1h-14zM1381 9h11v1h-11zM1439 9h17v1h-17zM1902 9h12v1h-12zM1964 9h14v1h-14zM2796 9h12v1h-12zM2985 9h12v1h-12zM3075 10h14v1h-14zM1950 12h14v1h-14zM2725 12h9v1h-9zM1204 15h17v1h-17zM826 16h10v1h-10zM1261 17h11v1h-11zM1404 17h9v1h-9zM1754 17h12v1h-12zM2292 17h17v1h-17zM2456 17h11v1h-11zM2899 17h17v1h-17zM1290 19h17v1h-17zM1891 19h11v1h-11zM3564 19h17v1h-17zM3734 21h10v1h-10zM826 23h10v1h-10zM1021 23h10v1h-10zM1221 23h7v1h-7zM2787 23h9v1h-9zM3631 24h17v1h-17z"/>
<path fill="#483c24" d="M1489 0h9v1h-9zM2180 0h11v1h-11zM3184 0h11v1h-11zM1731 1h9v1h-9zM435 2h10v1h-10zM1324 2h12v1h-12zM2070 2h9v1h-9zM2166 4h14v1h-14zM3051 4h10v1h-10zM2755 8h10v1h-10zM2777 8h10v1h-10zM3599 8h12v1h-12zM2159 9h7v1h-7zM481 10h10v1h-10zM921 12h11v1h-11zM2143 12h7v1h-7zM3241 13h11v1h-11zM2361 18h11v1h-11zM1657 19h9v1h-9zM3106 19h8v1h-8zM533 20h7v1h-7zM3227 20h14v1h-14zM1657 21h9v1h-9zM932 23h7v1h-7z"/>
<path fill="#784848" d="M1530 0h9v1h-9zM1530 2h9v1h-9zM2734 2h12v1h-12zM1740 4h14v1h-14zM2572 4h14v1h-14zM2899 14h17v1h-17zM2024 15h9v1h-9zM2292 15h17v1h-17zM625 16h12v1h-12zM2098 17h12v1h-12zM728 19h12v1h-12zM1228 20h9v1h-9zM2013 20h11v1h-11zM826 21h10v1h-10zM2052 21h9v1h-9zM656 24h14v1h-14zM3753 24h10v1h-10z"/>
<path fill="#480c48" d="M1550 0h12v1h-12zM1801 0h12v1h-12zM1862 0h17v1h-17zM2129 0h14v1h-14zM2150 0h9v1h-9zM2246 0h17v1h-17zM2280 0h12v1h-12zM2309 0h11v1h-11zM2327 0h17v1h-17zM2456 0h11v1h-11zM2820 0h14v1h-14zM3227 0h14v1h-14zM3599 0h12v1h-12zM3744 0h9v1h-9zM3790 0h10v1h-10zM435 1h10v1h-10zM1631 1h9v1h-9zM1754 1h12v1h-12zM1827 1h14v1h-14zM2511 1h17v1h-17zM2597 1h10v1h-10zM2734 1h12v1h-12zM2865 1h17v1h-17zM2889 1h10v1h-10zM3051 1h10v1h-10zM3128 1h25v1h-25zM3252 1h11v1h-11zM3270 1h21v1h-21zM3333 1h14v1h-14zM3411 1h17v1h-17zM3485 1h10v1h-10zM533 2h7v1h-7zM604 2h9v1h-9zM986 2h14v1h-14zM1550 2h12v1h-12zM1624 2h7v1h-7zM1852 2h10v1h-10zM1964 2h14v1h-14zM2263 2h7v1h-7zM2327 2h17v1h-17zM2485 2h12v1h-12zM2597 2h10v1h-10zM3096 2h18v1h-18zM3207 2h10v1h-10zM3437 2h17v1h-17zM3540 2h14v1h-14zM1290 4h17v1h-17zM1369 4h12v1h-12zM1508 4h12v1h-12zM1539 4h11v1h-11zM1707 4h14v1h-14zM1790 4h11v1h-11zM1827 4h14v1h-14zM2191 4h9v1h-9zM2411 4h9v1h-9zM2456 4h11v1h-11zM2476 4h9v1h-9zM3153 4h10v1h-10zM3217 4h10v1h-10zM3505 4h9v1h-9zM1084 5h12v1h-12zM1369 5h12v1h-12zM2820 5h14v1h-14zM2851 5h14v1h-14zM2934 5h10v1h-10zM3270 5h10v1h-10zM1000 6h12v1h-12zM1021 6h10v1h-10zM1052 6h11v1h-11zM1119 6h11v1h-11zM1139 6h12v1h-12zM1177 6h17v1h-17zM1204 6h17v1h-17zM1290 6h17v1h-17zM1350 6h9v1h-9zM1369 6h12v1h-12zM2327 6h17v1h-17zM2690 6h12v1h-12zM2882 6h7v1h-7zM2899 6h17v1h-17zM3035 6h7v1h-7zM3106 6h8v1h-8zM3592 6h7v1h-7zM3763 6h11v1h-11zM3790 6h10v1h-10zM491 7h12v1h-12zM656 7h14v1h-14zM761 7h9v1h-9zM986 7h14v1h-14zM1021 7h10v1h-10zM1052 7h11v1h-11zM1105 7h14v1h-14zM1194 7h10v1h-10zM1221 7h7v1h-7zM1281 7h9v1h-9zM1473 7h16v1h-16zM1508 7h12v1h-12zM1631 7h9v1h-9zM2746 7h9v1h-9zM2834 7h17v1h-17zM3035 7h7v1h-7zM3061 7h14v1h-14zM3089 7h7v1h-7zM3298 7h9v1h-9zM3378 7h7v1h-7zM3540 7h14v1h-14zM1914 8h9v1h-9zM1950 8h14v1h-14zM2711 8h14v1h-14zM2927 8h7v1h-7zM3298 8h9v1h-9zM3385 8h7v1h-7zM1480 9h9v1h-9zM1539 9h11v1h-11zM2746 9h9v1h-9zM2808 9h26v1h-26zM2851 9h14v1h-14zM3333 9h14v1h-14zM3361 9h17v1h-17zM3437 9h28v1h-28zM1052 10h11v1h-11zM1151 10h12v1h-12zM1177 10h44v1h-44zM1324 10h12v1h-12zM1359 10h22v1h-22zM1550 10h12v1h-12zM1578 10h7v1h-7zM1841 10h11v1h-11zM3163 10h11v1h-11zM3227 10h25v1h-25zM3307 10h10v1h-10zM3385 10h14v1h-14zM3411 10h17v1h-17zM3454 10h22v1h-22zM3540 10h14v1h-14zM3564 10h17v1h-17zM3631 10h34v1h-34zM3672 10h11v1h-11zM3717 10h17v1h-17zM1031 11h7v1h-7zM1063 11h7v1h-7zM1096 11h9v1h-9zM1228 11h9v1h-9zM1272 11h9v1h-9zM1324 11h12v1h-12zM1489 11h19v1h-19zM1613 11h11v1h-11zM1790 11h11v1h-11zM2787 11h9v1h-9zM3128 11h11v1h-11zM3163 11h11v1h-11zM3252 11h18v1h-18zM3298 11h9v1h-9zM3326 11h21v1h-21zM3361 11h24v1h-24zM3428 11h9v1h-9zM3631 11h17v1h-17zM3672 11h11v1h-11zM3763 11h11v1h-11zM1000 12h12v1h-12zM1130 12h9v1h-9zM1151 12h43v1h-43zM1204 12h17v1h-17zM1244 12h28v1h-28zM1324 12h12v1h-12zM1369 12h12v1h-12zM1498 12h10v1h-10zM1539 12h11v1h-11zM1578 12h14v1h-14zM3195 12h12v1h-12zM3227 12h14v1h-14zM3263 12h7v1h-7zM3291 12h7v1h-7zM3317 12h9v1h-9zM3385 12h14v1h-14zM3428 12h26v1h-26zM3540 12h14v1h-14zM3564 12h17v1h-17zM3599 12h12v1h-12zM3790 12h10v1h-10zM1429 13h10v1h-10zM1508 13h22v1h-22zM3163 13h21v1h-21zM3540 13h41v1h-41zM3611 13h37v1h-37zM3790 13h10v1h-10zM1307 14h29v1h-29zM1350 14h9v1h-9zM1381 14h11v1h-11zM1429 14h10v1h-10zM1489 14h19v1h-19zM1539 14h23v1h-23zM1585 14h7v1h-7zM523 15h10v1h-10zM770 15h9v1h-9zM1105 15h14v1h-14zM1290 15h17v1h-17zM1585 15h7v1h-7zM1891 15h11v1h-11zM2180 15h11v1h-11zM2229 15h17v1h-17zM2420 15h7v1h-7zM2485 15h12v1h-12zM2607 15h7v1h-7zM2635 15h11v1h-11zM2899 15h17v1h-17zM3106 15h8v1h-8zM2427 16h10v1h-10zM2540 16h9v1h-9zM2560 16h12v1h-12zM2607 16h7v1h-7zM540 17h17v1h-17zM921 17h11v1h-11zM1105 17h14v1h-14zM1350 17h19v1h-19zM1585 17h7v1h-7zM1813 17h7v1h-7zM1827 17h14v1h-14zM1950 17h14v1h-14zM2052 17h18v1h-18zM2089 17h9v1h-9zM2150 17h9v1h-9zM2200 17h17v1h-17zM2229 17h17v1h-17zM2263 17h7v1h-7zM2327 17h17v1h-17zM2540 17h9v1h-9zM2711 17h14v1h-14zM2961 17h24v1h-24zM3018 17h33v1h-33zM3061 17h14v1h-14zM3554 17h10v1h-10zM3648 17h17v1h-17zM3734 17h10v1h-10zM1350 18h19v1h-19zM1413 18h7v1h-7zM1473 18h7v1h-7zM1489 18h9v1h-9zM1530 18h9v1h-9zM1550 18h12v1h-12zM1721 18h10v1h-10zM1813 18h7v1h-7zM1891 18h11v1h-11zM1950 18h14v1h-14zM1997 18h9v1h-9zM2098 18h12v1h-12zM2117 18h12v1h-12zM2309 18h18v1h-18zM2372 18h11v1h-11zM1272 19h18v1h-18zM1585 19h7v1h-7zM1599 19h25v1h-25zM1683 19h7v1h-7zM1707 19h14v1h-14zM2013 19h11v1h-11zM2043 19h9v1h-9zM2117 19h12v1h-12zM2309 19h11v1h-11zM2660 19h23v1h-23zM3035 19h7v1h-7zM3089 19h7v1h-7zM3708 19h9v1h-9zM3753 19h21v1h-21zM418 20h17v1h-17zM1914 20h9v1h-9zM2166 20h14v1h-14zM2327 20h17v1h-17zM2467 20h9v1h-9zM2528 20h12v1h-12zM2549 20h23v1h-23zM2621 20h39v1h-39zM2865 20h17v1h-17zM2899 20h28v1h-28zM2961 20h12v1h-12zM352 21h11v1h-11zM418 21h17v1h-17zM691 21h12v1h-12zM836 21h10v1h-10zM1578 21h7v1h-7zM1592 21h7v1h-7zM1690 21h17v1h-17zM1978 21h7v1h-7zM2033 21h10v1h-10zM2061 21h9v1h-9zM2200 21h17v1h-17zM2280 21h12v1h-12zM2447 21h9v1h-9zM2476 21h9v1h-9zM2607 21h7v1h-7zM2646 21h23v1h-23zM2683 21h7v1h-7zM2820 21h14v1h-14zM2997 21h7v1h-7zM3018 21h17v1h-17zM3153 21h10v1h-10zM352 22h25v1h-25zM445 22h17v1h-17zM514 22h9v1h-9zM578 22h12v1h-12zM670 22h21v1h-21zM703 22h14v1h-14zM752 22h9v1h-9zM826 22h20v1h-20zM946 22h14v1h-14zM1359 22h10v1h-10zM1690 22h17v1h-17zM1891 22h11v1h-11zM1950 22h14v1h-14zM2110 22h7v1h-7zM2191 22h9v1h-9zM2292 22h28v1h-28zM2402 22h9v1h-9zM2476 22h9v1h-9zM2597 22h10v1h-10zM2927 22h7v1h-7zM2961 22h12v1h-12zM3581 22h11v1h-11zM1063 23h7v1h-7zM1228 23h9v1h-9zM1585 23h7v1h-7zM1613 23h11v1h-11zM1862 23h17v1h-17zM1964 23h14v1h-14zM1985 23h12v1h-12zM2006 23h7v1h-7zM2043 23h9v1h-9zM2079 23h10v1h-10zM2309 23h11v1h-11zM2344 23h17v1h-17zM2402 23h9v1h-9zM2597 23h17v1h-17zM2669 23h14v1h-14zM2808 23h12v1h-12zM3004 23h14v1h-14zM3505 23h9v1h-9zM684 24h7v1h-7zM1852 24h10v1h-10zM1902 24h12v1h-12zM1950 24h14v1h-14zM1985 24h12v1h-12zM2129 24h14v1h-14zM2180 24h11v1h-11zM2217 24h12v1h-12zM2437 24h10v1h-10zM2660 24h9v1h-9zM2690 24h12v1h-12zM2882 24h7v1h-7zM2961 24h12v1h-12zM3035 24h7v1h-7zM3217 24h10v1h-10zM3505 24h9v1h-9zM3708 24h9v1h-9z"/>
<path fill="#600c60" d="M1578 0h7v1h-7zM2117 0h12v1h-12zM2361 0h11v1h-11zM2725 0h9v1h-9zM3195 0h12v1h-12zM3476 0h9v1h-9zM604 1h9v1h-9zM1520 1h10v1h-10zM2467 1h9v1h-9zM2711 1h14v1h-14zM3599 1h12v1h-12zM578 2h12v1h-12zM977 2h9v1h-9zM1000 2h12v1h-12zM1307 2h17v1h-17zM1683 2h7v1h-7zM1820 2h7v1h-7zM2033 2h10v1h-10zM2052 2h9v1h-9zM2383 2h5v1h-5zM2614 2h7v1h-7zM2961 2h12v1h-12zM3701 2h7v1h-7zM3790 2h10v1h-10zM625 4h12v1h-12zM2916 4h11v1h-11zM3106 4h8v1h-8zM1307 5h17v1h-17zM2711 5h14v1h-14zM1084 6h12v1h-12zM1281 6h9v1h-9zM1530 6h9v1h-9zM2961 6h12v1h-12zM1000 7h12v1h-12zM1031 7h7v1h-7zM1084 7h12v1h-12zM1130 7h9v1h-9zM1272 7h9v1h-9zM1489 7h9v1h-9zM3042 7h9v1h-9zM3075 7h14v1h-14zM3184 7h11v1h-11zM1119 10h11v1h-11zM1272 10h9v1h-9zM1336 10h14v1h-14zM1498 10h10v1h-10zM3701 10h16v1h-16zM1508 11h12v1h-12zM3241 11h11v1h-11zM3291 11h7v1h-7zM3454 11h11v1h-11zM3485 11h10v1h-10zM3540 11h24v1h-24zM3753 11h10v1h-10zM1052 12h11v1h-11zM1194 12h10v1h-10zM1228 12h9v1h-9zM1613 12h11v1h-11zM3184 12h11v1h-11zM3217 12h10v1h-10zM3611 12h10v1h-10zM3648 12h17v1h-17zM1489 13h9v1h-9zM1530 13h9v1h-9zM3744 13h19v1h-19zM1480 14h9v1h-9zM1237 15h7v1h-7zM1359 15h10v1h-10zM1731 15h9v1h-9zM1783 15h7v1h-7zM1862 15h17v1h-17zM2013 15h11v1h-11zM2061 15h9v1h-9zM2110 15h7v1h-7zM2246 15h17v1h-17zM2755 15h10v1h-10zM2820 15h14v1h-14zM1578 16h7v1h-7zM2476 16h9v1h-9zM2117 17h12v1h-12zM2320 17h7v1h-7zM2865 17h17v1h-17zM3361 17h17v1h-17zM1429 18h10v1h-10zM1539 18h11v1h-11zM2110 18h7v1h-7zM2280 18h12v1h-12zM2383 18h5v1h-5zM2746 18h9v1h-9zM2765 18h12v1h-12zM1841 19h11v1h-11zM1031 20h7v1h-7zM1578 20h7v1h-7zM1683 20h7v1h-7zM1721 20h10v1h-10zM2344 20h17v1h-17zM2402 20h9v1h-9zM2437 20h10v1h-10zM3392 20h7v1h-7zM568 21h10v1h-10zM1359 21h10v1h-10zM1456 21h17v1h-17zM1766 21h17v1h-17zM2070 21h9v1h-9zM3701 21h7v1h-7zM1578 22h7v1h-7zM1914 22h9v1h-9zM2006 22h7v1h-7zM2420 22h7v1h-7zM2549 22h11v1h-11zM2572 22h14v1h-14zM2621 22h14v1h-14zM2820 22h14v1h-14zM1707 23h14v1h-14zM1950 23h14v1h-14zM1392 24h12v1h-12zM1530 24h9v1h-9z"/>
<path fill="#6c483c" d="M1599 0h14v1h-14zM3174 0h10v1h-10zM3280 0h11v1h-11zM1666 4h17v1h-17zM3227 4h14v1h-14zM3051 5h10v1h-10zM2889 6h10v1h-10zM3631 6h17v1h-17zM1585 7h7v1h-7zM2263 7h7v1h-7zM1813 9h7v1h-7zM3217 10h10v1h-10zM2851 13h14v1h-14zM2997 14h7v1h-7zM1997 15h9v1h-9zM2309 17h11v1h-11zM2361 17h11v1h-11zM1914 19h9v1h-9zM2528 19h12v1h-12zM826 20h10v1h-10zM1498 20h10v1h-10zM377 21h7v1h-7zM2013 21h11v1h-11zM1307 23h17v1h-17zM2150 23h9v1h-9zM3564 23h17v1h-17z"/>
<path fill="#603c30" d="M1624 0h7v1h-7zM1599 2h14v1h-14zM2899 2h17v1h-17zM740 4h12v1h-12zM1801 4h12v1h-12zM3075 4h14v1h-14zM625 7h12v1h-12zM1740 10h14v1h-14zM3227 11h14v1h-14zM3708 11h9v1h-9zM1498 13h10v1h-10zM1902 14h12v1h-12zM960 15h17v1h-17zM2098 15h12v1h-12zM503 16h11v1h-11zM418 17h17v1h-17zM1530 17h9v1h-9zM3581 17h11v1h-11zM3075 18h14v1h-14zM1439 20h17v1h-17zM1530 20h9v1h-9zM3774 20h9v1h-9zM1740 21h14v1h-14zM1891 21h11v1h-11zM2882 21h7v1h-7zM1530 22h9v1h-9zM1862 22h17v1h-17zM2528 22h12v1h-12zM2899 22h17v1h-17zM3347 22h14v1h-14zM3708 22h9v1h-9zM1324 23h12v1h-12zM2851 23h14v1h-14z"/>
<path fill="#240c24" d="M1640 0h17v1h-17zM2808 0h12v1h-12zM3207 0h10v1h-10zM1096 1h9v1h-9zM1964 1h14v1h-14zM2079 1h10v1h-10zM2117 1h12v1h-12zM2166 1h14v1h-14zM2344 1h17v1h-17zM2402 1h9v1h-9zM3004 1h14v1h-14zM3378 1h7v1h-7zM3514 1h11v1h-11zM3631 1h17v1h-17zM3665 1h7v1h-7zM384 2h17v1h-17zM418 2h17v1h-17zM646 2h10v1h-10zM691 2h12v1h-12zM728 2h12v1h-12zM826 2h10v1h-10zM932 2h7v1h-7zM1666 2h17v1h-17zM1721 2h10v1h-10zM1801 2h12v1h-12zM1862 2h17v1h-17zM1985 2h12v1h-12zM2191 2h9v1h-9zM2411 2h9v1h-9zM2777 2h10v1h-10zM2820 2h14v1h-14zM2944 2h17v1h-17zM3018 2h17v1h-17zM3089 2h7v1h-7zM3385 2h7v1h-7zM3592 2h19v1h-19zM3708 2h9v1h-9zM826 4h10v1h-10zM2110 4h7v1h-7zM2344 4h28v1h-28zM2383 4h5v1h-5zM2646 4h14v1h-14zM2690 4h12v1h-12zM2796 4h12v1h-12zM2927 4h7v1h-7zM3280 4h11v1h-11zM3454 4h11v1h-11zM1021 5h49v1h-49zM1096 5h9v1h-9zM1119 5h20v1h-20zM1151 5h43v1h-43zM1221 5h7v1h-7zM1392 5h12v1h-12zM2150 5h9v1h-9zM2889 5h10v1h-10zM2916 5h11v1h-11zM2961 5h12v1h-12zM3217 5h10v1h-10zM352 6h11v1h-11zM377 6h41v1h-41zM435 6h37v1h-37zM481 6h22v1h-22zM533 6h24v1h-24zM578 6h12v1h-12zM604 6h9v1h-9zM670 6h33v1h-33zM752 6h9v1h-9zM793 6h7v1h-7zM921 6h25v1h-25zM1221 6h7v1h-7zM1336 6h14v1h-14zM1439 6h17v1h-17zM1480 6h9v1h-9zM2420 6h17v1h-17zM2456 6h11v1h-11zM2497 6h14v1h-14zM2540 6h9v1h-9zM2646 6h37v1h-37zM2834 6h17v1h-17zM3241 6h11v1h-11zM3717 6h17v1h-17zM3783 6h7v1h-7zM717 7h23v1h-23zM809 7h17v1h-17zM874 7h7v1h-7zM932 7h7v1h-7zM1369 7h12v1h-12zM2402 7h9v1h-9zM2660 7h9v1h-9zM2851 7h14v1h-14zM2927 7h7v1h-7zM3263 7h7v1h-7zM3347 7h14v1h-14zM3385 7h7v1h-7zM3611 7h10v1h-10zM3631 7h17v1h-17zM1000 8h38v1h-38zM1063 8h7v1h-7zM1084 8h46v1h-46zM1139 8h12v1h-12zM1204 8h17v1h-17zM1261 8h20v1h-20zM2834 8h17v1h-17zM2882 8h7v1h-7zM3270 8h10v1h-10zM3392 8h7v1h-7zM3554 8h10v1h-10zM3581 8h11v1h-11zM3621 8h10v1h-10zM3692 8h25v1h-25zM3734 8h19v1h-19zM3763 8h20v1h-20zM1021 9h17v1h-17zM1063 9h7v1h-7zM1096 9h34v1h-34zM1163 9h31v1h-31zM1221 9h16v1h-16zM1272 9h9v1h-9zM1307 9h17v1h-17zM1420 9h9v1h-9zM2889 9h10v1h-10zM3317 9h9v1h-9zM3514 9h11v1h-11zM3599 9h22v1h-22zM3665 9h18v1h-18zM3692 9h9v1h-9zM3708 9h26v1h-26zM3763 9h11v1h-11zM3790 9h10v1h-10zM363 10h14v1h-14zM401 10h34v1h-34zM445 10h17v1h-17zM491 10h32v1h-32zM533 10h7v1h-7zM613 10h12v1h-12zM703 10h14v1h-14zM752 10h27v1h-27zM853 10h21v1h-21zM881 10h12v1h-12zM921 10h25v1h-25zM986 10h14v1h-14zM1228 10h9v1h-9zM1429 10h10v1h-10zM1592 10h7v1h-7zM1754 10h12v1h-12zM1783 10h7v1h-7zM2129 10h14v1h-14zM2180 10h11v1h-11zM2263 10h7v1h-7zM3326 10h7v1h-7zM3505 10h9v1h-9zM3683 10h9v1h-9zM3385 11h7v1h-7zM377 12h41v1h-41zM435 12h10v1h-10zM472 12h9v1h-9zM491 12h12v1h-12zM637 12h9v1h-9zM656 12h14v1h-14zM691 12h12v1h-12zM752 12h9v1h-9zM809 12h17v1h-17zM836 12h10v1h-10zM960 12h17v1h-17zM1105 12h14v1h-14zM1281 12h9v1h-9zM1592 12h7v1h-7zM3708 12h9v1h-9zM1063 13h21v1h-21zM1105 13h14v1h-14zM1130 13h9v1h-9zM1163 13h31v1h-31zM1228 13h9v1h-9zM1244 13h17v1h-17zM1281 13h9v1h-9zM1683 13h7v1h-7zM3717 13h17v1h-17zM1012 14h9v1h-9zM1052 14h11v1h-11zM1096 14h43v1h-43zM1151 14h26v1h-26zM1204 14h17v1h-17zM1228 14h9v1h-9zM1244 14h28v1h-28zM3139 14h14v1h-14zM3163 14h44v1h-44zM3217 14h24v1h-24zM3252 14h11v1h-11zM3270 14h10v1h-10zM3298 14h9v1h-9zM3326 14h21v1h-21zM3361 14h17v1h-17zM3385 14h7v1h-7zM3399 14h12v1h-12zM3476 14h19v1h-19zM3564 14h17v1h-17zM3592 14h73v1h-73zM3692 14h25v1h-25zM3744 14h19v1h-19zM568 15h10v1h-10zM604 15h9v1h-9zM752 15h9v1h-9zM800 15h9v1h-9zM826 15h10v1h-10zM864 15h10v1h-10zM986 15h14v1h-14zM1690 15h17v1h-17zM1801 15h12v1h-12zM2070 15h9v1h-9zM2166 15h14v1h-14zM2621 15h14v1h-14zM2765 15h12v1h-12zM1429 16h10v1h-10zM1489 16h9v1h-9zM1520 16h10v1h-10zM1640 16h26v1h-26zM1740 16h14v1h-14zM1801 16h26v1h-26zM1862 16h52v1h-52zM1923 16h10v1h-10zM1978 16h19v1h-19zM2024 16h9v1h-9zM2043 16h9v1h-9zM2061 16h9v1h-9zM2079 16h10v1h-10zM2098 16h12v1h-12zM2117 16h26v1h-26zM2229 16h34v1h-34zM2270 16h10v1h-10zM2621 16h14v1h-14zM2702 16h44v1h-44zM2765 16h12v1h-12zM2820 16h31v1h-31zM2865 16h17v1h-17zM2916 16h11v1h-11zM2934 16h10v1h-10zM2961 16h12v1h-12zM3004 16h38v1h-38zM3106 16h8v1h-8zM3581 16h11v1h-11zM3621 16h10v1h-10zM3683 16h9v1h-9zM3701 16h7v1h-7zM3774 16h9v1h-9zM717 17h11v1h-11zM1000 17h21v1h-21zM1307 17h17v1h-17zM1413 17h7v1h-7zM1520 17h10v1h-10zM1914 17h9v1h-9zM1985 17h21v1h-21zM2344 17h17v1h-17zM2511 17h17v1h-17zM2755 17h10v1h-10zM2787 17h9v1h-9zM3717 17h17v1h-17zM3774 17h9v1h-9zM1508 18h12v1h-12zM2263 18h7v1h-7zM2899 18h17v1h-17zM1130 19h21v1h-21zM1359 19h22v1h-22zM1392 19h12v1h-12zM1473 19h16v1h-16zM1508 19h12v1h-12zM1539 19h11v1h-11zM1902 19h12v1h-12zM2327 19h17v1h-17zM2372 19h11v1h-11zM2777 19h10v1h-10zM2899 19h17v1h-17zM1801 20h12v1h-12zM2200 20h17v1h-17zM2229 20h17v1h-17zM2263 20h17v1h-17zM2597 20h10v1h-10zM3252 20h11v1h-11zM462 21h10v1h-10zM613 21h12v1h-12zM752 21h9v1h-9zM881 21h12v1h-12zM946 21h14v1h-14zM1480 21h9v1h-9zM1631 21h9v1h-9zM1852 21h10v1h-10zM3505 21h9v1h-9zM540 22h17v1h-17zM604 22h9v1h-9zM779 22h14v1h-14zM864 22h10v1h-10zM907 22h14v1h-14zM1473 22h7v1h-7zM1721 22h10v1h-10zM1923 22h10v1h-10zM1985 22h12v1h-12zM2052 22h9v1h-9zM2079 22h10v1h-10zM2270 22h10v1h-10zM2865 22h17v1h-17zM2997 22h7v1h-7zM3554 22h10v1h-10zM3753 22h10v1h-10zM604 23h9v1h-9zM1000 23h12v1h-12zM1599 23h14v1h-14zM1666 23h17v1h-17zM2292 23h17v1h-17zM2467 23h18v1h-18zM2916 23h11v1h-11zM1539 24h11v1h-11zM2292 24h17v1h-17zM2765 24h12v1h-12zM2916 24h11v1h-11zM3139 24h14v1h-14zM3270 24h10v1h-10zM3495 24h10v1h-10zM3774 24h9v1h-9z"/>
<path fill="#484818" d="M1721 0h10v1h-10zM2485 0h12v1h-12zM3378 6h7v1h-7zM3514 6h11v1h-11zM540 12h17v1h-17zM864 16h10v1h-10zM2263 19h7v1h-7zM3540 20h14v1h-14z"/>
<path fill="#6c186c" d="M1740 0h14v1h-14zM1827 0h14v1h-14zM2013 0h11v1h-11zM2916 0h11v1h-11zM3106 0h8v1h-8zM3631 0h17v1h-17zM2427 1h10v1h-10zM2560 1h26v1h-26zM2725 1h9v1h-9zM3227 1h14v1h-14zM3399 1h12v1h-12zM1754 2h12v1h-12zM2372 2h11v1h-11zM3361 2h17v1h-17zM1578 4h7v1h-7zM1721 4h10v1h-10zM2129 4h14v1h-14zM2420 4h7v1h-7zM3096 4h10v1h-10zM2098 5h12v1h-12zM3465 5h11v1h-11zM3790 5h10v1h-10zM1456 6h17v1h-17zM2755 6h10v1h-10zM3701 6h7v1h-7zM590 7h14v1h-14zM1413 7h7v1h-7zM2614 7h7v1h-7zM3592 7h7v1h-7zM1539 10h11v1h-11zM3437 10h17v1h-17zM3790 10h10v1h-10zM1139 11h12v1h-12zM1369 11h12v1h-12zM3514 11h11v1h-11zM1307 12h17v1h-17zM3495 12h10v1h-10zM1290 13h17v1h-17zM2711 13h14v1h-14zM2200 14h17v1h-17zM590 15h14v1h-14zM656 15h14v1h-14zM1879 15h12v1h-12zM2117 15h12v1h-12zM2263 15h7v1h-7zM2280 15h12v1h-12zM2402 15h9v1h-9zM2456 15h11v1h-11zM2916 15h11v1h-11zM3042 15h9v1h-9zM2586 16h11v1h-11zM1456 17h17v1h-17zM1480 17h9v1h-9zM2033 17h10v1h-10zM2159 17h21v1h-21zM2270 17h10v1h-10zM2402 17h9v1h-9zM2447 17h9v1h-9zM2597 17h10v1h-10zM2614 17h7v1h-7zM3089 17h7v1h-7zM1657 18h9v1h-9zM1985 18h12v1h-12zM2344 18h17v1h-17zM2851 18h14v1h-14zM3042 18h9v1h-9zM1021 19h10v1h-10zM1592 19h7v1h-7zM1827 19h14v1h-14zM2098 19h12v1h-12zM503 20h11v1h-11zM1599 20h14v1h-14zM1820 20h7v1h-7zM2052 20h9v1h-9zM2129 20h14v1h-14zM2150 20h9v1h-9zM2485 20h12v1h-12zM2511 20h17v1h-17zM2934 20h10v1h-10zM3075 20h14v1h-14zM1530 21h9v1h-9zM1783 21h18v1h-18zM2117 21h12v1h-12zM3774 21h9v1h-9zM1599 22h14v1h-14zM1683 22h7v1h-7zM2024 22h9v1h-9zM2361 22h11v1h-11zM2411 22h9v1h-9zM2467 22h9v1h-9zM2560 22h12v1h-12zM2690 22h12v1h-12zM3061 22h14v1h-14zM1592 23h7v1h-7zM1978 23h7v1h-7zM2024 23h9v1h-9zM2143 23h7v1h-7zM2246 23h17v1h-17zM1599 24h14v1h-14zM1879 24h12v1h-12z"/>
<path fill="#241818" d="M1754 0h12v1h-12zM3139 0h14v1h-14zM3753 0h10v1h-10zM1508 1h12v1h-12zM1985 1h12v1h-12zM1139 2h12v1h-12zM1978 2h7v1h-7zM3035 2h7v1h-7zM3734 2h10v1h-10zM352 4h11v1h-11zM418 4h17v1h-17zM836 4h10v1h-10zM3174 4h10v1h-10zM3385 4h7v1h-7zM1392 6h12v1h-12zM2485 6h12v1h-12zM1096 7h9v1h-9zM1801 8h12v1h-12zM2263 8h7v1h-7zM1070 9h14v1h-14zM1244 9h17v1h-17zM670 10h14v1h-14zM1489 10h9v1h-9zM2834 11h17v1h-17zM1052 13h11v1h-11zM1950 14h14v1h-14zM3554 14h10v1h-10zM2089 15h9v1h-9zM3734 16h10v1h-10zM1281 17h9v1h-9zM3783 17h7v1h-7zM2865 18h17v1h-17zM2383 19h5v1h-5zM2070 20h9v1h-9zM2808 22h12v1h-12zM2899 24h17v1h-17z"/>
<path fill="#601860" d="M1766 0h17v1h-17zM2079 0h10v1h-10zM2143 0h7v1h-7zM3514 0h11v1h-11zM3018 1h17v1h-17zM3361 1h17v1h-17zM3717 1h17v1h-17zM3763 1h11v1h-11zM1063 2h7v1h-7zM1731 2h9v1h-9zM1420 4h9v1h-9zM2549 4h11v1h-11zM2851 4h14v1h-14zM2961 4h12v1h-12zM2006 5h7v1h-7zM1119 7h11v1h-11zM1237 7h7v1h-7zM2621 7h14v1h-14zM2669 7h14v1h-14zM2961 7h12v1h-12zM1683 9h7v1h-7zM1130 10h21v1h-21zM1290 10h17v1h-17zM1392 10h12v1h-12zM2013 10h11v1h-11zM3270 10h10v1h-10zM3783 10h7v1h-7zM1105 11h14v1h-14zM1429 11h10v1h-10zM1933 11h17v1h-17zM3307 11h10v1h-10zM1237 12h7v1h-7zM1413 12h7v1h-7zM1439 12h17v1h-17zM1473 12h7v1h-7zM3139 12h14v1h-14zM3298 12h9v1h-9zM3783 12h7v1h-7zM1350 13h9v1h-9zM1369 13h12v1h-12zM907 15h14v1h-14zM1194 15h10v1h-10zM1261 15h11v1h-11zM1489 15h9v1h-9zM1754 15h12v1h-12zM2528 15h12v1h-12zM2851 15h14v1h-14zM2997 15h7v1h-7zM1381 17h11v1h-11zM2660 17h9v1h-9zM2997 17h7v1h-7zM1498 18h10v1h-10zM2129 18h14v1h-14zM2166 18h14v1h-14zM2200 18h17v1h-17zM2229 18h17v1h-17zM2702 18h9v1h-9zM1933 20h17v1h-17zM2117 20h12v1h-12zM2280 20h12v1h-12zM1841 21h11v1h-11zM2327 21h17v1h-17zM2889 22h10v1h-10zM2200 23h17v1h-17zM2372 23h11v1h-11zM1272 24h9v1h-9zM1369 24h12v1h-12zM2280 24h12v1h-12z"/>
<path fill="#30240c" d="M1790 0h11v1h-11zM2997 0h7v1h-7zM3163 1h11v1h-11zM2702 2h9v1h-9zM2309 5h11v1h-11zM2635 6h11v1h-11zM1578 8h7v1h-7zM2309 9h11v1h-11zM846 10h7v1h-7zM2024 10h9v1h-9zM568 14h10v1h-10zM1508 15h12v1h-12zM1084 17h12v1h-12zM977 21h9v1h-9zM3378 22h7v1h-7zM3621 24h10v1h-10z"/>
<path fill="#783c54" d="M1813 0h14v1h-14zM3241 2h11v1h-11zM3631 4h17v1h-17zM3485 10h10v1h-10zM3672 19h11v1h-11zM2159 20h7v1h-7zM2150 21h9v1h-9zM691 24h12v1h-12z"/>
<path fill="#483018" d="M1852 0h10v1h-10zM1498 4h10v1h-10zM2467 6h9v1h-9zM1429 9h10v1h-10zM2755 9h10v1h-10zM472 10h9v1h-9zM1923 12h10v1h-10zM1194 13h10v1h-10zM2180 16h11v1h-11zM1498 19h10v1h-10zM2944 22h17v1h-17zM3139 22h14v1h-14zM1640 23h17v1h-17z"/>
<path fill="#240c18" d="M1879 0h12v1h-12zM2229 0h17v1h-17zM2467 0h9v1h-9zM874 1h7v1h-7zM2586 1h11v1h-11zM3326 1h7v1h-7zM907 2h14v1h-14zM2560 2h12v1h-12zM2834 2h17v1h-17zM2889 2h10v1h-10zM3184 2h11v1h-11zM3428 2h9v1h-9zM3631 2h17v1h-17zM2117 4h12v1h-12zM637 6h9v1h-9zM846 6h7v1h-7zM2614 6h7v1h-7zM1530 7h9v1h-9zM1290 9h17v1h-17zM2061 9h9v1h-9zM2280 9h12v1h-12zM740 10h12v1h-12zM1624 10h7v1h-7zM3128 10h11v1h-11zM1413 11h7v1h-7zM703 13h14v1h-14zM3437 13h17v1h-17zM2098 14h12v1h-12zM1369 16h12v1h-12zM2635 16h11v1h-11zM1754 18h29v1h-29zM1204 19h17v1h-17zM2411 19h9v1h-9zM2669 20h14v1h-14zM1508 21h12v1h-12zM1666 21h17v1h-17zM2166 21h14v1h-14zM2614 21h7v1h-7zM2586 22h11v1h-11zM3004 22h14v1h-14zM1480 23h9v1h-9zM761 24h18v1h-18z"/>
<path fill="#905454" d="M1902 0h12v1h-12zM1031 2h7v1h-7zM2117 6h12v1h-12zM1879 8h12v1h-12zM3581 19h11v1h-11zM3753 23h10v1h-10z"/>
<path fill="#0c000c" d="M1923 0h10v1h-10zM691 1h12v1h-12zM1766 1h17v1h-17zM2320 1h7v1h-7zM2669 1h14v1h-14zM3437 1h17v1h-17zM1369 2h12v1h-12zM1508 2h12v1h-12zM435 3h10v1h-10zM503 3h11v1h-11zM770 3h9v1h-9zM809 3h17v1h-17zM1456 3h17v1h-17zM1489 3h9v1h-9zM1520 3h10v1h-10zM1592 3h7v1h-7zM1933 3h17v1h-17zM2180 3h11v1h-11zM2361 3h22v1h-22zM2597 3h10v1h-10zM3163 3h11v1h-11zM3307 3h19v1h-19zM3385 3h7v1h-7zM3592 3h7v1h-7zM793 4h7v1h-7zM1139 4h12v1h-12zM1530 4h9v1h-9zM1914 4h9v1h-9zM2734 4h12v1h-12zM3018 4h17v1h-17zM352 5h32v1h-32zM401 5h44v1h-44zM472 5h9v1h-9zM491 5h12v1h-12zM523 5h17v1h-17zM557 5h11v1h-11zM578 5h12v1h-12zM604 5h33v1h-33zM646 5h10v1h-10zM684 5h19v1h-19zM740 5h86v1h-86zM846 5h47v1h-47zM946 5h31v1h-31zM1272 5h9v1h-9zM3163 5h11v1h-11zM3581 5h30v1h-30zM946 6h14v1h-14zM1613 6h11v1h-11zM1631 6h9v1h-9zM1914 6h9v1h-9zM418 7h17v1h-17zM2528 7h12v1h-12zM3454 7h11v1h-11zM846 8h7v1h-7zM1336 8h23v1h-23zM1369 8h23v1h-23zM1420 8h19v1h-19zM1489 8h9v1h-9zM1539 8h23v1h-23zM1585 8h39v1h-39zM2420 8h7v1h-7zM2467 8h9v1h-9zM2485 8h26v1h-26zM2560 8h12v1h-12zM2586 8h11v1h-11zM2621 8h25v1h-25zM2669 8h21v1h-21zM514 9h9v1h-9zM684 9h7v1h-7zM1578 9h7v1h-7zM1624 9h7v1h-7zM800 10h9v1h-9zM352 11h49v1h-49zM418 11h17v1h-17zM481 11h22v1h-22zM514 11h9v1h-9zM540 11h17v1h-17zM590 11h23v1h-23zM656 11h14v1h-14zM717 11h23v1h-23zM761 11h18v1h-18zM793 11h16v1h-16zM864 11h10v1h-10zM881 11h26v1h-26zM921 11h11v1h-11zM977 11h23v1h-23zM1914 12h9v1h-9zM352 13h11v1h-11zM418 13h17v1h-17zM481 13h10v1h-10zM514 13h43v1h-43zM578 13h26v1h-26zM613 13h24v1h-24zM656 13h14v1h-14zM684 13h19v1h-19zM717 13h11v1h-11zM770 13h9v1h-9zM793 13h7v1h-7zM826 13h10v1h-10zM907 13h14v1h-14zM939 13h47v1h-47zM1578 13h7v1h-7zM1613 13h11v1h-11zM1631 13h9v1h-9zM2607 13h7v1h-7zM363 14h14v1h-14zM401 14h34v1h-34zM481 14h22v1h-22zM514 14h9v1h-9zM533 14h35v1h-35zM590 14h23v1h-23zM637 14h9v1h-9zM684 14h19v1h-19zM728 14h42v1h-42zM779 14h57v1h-57zM853 14h11v1h-11zM907 14h25v1h-25zM939 14h7v1h-7zM986 14h14v1h-14zM1038 14h14v1h-14zM684 15h7v1h-7zM703 15h14v1h-14zM1324 15h12v1h-12zM2191 15h9v1h-9zM2497 16h14v1h-14zM445 17h17v1h-17zM1031 17h7v1h-7zM1119 17h11v1h-11zM1841 17h11v1h-11zM3631 17h17v1h-17zM363 18h14v1h-14zM684 18h7v1h-7zM1000 18h12v1h-12zM1105 18h14v1h-14zM1585 18h7v1h-7zM1599 18h32v1h-32zM2191 18h9v1h-9zM2427 18h29v1h-29zM2467 18h9v1h-9zM2511 18h29v1h-29zM2607 18h7v1h-7zM1813 20h7v1h-7zM1879 20h12v1h-12zM2191 20h9v1h-9zM2427 20h10v1h-10zM472 21h9v1h-9zM557 21h11v1h-11zM2180 22h11v1h-11zM2485 22h26v1h-26zM3611 22h10v1h-10zM1539 23h11v1h-11zM1801 23h12v1h-12zM2089 23h9v1h-9zM3672 23h11v1h-11zM1237 24h7v1h-7zM1827 24h14v1h-14zM3392 24h7v1h-7z"/>
<path fill="#602448" d="M1950 0h14v1h-14zM2159 13h7v1h-7zM2711 14h14v1h-14zM836 15h10v1h-10zM1783 17h7v1h-7zM2246 21h17v1h-17zM2383 23h5v1h-5z"/>
<path fill="#3c3c18" d="M2033 0h10v1h-10zM472 1h9v1h-9zM670 5h14v1h-14zM2456 8h11v1h-11zM503 13h11v1h-11zM637 13h9v1h-9zM1631 16h9v1h-9zM1489 17h9v1h-9zM1690 20h17v1h-17z"/>
<path fill="#604830" d="M2043 0h9v1h-9zM1324 1h12v1h-12zM2683 1h7v1h-7zM3692 1h9v1h-9zM1933 2h17v1h-17zM3004 2h14v1h-14zM717 4h11v1h-11zM1281 4h9v1h-9zM1820 4h7v1h-7zM1520 5h10v1h-10zM1985 6h12v1h-12zM3096 6h10v1h-10zM445 7h17v1h-17zM472 7h9v1h-9zM557 7h11v1h-11zM1985 7h12v1h-12zM3096 7h10v1h-10zM2765 9h12v1h-12zM3184 11h11v1h-11zM1480 13h9v1h-9zM3333 13h14v1h-14zM3428 13h9v1h-9zM1350 15h9v1h-9zM2327 15h17v1h-17zM2411 15h9v1h-9zM2217 18h12v1h-12zM2166 19h14v1h-14zM2985 19h12v1h-12zM3184 20h23v1h-23zM1290 21h17v1h-17zM853 22h11v1h-11zM1754 23h12v1h-12zM2191 23h9v1h-9zM2485 23h12v1h-12zM2985 23h12v1h-12z"/>
<path fill="#180c0c" d="M2052 0h9v1h-9zM2646 0h14v1h-14zM3317 0h9v1h-9zM2528 2h12v1h-12zM3051 2h10v1h-10zM3280 2h11v1h-11zM1766 4h17v1h-17zM1902 4h12v1h-12zM590 5h14v1h-14zM907 5h14v1h-14zM3153 5h10v1h-10zM3298 6h9v1h-9zM3018 7h17v1h-17zM2344 8h17v1h-17zM3701 9h7v1h-7zM2927 10h7v1h-7zM3399 10h12v1h-12zM853 11h11v1h-11zM793 12h7v1h-7zM2427 13h10v1h-10zM3227 13h14v1h-14zM1683 14h7v1h-7zM2669 14h14v1h-14zM1592 18h7v1h-7zM2043 18h9v1h-9zM2597 18h10v1h-10zM2646 18h14v1h-14zM2320 19h7v1h-7zM3774 19h9v1h-9zM740 20h12v1h-12zM960 20h17v1h-17zM1038 20h14v1h-14zM3263 24h7v1h-7z"/>
<path fill="#6c4830" d="M2110 0h7v1h-7zM1052 2h11v1h-11zM2808 2h12v1h-12zM3753 2h10v1h-10zM779 4h14v1h-14zM874 4h7v1h-7zM2734 13h12v1h-12zM1539 15h11v1h-11zM2777 18h10v1h-10zM809 21h17v1h-17zM770 22h9v1h-9zM939 23h7v1h-7zM1690 23h17v1h-17zM2061 24h9v1h-9z"/>
<path fill="#84603c" d="M2200 0h17v1h-17zM1381 2h11v1h-11zM613 4h12v1h-12zM1489 5h9v1h-9zM2200 5h17v1h-17zM1766 13h17v1h-17zM761 15h9v1h-9zM1151 17h12v1h-12zM3361 18h17v1h-17zM540 19h17v1h-17zM2690 20h12v1h-12zM836 24h10v1h-10z"/>
<path fill="#6c5424" d="M2217 0h12v1h-12zM3347 2h14v1h-14zM2263 4h7v1h-7zM2899 5h17v1h-17zM1489 6h9v1h-9zM1721 6h10v1h-10zM1902 7h12v1h-12zM2246 10h17v1h-17zM3217 13h10v1h-10zM557 15h11v1h-11zM939 15h7v1h-7zM893 16h14v1h-14zM2889 17h10v1h-10zM3505 17h9v1h-9zM1550 19h12v1h-12zM514 21h9v1h-9zM2777 21h10v1h-10zM1964 22h14v1h-14zM2456 24h11v1h-11zM3437 24h17v1h-17z"/>
<path fill="#6c3054" d="M2263 0h7v1h-7zM3061 0h14v1h-14zM1012 1h9v1h-9zM3485 4h10v1h-10zM2372 17h11v1h-11zM2180 18h11v1h-11zM590 21h14v1h-14z"/>
<path fill="#483030" d="M2270 0h10v1h-10zM1801 12h12v1h-12zM1891 14h11v1h-11zM2089 14h9v1h-9zM2263 14h7v1h-7zM809 15h17v1h-17zM1038 15h14v1h-14zM2851 19h14v1h-14zM1336 21h14v1h-14zM2540 21h9v1h-9zM1657 22h9v1h-9zM2669 22h21v1h-21zM1139 23h12v1h-12zM1336 23h14v1h-14z"/>
<path fill="#24180c" d="M2372 0h11v1h-11zM2528 0h12v1h-12zM3263 0h7v1h-7zM3378 0h7v1h-7zM836 1h10v1h-10zM1841 1h11v1h-11zM2755 2h10v1h-10zM939 5h7v1h-7zM2411 6h9v1h-9zM1480 8h9v1h-9zM2143 8h7v1h-7zM2079 10h10v1h-10zM2150 11h9v1h-9zM2383 12h5v1h-5zM893 13h14v1h-14zM1550 13h12v1h-12zM1841 13h11v1h-11zM2309 14h11v1h-11zM2485 14h12v1h-12zM3241 14h11v1h-11zM2511 15h17v1h-17zM1096 17h9v1h-9zM2607 17h7v1h-7zM3611 18h10v1h-10zM3317 19h9v1h-9zM1000 20h12v1h-12zM3174 20h10v1h-10zM3399 20h12v1h-12zM2344 21h17v1h-17zM3298 21h9v1h-9zM3514 21h11v1h-11zM2765 22h12v1h-12zM3227 22h14v1h-14zM625 23h12v1h-12zM3744 23h9v1h-9zM1281 24h9v1h-9zM2263 24h7v1h-7z"/>
<path fill="#60186c" d="M2383 0h5v1h-5zM514 1h9v1h-9zM1381 11h11v1h-11zM2467 17h9v1h-9zM2229 19h17v1h-17zM921 21h11v1h-11zM1707 21h14v1h-14zM1985 21h12v1h-12zM1813 23h7v1h-7zM1578 24h7v1h-7z"/>
<path fill="#543024" d="M2402 0h9v1h-9zM1683 4h7v1h-7zM3514 12h11v1h-11zM939 22h7v1h-7zM1707 22h14v1h-14zM2586 23h11v1h-11z"/>
<path fill="#6c3048" d="M2607 0h7v1h-7zM2997 1h7v1h-7zM2934 2h10v1h-10zM3347 4h14v1h-14zM1381 5h11v1h-11zM3683 20h9v1h-9zM646 21h10v1h-10z"/>
<path fill="#9c6c48" d="M2669 0h14v1h-14zM1473 1h7v1h-7zM2200 7h17v1h-17zM2361 7h11v1h-11zM3790 21h10v1h-10z"/>
<path fill="#843c60" d="M2683 0h7v1h-7zM2882 2h7v1h-7zM1439 11h17v1h-17zM1879 11h12v1h-12z"/>
<path fill="#242400" d="M2944 0h17v1h-17zM377 1h7v1h-7zM1429 2h10v1h-10zM846 4h7v1h-7zM3599 4h12v1h-12zM3648 4h17v1h-17zM2497 5h31v1h-31zM3042 6h9v1h-9zM1530 8h9v1h-9zM1852 8h10v1h-10zM2549 9h11v1h-11zM1985 10h12v1h-12zM2217 10h12v1h-12zM2973 10h12v1h-12zM2180 11h11v1h-11zM2344 11h17v1h-17zM2572 11h14v1h-14zM1852 12h10v1h-10zM2070 12h9v1h-9zM2110 12h7v1h-7zM2437 12h10v1h-10zM2540 12h9v1h-9zM3665 15h7v1h-7zM761 16h9v1h-9zM1084 16h12v1h-12zM1578 19h7v1h-7zM853 20h11v1h-11zM1052 20h11v1h-11zM3692 20h9v1h-9zM1031 21h7v1h-7zM1130 21h9v1h-9zM3495 21h10v1h-10zM1177 22h17v1h-17zM893 23h14v1h-14zM960 23h17v1h-17zM646 24h10v1h-10z"/>
<path fill="#302424" d="M3004 0h14v1h-14zM1244 4h17v1h-17zM977 16h9v1h-9zM2646 19h14v1h-14zM1177 21h17v1h-17zM3465 21h11v1h-11zM3692 24h9v1h-9z"/>
<path fill="#a88448" d="M3018 0h17v1h-17zM1640 7h17v1h-17zM1731 7h9v1h-9z"/>
<path fill="#240024" d="M3051 0h10v1h-10zM3611 0h10v1h-10zM2129 1h14v1h-14zM401 2h17v1h-17zM481 2h10v1h-10zM717 2h11v1h-11zM2061 2h9v1h-9zM3692 2h9v1h-9zM533 4h7v1h-7zM1307 4h17v1h-17zM1237 5h7v1h-7zM646 6h10v1h-10zM960 6h17v1h-17zM2572 6h14v1h-14zM1439 7h17v1h-17zM2411 7h9v1h-9zM2734 7h12v1h-12zM3411 7h17v1h-17zM1070 8h14v1h-14zM3648 8h24v1h-24zM1130 9h9v1h-9zM1194 9h10v1h-10zM2024 9h9v1h-9zM3581 9h11v1h-11zM604 10h9v1h-9zM637 10h9v1h-9zM728 10h12v1h-12zM809 10h17v1h-17zM1031 10h7v1h-7zM1550 11h12v1h-12zM481 12h10v1h-10zM578 12h12v1h-12zM893 12h28v1h-28zM1624 12h7v1h-7zM1070 14h14v1h-14zM1194 14h10v1h-10zM3128 14h11v1h-11zM3207 14h10v1h-10zM3581 14h11v1h-11zM3783 14h7v1h-7zM1070 15h14v1h-14zM1404 15h9v1h-9zM2683 15h7v1h-7zM2467 16h9v1h-9zM2985 18h12v1h-12zM3163 18h11v1h-11zM1489 19h9v1h-9zM1012 23h9v1h-9zM2280 23h12v1h-12zM2456 23h11v1h-11zM2961 23h12v1h-12zM2006 24h7v1h-7zM2110 24h7v1h-7zM2309 24h11v1h-11zM3347 24h14v1h-14z"/>
<path fill="#6c5430" d="M3089 0h7v1h-7zM3385 0h7v1h-7zM625 1h12v1h-12zM2528 1h12v1h-12zM363 2h14v1h-14zM1631 2h9v1h-9zM2159 2h7v1h-7zM3454 2h11v1h-11zM2820 4h14v1h-14zM1683 6h7v1h-7zM1290 7h17v1h-17zM3476 8h9v1h-9zM2098 9h12v1h-12zM2690 9h12v1h-12zM1392 11h12v1h-12zM1978 11h7v1h-7zM2702 12h23v1h-23zM1721 13h10v1h-10zM2070 13h9v1h-9zM1000 15h12v1h-12zM1707 15h24v1h-24zM684 17h7v1h-7zM977 17h9v1h-9zM2916 18h11v1h-11zM3333 18h14v1h-14zM3665 19h7v1h-7zM3291 20h7v1h-7zM3139 21h14v1h-14zM1592 22h7v1h-7zM1820 22h7v1h-7zM3280 23h11v1h-11zM3326 24h7v1h-7z"/>
<path fill="#783c48" d="M3096 0h10v1h-10zM3263 10h7v1h-7zM2361 19h11v1h-11zM2292 20h17v1h-17z"/>
<path fill="#781878" d="M3163 0h11v1h-11zM3307 0h10v1h-10zM3665 0h7v1h-7zM2660 1h9v1h-9zM3291 1h7v1h-7zM3385 1h7v1h-7zM2024 2h9v1h-9zM3227 2h14v1h-14zM1324 4h12v1h-12zM2320 4h7v1h-7zM2402 4h9v1h-9zM2702 4h9v1h-9zM3061 4h14v1h-14zM3139 4h14v1h-14zM3298 4h9v1h-9zM3361 4h17v1h-17zM1336 5h14v1h-14zM3411 5h17v1h-17zM3476 5h9v1h-9zM2746 6h9v1h-9zM853 7h11v1h-11zM2485 7h12v1h-12zM3307 7h10v1h-10zM3476 10h9v1h-9zM3514 10h11v1h-11zM3326 12h7v1h-7zM3581 13h11v1h-11zM1420 14h9v1h-9zM1578 15h7v1h-7zM1640 15h17v1h-17zM1852 15h10v1h-10zM2540 15h9v1h-9zM2511 16h17v1h-17zM1766 17h17v1h-17zM1933 17h17v1h-17zM2070 17h9v1h-9zM2420 17h7v1h-7zM1666 18h17v1h-17zM1841 18h11v1h-11zM2944 18h17v1h-17zM1031 19h7v1h-7zM1592 20h7v1h-7zM2043 20h9v1h-9zM2973 20h12v1h-12zM1498 21h10v1h-10zM2079 21h10v1h-10zM2217 21h12v1h-12zM2292 21h17v1h-17zM1392 22h12v1h-12zM1413 22h7v1h-7zM1933 22h17v1h-17zM2263 22h7v1h-7zM2973 22h12v1h-12zM1933 23h17v1h-17z"/>
<path fill="#603c3c" d="M3270 0h10v1h-10zM684 1h7v1h-7zM540 2h17v1h-17zM2129 2h14v1h-14zM2660 2h9v1h-9zM503 4h11v1h-11zM2755 4h10v1h-10zM2586 7h11v1h-11zM3753 7h10v1h-10zM2033 8h10v1h-10zM2117 10h12v1h-12zM1690 11h17v1h-17zM2098 11h12v1h-12zM3465 12h11v1h-11zM2246 14h17v1h-17zM717 15h11v1h-11zM670 16h14v1h-14zM1392 17h12v1h-12zM1539 17h11v1h-11zM2646 17h14v1h-14zM2882 17h7v1h-7zM800 19h9v1h-9zM853 19h11v1h-11zM3790 20h10v1h-10zM1550 22h12v1h-12zM740 23h12v1h-12zM1139 24h12v1h-12zM1790 24h11v1h-11z"/>
<path fill="#605424" d="M3291 0h7v1h-7zM540 1h17v1h-17zM728 1h12v1h-12zM770 1h9v1h-9zM2246 1h17v1h-17zM1852 5h10v1h-10zM2159 5h7v1h-7zM523 7h10v1h-10zM2383 7h5v1h-5zM3392 7h7v1h-7zM3592 8h7v1h-7zM1707 9h14v1h-14zM1820 10h7v1h-7zM3018 10h17v1h-17zM2043 11h9v1h-9zM1827 14h14v1h-14zM2702 15h9v1h-9zM2485 17h12v1h-12zM3648 19h17v1h-17zM3701 20h7v1h-7zM2013 23h11v1h-11zM2621 23h14v1h-14zM3763 23h11v1h-11zM2089 24h9v1h-9zM2166 24h14v1h-14z"/>
<path fill="#786030" d="M3333 0h14v1h-14zM3495 2h10v1h-10zM2865 5h17v1h-17zM1783 11h7v1h-7zM2246 11h17v1h-17zM1721 12h10v1h-10zM2079 12h10v1h-10zM2916 12h11v1h-11zM2961 12h12v1h-12zM3051 15h10v1h-10zM3280 17h11v1h-11zM3004 18h14v1h-14zM2361 20h11v1h-11zM3648 20h17v1h-17zM3540 21h14v1h-14zM3505 22h9v1h-9z"/>
<path fill="#3c3024" d="M3347 0h14v1h-14zM2006 1h7v1h-7zM2607 2h7v1h-7zM1707 5h14v1h-14zM2916 8h11v1h-11zM3717 8h17v1h-17zM1852 14h10v1h-10zM3683 17h9v1h-9zM1624 20h7v1h-7zM1964 20h14v1h-14zM3153 20h10v1h-10zM986 21h14v1h-14zM3454 21h11v1h-11z"/>
<path fill="#301818" d="M3683 0h9v1h-9zM3717 0h17v1h-17zM2560 4h12v1h-12zM2702 6h9v1h-9zM3291 7h7v1h-7zM3485 7h10v1h-10zM3096 8h10v1h-10zM1350 9h9v1h-9zM3465 9h11v1h-11zM462 10h10v1h-10zM646 10h10v1h-10zM646 12h10v1h-10zM853 12h11v1h-11zM1012 13h9v1h-9zM3763 13h11v1h-11zM1290 16h17v1h-17zM1508 16h12v1h-12zM3564 17h17v1h-17zM523 20h10v1h-10zM2621 21h14v1h-14zM2934 21h10v1h-10zM472 22h9v1h-9zM946 23h14v1h-14zM1879 23h12v1h-12zM625 24h12v1h-12z"/>
<path fill="#841884" d="M3692 0h9v1h-9zM2159 1h7v1h-7zM2447 1h9v1h-9zM2607 1h7v1h-7zM3744 1h9v1h-9zM1902 2h12v1h-12zM1640 4h17v1h-17zM2043 5h9v1h-9zM3665 5h7v1h-7zM3692 5h16v1h-16zM3744 5h9v1h-9zM1359 6h10v1h-10zM3665 6h7v1h-7zM2646 7h14v1h-14zM3428 7h9v1h-9zM3672 7h11v1h-11zM2787 15h9v1h-9zM2889 15h10v1h-10zM2079 17h10v1h-10zM2669 17h14v1h-14zM3051 17h10v1h-10zM740 19h12v1h-12zM1631 19h9v1h-9zM2143 19h7v1h-7zM921 20h11v1h-11zM1891 20h11v1h-11zM2361 21h11v1h-11zM1498 22h10v1h-10zM1624 22h7v1h-7zM2614 22h7v1h-7zM2110 23h7v1h-7zM2361 23h11v1h-11zM1336 24h14v1h-14zM1683 24h7v1h-7z"/>
<path fill="#6c3c48" d="M3708 0h9v1h-9zM2635 1h11v1h-11zM2882 1h7v1h-7zM3564 1h17v1h-17zM1456 2h17v1h-17zM3378 2h7v1h-7zM2180 4h11v1h-11zM1820 7h7v1h-7zM1827 10h14v1h-14zM2961 11h12v1h-12zM3061 12h14v1h-14zM1392 15h12v1h-12zM3004 15h14v1h-14zM1508 17h12v1h-12zM2927 17h7v1h-7zM625 19h12v1h-12zM3317 20h9v1h-9zM1439 22h17v1h-17zM1813 24h7v1h-7zM2043 24h9v1h-9z"/>
<path fill="#542430" d="M3734 0h10v1h-10z"/>
<path fill="#606c0c" d="M656 1h14v1h-14zM1084 2h12v1h-12zM1550 4h12v1h-12zM3564 4h17v1h-17zM2191 5h9v1h-9zM2372 5h11v1h-11zM1640 6h17v1h-17zM1827 6h14v1h-14zM2511 9h17v1h-17zM2006 11h7v1h-7zM2420 11h7v1h-7zM2614 12h7v1h-7zM1950 13h14v1h-14zM2725 14h9v1h-9zM2973 14h12v1h-12zM874 15h7v1h-7zM1272 15h9v1h-9zM779 17h14v1h-14zM717 20h11v1h-11zM445 21h17v1h-17zM3692 21h9v1h-9zM921 23h11v1h-11zM3153 23h10v1h-10zM3252 24h11v1h-11z"/>
<path fill="#9c9c18" d="M960 1h17v1h-17zM1228 1h9v1h-9zM1307 1h17v1h-17zM1413 1h7v1h-7zM1539 1h11v1h-11zM3476 2h9v1h-9zM578 4h12v1h-12zM3744 4h9v1h-9zM1997 5h9v1h-9zM2166 5h14v1h-14zM3089 5h7v1h-7zM1820 6h7v1h-7zM2361 6h11v1h-11zM1740 7h14v1h-14zM1964 7h14v1h-14zM2229 7h17v1h-17zM2309 7h11v1h-11zM2344 7h17v1h-17zM1841 8h11v1h-11zM2372 8h11v1h-11zM2006 9h7v1h-7zM1801 10h12v1h-12zM2070 10h9v1h-9zM2755 10h10v1h-10zM2997 10h7v1h-7zM2280 11h12v1h-12zM2702 11h9v1h-9zM2851 11h14v1h-14zM2927 11h7v1h-7zM1841 12h11v1h-11zM2043 12h9v1h-9zM2089 12h9v1h-9zM2865 12h17v1h-17zM3018 12h24v1h-24zM1754 13h12v1h-12zM1964 13h14v1h-14zM2796 13h12v1h-12zM2865 13h17v1h-17zM2927 13h7v1h-7zM3042 13h9v1h-9zM2110 14h7v1h-7zM2270 14h10v1h-10zM2734 14h12v1h-12zM481 15h10v1h-10zM1151 15h12v1h-12zM3347 15h14v1h-14zM3476 15h9v1h-9zM1031 16h7v1h-7zM3139 16h24v1h-24zM3347 17h14v1h-14zM3195 18h12v1h-12zM3291 18h7v1h-7zM3734 18h10v1h-10zM418 19h17v1h-17zM491 19h12v1h-12zM684 19h7v1h-7zM3454 19h11v1h-11zM613 20h12v1h-12zM864 20h10v1h-10zM1539 20h11v1h-11zM3465 20h11v1h-11zM3631 20h17v1h-17zM3744 20h9v1h-9zM3783 20h7v1h-7zM1204 21h17v1h-17zM3753 21h10v1h-10zM3207 22h10v1h-10zM3437 22h17v1h-17zM514 23h9v1h-9zM3174 23h10v1h-10zM472 24h9v1h-9zM514 24h9v1h-9zM1221 24h7v1h-7z"/>
<path fill="#3c183c" d="M1000 1h12v1h-12zM3089 1h7v1h-7zM2447 7h9v1h-9zM1624 19h7v1h-7zM1585 20h7v1h-7zM3280 21h11v1h-11z"/>
<path fill="#3c1830" d="M1038 1h14v1h-14zM3753 1h10v1h-10zM836 2h10v1h-10zM1690 2h17v1h-17zM3298 2h9v1h-9zM1520 4h10v1h-10zM435 7h10v1h-10zM1012 7h9v1h-9zM2320 7h7v1h-7zM2690 7h12v1h-12zM1862 9h17v1h-17zM2117 9h12v1h-12zM3291 9h7v1h-7zM1790 10h11v1h-11zM2372 10h11v1h-11zM3592 11h7v1h-7zM1381 12h11v1h-11zM2191 12h9v1h-9zM3174 12h10v1h-10zM3347 12h14v1h-14zM533 15h7v1h-7zM1052 15h11v1h-11zM1790 15h11v1h-11zM1827 15h14v1h-14zM656 16h14v1h-14zM853 16h11v1h-11zM1000 16h12v1h-12zM793 17h7v1h-7zM1902 17h12v1h-12zM1923 18h10v1h-10zM462 19h10v1h-10zM1640 19h17v1h-17zM1721 19h10v1h-10zM481 20h10v1h-10zM1827 20h14v1h-14zM2079 20h10v1h-10zM2660 20h9v1h-9zM1801 21h12v1h-12zM3621 22h10v1h-10zM1530 23h9v1h-9zM1852 23h10v1h-10zM637 24h9v1h-9zM960 24h17v1h-17z"/>
<path fill="#603030" d="M1194 1h10v1h-10z"/>
<path fill="#b4b418" d="M1237 1h7v1h-7zM3263 4h7v1h-7zM3592 4h7v1h-7zM1721 5h10v1h-10zM1766 5h17v1h-17zM3252 6h11v1h-11zM2061 7h9v1h-9zM2110 7h7v1h-7zM2361 10h11v1h-11zM1852 11h10v1h-10zM2865 11h17v1h-17zM2808 12h12v1h-12zM2808 14h12v1h-12zM3128 15h11v1h-11zM3495 15h10v1h-10zM3298 16h9v1h-9zM3207 18h10v1h-10zM3317 18h9v1h-9zM514 19h9v1h-9zM836 19h10v1h-10zM3333 19h14v1h-14zM3599 24h12v1h-12zM3763 24h11v1h-11z"/>
<path fill="#6c7818" d="M1261 1h11v1h-11zM1420 1h9v1h-9zM1480 5h9v1h-9zM1707 6h14v1h-14zM2191 11h9v1h-9zM2796 11h12v1h-12zM1914 13h9v1h-9zM2787 14h9v1h-9zM1933 18h17v1h-17zM3399 18h12v1h-12zM3263 20h7v1h-7zM363 21h14v1h-14zM418 23h17v1h-17zM3128 23h11v1h-11z"/>
<path fill="#784854" d="M1290 1h17v1h-17zM2528 4h12v1h-12z"/>
<path fill="#e4f024" d="M1429 1h10v1h-10z"/>
<path fill="#905448" d="M1456 1h17v1h-17zM3326 19h7v1h-7z"/>
<path fill="#c0c024" d="M1480 1h9v1h-9zM1731 6h9v1h-9zM1933 6h17v1h-17zM2033 6h10v1h-10zM2129 6h14v1h-14zM2217 6h12v1h-12zM1790 7h11v1h-11zM1827 7h14v1h-14zM1862 7h17v1h-17zM1914 7h9v1h-9zM2217 7h12v1h-12zM2690 11h12v1h-12zM1862 13h17v1h-17zM1985 13h12v1h-12zM2117 13h12v1h-12zM2200 13h17v1h-17zM2702 13h9v1h-9zM3051 13h10v1h-10zM921 15h11v1h-11zM3174 15h10v1h-10zM3317 15h16v1h-16zM3465 15h11v1h-11zM3207 16h10v1h-10zM3263 16h7v1h-7zM3291 16h7v1h-7zM3514 16h11v1h-11zM3326 18h7v1h-7zM3465 18h11v1h-11zM3291 19h7v1h-7zM377 20h7v1h-7zM3298 20h9v1h-9zM3581 21h11v1h-11zM3163 22h11v1h-11zM3307 22h10v1h-10zM3701 24h7v1h-7z"/>
<path fill="#9c7848" d="M1578 1h7v1h-7zM2834 5h17v1h-17zM377 19h7v1h-7zM3672 20h11v1h-11zM377 23h7v1h-7z"/>
<path fill="#60303c" d="M1585 1h7v1h-7zM2420 1h7v1h-7zM1177 2h17v1h-17zM3648 2h17v1h-17zM1413 4h7v1h-7zM2180 5h11v1h-11zM1902 6h12v1h-12zM740 7h12v1h-12zM2292 7h17v1h-17zM3437 7h17v1h-17zM800 17h9v1h-9zM2191 17h9v1h-9zM3298 18h9v1h-9zM2200 19h17v1h-17zM1221 20h7v1h-7zM1070 21h14v1h-14zM3347 21h14v1h-14zM2383 24h5v1h-5z"/>
<path fill="#605418" d="M1592 1h7v1h-7zM2437 2h10v1h-10zM1177 4h17v1h-17zM3581 4h11v1h-11zM2089 6h9v1h-9zM2327 7h17v1h-17zM1721 9h10v1h-10zM2916 10h11v1h-11zM3153 10h10v1h-10zM1891 11h11v1h-11zM2808 13h12v1h-12zM568 17h10v1h-10zM472 19h9v1h-9zM1272 20h9v1h-9zM3476 20h9v1h-9zM3514 24h11v1h-11z"/>
<path fill="#6c6018" d="M1624 1h7v1h-7zM1221 4h7v1h-7zM3465 4h11v1h-11zM2383 5h5v1h-5zM2755 11h10v1h-10zM2755 12h10v1h-10zM604 24h9v1h-9z"/>
<path fill="#a8a818" d="M1690 1h17v1h-17zM1096 4h9v1h-9zM3774 4h9v1h-9zM1841 5h11v1h-11zM1666 6h17v1h-17zM1841 6h11v1h-11zM1862 6h17v1h-17zM2061 6h9v1h-9zM1624 7h7v1h-7zM2159 7h7v1h-7zM2006 8h7v1h-7zM2746 12h9v1h-9zM2765 12h22v1h-22zM2944 12h17v1h-17zM3106 12h8v1h-8zM2150 13h9v1h-9zM2270 13h10v1h-10zM2372 13h16v1h-16zM2934 13h27v1h-27zM2934 14h10v1h-10zM637 15h9v1h-9zM3184 15h11v1h-11zM3298 15h9v1h-9zM3378 15h14v1h-14zM3399 15h12v1h-12zM3437 15h28v1h-28zM613 16h12v1h-12zM728 16h12v1h-12zM3128 16h11v1h-11zM3227 16h14v1h-14zM3252 16h11v1h-11zM3392 16h7v1h-7zM3454 16h11v1h-11zM3485 16h10v1h-10zM3153 17h10v1h-10zM3270 17h10v1h-10zM3298 17h9v1h-9zM3437 17h17v1h-17zM3227 18h14v1h-14zM3280 18h11v1h-11zM3437 18h17v1h-17zM3514 18h11v1h-11zM761 19h9v1h-9zM779 19h21v1h-21zM864 19h10v1h-10zM3163 19h11v1h-11zM3270 19h10v1h-10zM3307 19h10v1h-10zM3361 19h17v1h-17zM3465 19h11v1h-11zM1237 20h7v1h-7zM3241 20h11v1h-11zM3361 20h17v1h-17zM3485 20h10v1h-10zM1038 21h14v1h-14zM3621 21h10v1h-10zM3476 22h9v1h-9zM523 23h10v1h-10zM3317 23h9v1h-9zM3361 23h17v1h-17z"/>
<path fill="#844854" d="M1902 1h12v1h-12zM3252 5h11v1h-11zM1392 13h12v1h-12zM646 23h10v1h-10z"/>
<path fill="#846c30" d="M1933 1h17v1h-17zM2013 6h11v1h-11zM2944 10h17v1h-17zM2725 11h9v1h-9zM1985 14h12v1h-12zM462 15h10v1h-10zM932 15h7v1h-7zM2997 18h7v1h-7zM752 19h9v1h-9zM3307 20h10v1h-10zM1508 23h12v1h-12z"/>
<path fill="#54243c" d="M2033 1h10v1h-10zM3174 1h10v1h-10zM2280 4h12v1h-12zM2944 4h17v1h-17zM3174 5h10v1h-10zM1498 6h10v1h-10zM1820 9h7v1h-7zM1096 12h9v1h-9zM1827 13h14v1h-14zM1657 15h9v1h-9zM2361 15h11v1h-11zM523 16h10v1h-10zM3708 17h9v1h-9zM2024 18h9v1h-9zM2889 18h10v1h-10zM3485 18h10v1h-10zM939 19h7v1h-7zM3692 19h9v1h-9zM1000 21h12v1h-12zM1721 23h10v1h-10zM2263 23h7v1h-7zM1657 24h9v1h-9zM1801 24h12v1h-12z"/>
<path fill="#845454" d="M2110 1h7v1h-7zM1336 2h14v1h-14zM1489 2h9v1h-9zM2755 13h10v1h-10zM740 21h12v1h-12zM2117 23h12v1h-12z"/>
<path fill="#545418" d="M2200 1h17v1h-17zM2246 2h17v1h-17zM2646 2h14v1h-14zM2882 5h7v1h-7zM1950 10h14v1h-14zM3096 11h10v1h-10zM1272 13h9v1h-9zM2621 18h14v1h-14zM3701 22h7v1h-7zM2217 23h12v1h-12z"/>
<path fill="#481848" d="M2263 1h7v1h-7zM684 4h7v1h-7zM1498 7h10v1h-10z"/>
<path fill="#6c246c" d="M2280 1h12v1h-12z"/>
<path fill="#54303c" d="M2485 1h12v1h-12zM1151 2h12v1h-12zM1852 4h10v1h-10zM1997 4h9v1h-9zM2200 4h17v1h-17zM2973 4h12v1h-12zM2755 7h10v1h-10zM1613 14h11v1h-11zM2614 15h7v1h-7zM2660 15h9v1h-9zM540 16h17v1h-17zM462 17h10v1h-10zM1204 20h17v1h-17zM3128 21h11v1h-11zM533 24h7v1h-7z"/>
<path fill="#904860" d="M2796 1h12v1h-12zM2851 1h14v1h-14z"/>
<path fill="#a8b418" d="M2834 1h17v1h-17zM1578 2h7v1h-7zM1539 5h11v1h-11zM1657 5h9v1h-9zM1801 6h12v1h-12zM2052 6h9v1h-9zM1933 7h17v1h-17zM2777 11h10v1h-10zM3207 15h10v1h-10zM472 16h9v1h-9zM3378 16h7v1h-7zM3411 18h17v1h-17zM445 19h17v1h-17zM590 19h14v1h-14zM3495 20h10v1h-10z"/>
<path fill="#3c300c" d="M2899 1h17v1h-17zM1480 2h9v1h-9zM2089 2h9v1h-9zM3153 2h10v1h-10zM3361 6h17v1h-17zM2200 8h17v1h-17zM670 11h14v1h-14zM435 13h10v1h-10zM836 13h10v1h-10zM1204 17h17v1h-17zM1290 20h17v1h-17zM578 24h12v1h-12z"/>
<path fill="#48243c" d="M2916 1h11v1h-11zM514 4h9v1h-9zM2372 7h11v1h-11zM932 16h7v1h-7zM3392 23h7v1h-7zM3476 23h9v1h-9zM1978 24h7v1h-7z"/>
<path fill="#543c30" d="M3035 1h7v1h-7zM1690 5h17v1h-17zM1539 6h11v1h-11zM907 7h14v1h-14zM1613 10h11v1h-11zM1964 10h14v1h-14zM2344 10h17v1h-17zM1801 11h12v1h-12zM2361 11h11v1h-11zM1631 15h9v1h-9zM2669 15h14v1h-14zM2690 19h12v1h-12zM2725 19h9v1h-9zM3621 20h10v1h-10zM717 21h11v1h-11zM1790 22h11v1h-11zM3592 22h7v1h-7zM1130 23h9v1h-9zM2614 23h7v1h-7zM1000 24h12v1h-12zM1130 24h9v1h-9zM2467 24h9v1h-9z"/>
<path fill="#18000c" d="M3096 1h10v1h-10zM1631 9h9v1h-9zM2808 18h12v1h-12zM2961 18h12v1h-12z"/>
<path fill="#540c60" d="M3454 1h11v1h-11zM1740 2h14v1h-14zM1985 4h12v1h-12zM3270 11h10v1h-10zM3774 12h9v1h-9zM445 15h17v1h-17zM1272 17h9v1h-9zM2024 20h9v1h-9zM2985 20h12v1h-12zM1599 21h14v1h-14z"/>
<path fill="#6c1878" d="M3734 1h10v1h-10zM2320 2h7v1h-7zM3061 2h14v1h-14zM540 15h17v1h-17zM2110 17h7v1h-7zM2690 17h12v1h-12zM1307 20h17v1h-17z"/>
<path fill="#846c3c" d="M503 2h11v1h-11zM1852 6h10v1h-10zM2150 7h9v1h-9zM3153 18h10v1h-10zM481 19h10v1h-10zM2061 22h9v1h-9z"/>
<path fill="#901890" d="M637 2h9v1h-9zM881 2h12v1h-12zM2013 5h11v1h-11zM2061 5h9v1h-9zM3291 5h42v1h-42zM3347 5h31v1h-31zM3392 5h7v1h-7zM3428 5h26v1h-26zM3485 5h20v1h-20zM3514 5h11v1h-11zM3611 5h10v1h-10zM3672 5h20v1h-20zM3717 5h27v1h-27zM3774 5h9v1h-9zM3554 7h10v1h-10zM3564 16h17v1h-17zM1731 18h9v1h-9zM1841 23h11v1h-11zM1997 23h9v1h-9zM1613 24h11v1h-11z"/>
<path fill="#9c5460" d="M779 2h14v1h-14zM2006 2h7v1h-7zM2777 6h10v1h-10zM684 7h7v1h-7z"/>
<path fill="#0c0000" d="M946 2h14v1h-14zM363 3h14v1h-14zM800 3h9v1h-9zM1084 3h12v1h-12zM1914 3h9v1h-9zM2052 3h9v1h-9zM2270 3h10v1h-10zM2344 3h17v1h-17zM2711 3h14v1h-14zM2755 3h10v1h-10zM2808 3h26v1h-26zM2916 3h11v1h-11zM3106 3h8v1h-8zM3581 3h11v1h-11zM503 5h11v1h-11zM1624 6h7v1h-7zM2787 6h9v1h-9zM462 8h10v1h-10zM491 8h12v1h-12zM523 8h10v1h-10zM418 9h17v1h-17zM946 9h14v1h-14zM1585 9h7v1h-7zM523 14h10v1h-10zM874 17h7v1h-7zM853 18h11v1h-11zM907 18h14v1h-14zM1096 18h9v1h-9z"/>
<path fill="#180024" d="M1841 2h11v1h-11zM1204 5h17v1h-17zM939 7h7v1h-7zM1666 24h17v1h-17zM3411 24h17v1h-17z"/>
<path fill="#3c2430" d="M2280 2h12v1h-12zM1585 4h7v1h-7zM3378 12h7v1h-7zM2808 17h12v1h-12zM3270 18h10v1h-10zM1244 20h17v1h-17zM3428 21h9v1h-9zM1119 24h11v1h-11zM1731 24h9v1h-9z"/>
<path fill="#846c24" d="M2402 2h9v1h-9zM3692 23h9v1h-9z"/>
<path fill="#84543c" d="M2572 2h14v1h-14zM2820 10h14v1h-14zM1640 13h17v1h-17z"/>
<path fill="#482424" d="M2690 2h12v1h-12zM3672 4h11v1h-11zM3128 7h11v1h-11zM2944 9h17v1h-17zM853 15h11v1h-11zM1891 17h11v1h-11zM352 24h11v1h-11z"/>
<path fill="#606018" d="M2725 2h9v1h-9zM853 4h11v1h-11zM853 13h11v1h-11zM2777 13h10v1h-10zM2834 14h17v1h-17zM1244 15h17v1h-17zM3454 17h11v1h-11zM1151 19h12v1h-12zM1997 19h9v1h-9zM578 21h12v1h-12zM3611 21h10v1h-10z"/>
<path fill="#3c480c" d="M2865 2h17v1h-17zM3241 4h11v1h-11zM2669 5h14v1h-14zM2746 5h9v1h-9zM2079 8h10v1h-10zM2820 11h14v1h-14zM2635 12h11v1h-11zM2646 13h14v1h-14zM435 19h10v1h-10zM703 19h14v1h-14zM481 21h10v1h-10zM1827 21h14v1h-14zM568 23h10v1h-10zM881 24h12v1h-12z"/>
<path fill="#9c6054" d="M3042 2h9v1h-9zM1429 5h10v1h-10z"/>
<path fill="#6c6024" d="M3163 2h11v1h-11zM2079 6h10v1h-10zM2150 6h9v1h-9zM3505 7h9v1h-9zM1902 8h12v1h-12zM2229 9h17v1h-17zM1978 12h7v1h-7zM1381 15h11v1h-11zM1813 15h7v1h-7zM3075 15h14v1h-14zM2485 16h12v1h-12zM946 17h14v1h-14zM3217 17h10v1h-10zM3465 17h11v1h-11zM3252 18h11v1h-11zM1933 19h17v1h-17zM2129 19h14v1h-14zM3701 19h7v1h-7zM1420 21h9v1h-9zM2372 22h11v1h-11zM3621 23h10v1h-10zM793 24h7v1h-7z"/>
<path fill="#844848" d="M3392 2h7v1h-7zM2098 6h12v1h-12zM1420 15h9v1h-9z"/>
<path fill="#480c54" d="M3564 2h17v1h-17zM3774 2h9v1h-9zM2052 4h9v1h-9zM2089 4h9v1h-9zM3291 4h7v1h-7zM2865 7h17v1h-17zM3153 8h10v1h-10zM1244 11h17v1h-17zM1530 12h9v1h-9zM1550 12h12v1h-12zM3774 13h9v1h-9zM1439 14h17v1h-17zM2246 17h17v1h-17zM1790 19h11v1h-11zM2635 19h11v1h-11zM1336 20h14v1h-14zM2098 20h12v1h-12zM2180 21h11v1h-11zM3018 22h17v1h-17zM1084 23h12v1h-12zM1392 23h12v1h-12z"/>
<path fill="#000c00" d="M2383 3h5v1h-5zM1228 16h9v1h-9z"/>
<path fill="#543c24" d="M445 4h17v1h-17zM977 6h9v1h-9zM1766 6h17v1h-17zM2621 6h14v1h-14zM1578 7h7v1h-7zM1754 7h12v1h-12zM2143 7h7v1h-7zM1237 8h7v1h-7zM1473 9h7v1h-7zM2372 9h11v1h-11zM1820 12h7v1h-7zM1879 13h12v1h-12zM2889 13h10v1h-10zM3096 13h10v1h-10zM1272 14h9v1h-9zM3454 14h11v1h-11zM363 15h14v1h-14zM514 15h9v1h-9zM2427 15h10v1h-10zM717 16h11v1h-11zM3163 17h11v1h-11zM3744 17h9v1h-9zM717 19h11v1h-11zM1070 19h14v1h-14zM1177 19h27v1h-27zM2683 19h7v1h-7zM2808 19h12v1h-12zM3476 19h9v1h-9zM568 20h10v1h-10zM2777 20h10v1h-10zM3207 20h10v1h-10zM2043 21h9v1h-9zM2497 21h14v1h-14zM2725 21h9v1h-9zM2834 21h17v1h-17zM3106 21h8v1h-8zM3631 21h17v1h-17zM418 22h17v1h-17zM793 22h7v1h-7zM2456 22h11v1h-11zM2511 22h17v1h-17zM3051 22h10v1h-10zM1038 23h14v1h-14zM1578 23h7v1h-7zM3611 23h10v1h-10zM2702 24h9v1h-9zM3153 24h10v1h-10z"/>
<path fill="#541854" d="M670 4h14v1h-14zM1429 24h10v1h-10z"/>
<path fill="#6c3c3c" d="M761 4h9v1h-9zM960 7h17v1h-17zM2607 7h7v1h-7zM3004 7h14v1h-14zM881 17h12v1h-12zM1740 18h14v1h-14zM1731 19h9v1h-9zM1902 22h12v1h-12zM2098 24h12v1h-12z"/>
<path fill="#3c0c30" d="M1105 4h14v1h-14zM1336 7h14v1h-14zM1359 7h10v1h-10zM1456 12h17v1h-17zM2702 14h9v1h-9zM1841 15h11v1h-11zM2746 15h9v1h-9zM2528 16h12v1h-12zM779 21h14v1h-14zM3692 22h9v1h-9zM557 24h11v1h-11z"/>
<path fill="#9ca818" d="M1204 4h17v1h-17zM1731 5h9v1h-9zM1997 6h9v1h-9zM1783 7h7v1h-7zM2043 7h9v1h-9zM2985 10h12v1h-12zM2808 11h12v1h-12zM1640 12h17v1h-17zM1997 12h9v1h-9zM2024 12h9v1h-9zM3195 15h12v1h-12zM986 16h14v1h-14zM3241 16h11v1h-11zM613 19h12v1h-12zM3554 20h10v1h-10zM3581 20h11v1h-11zM1290 23h17v1h-17z"/>
<path fill="#a87848" d="M1404 4h9v1h-9zM2024 11h9v1h-9zM1640 14h17v1h-17zM3270 23h10v1h-10z"/>
<path fill="#180c00" d="M1489 4h9v1h-9z"/>
<path fill="#240c30" d="M1690 4h17v1h-17zM363 6h14v1h-14zM1508 6h12v1h-12zM1237 9h7v1h-7zM836 10h10v1h-10zM3744 10h9v1h-9zM3317 11h9v1h-9zM352 12h11v1h-11zM1237 13h7v1h-7zM1063 14h7v1h-7zM3495 14h10v1h-10zM2013 16h11v1h-11zM2070 16h9v1h-9zM3089 16h7v1h-7zM3648 16h17v1h-17zM2765 20h12v1h-12z"/>
<path fill="#783c60" d="M2427 4h10v1h-10zM2129 15h14v1h-14zM1281 23h9v1h-9z"/>
<path fill="#6c2460" d="M2447 4h9v1h-9z"/>
<path fill="#786c24" d="M2614 4h7v1h-7z"/>
<path fill="#242418" d="M2635 4h11v1h-11z"/>
<path fill="#48183c" d="M3004 4h14v1h-14zM2927 6h7v1h-7zM3280 7h11v1h-11zM1657 10h9v1h-9zM1119 12h11v1h-11zM740 15h12v1h-12zM352 17h11v1h-11zM1578 17h7v1h-7zM1707 17h14v1h-14zM2217 17h12v1h-12zM3128 20h11v1h-11zM3708 20h9v1h-9zM2033 22h10v1h-10zM2052 23h9v1h-9zM1350 24h9v1h-9zM2033 24h10v1h-10z"/>
<path fill="#483c0c" d="M3326 4h7v1h-7zM1613 7h11v1h-11zM809 16h17v1h-17zM1520 20h10v1h-10zM846 21h7v1h-7z"/>
<path fill="#786024" d="M1508 5h12v1h-12zM3227 7h14v1h-14zM1783 13h7v1h-7zM2702 22h9v1h-9zM2690 23h12v1h-12z"/>
<path fill="#b47860" d="M1530 5h9v1h-9z"/>
<path fill="#b4c024" d="M1820 5h7v1h-7zM2270 5h10v1h-10zM3454 6h11v1h-11zM2180 7h11v1h-11zM2851 10h14v1h-14zM3089 11h7v1h-7zM2143 13h7v1h-7zM2013 14h11v1h-11zM3035 14h7v1h-7zM921 16h11v1h-11zM3280 16h11v1h-11zM3437 16h17v1h-17zM3184 17h11v1h-11zM986 19h14v1h-14zM3195 19h12v1h-12zM3217 19h10v1h-10z"/>
<path fill="#847830" d="M1923 5h10v1h-10zM2476 19h9v1h-9z"/>
<path fill="#841890" d="M2024 5h9v1h-9zM2511 7h17v1h-17zM2447 15h9v1h-9z"/>
<path fill="#9c189c" d="M2033 5h10v1h-10zM2052 5h9v1h-9zM2070 5h9v1h-9zM2089 5h9v1h-9zM3280 5h11v1h-11zM3333 5h14v1h-14zM3378 5h7v1h-7zM3454 5h11v1h-11zM3505 5h9v1h-9zM3621 5h44v1h-44zM3708 5h9v1h-9zM3753 5h21v1h-21zM2467 15h9v1h-9zM3554 16h10v1h-10z"/>
<path fill="#90189c" d="M2079 5h10v1h-10zM3540 16h14v1h-14z"/>
<path fill="#e4e424" d="M2129 5h14v1h-14zM3505 15h9v1h-9zM3505 16h9v1h-9zM3174 22h10v1h-10z"/>
<path fill="#c0cc24" d="M2217 5h12v1h-12zM2280 5h12v1h-12zM2246 6h17v1h-17zM1707 13h14v1h-14zM1978 13h7v1h-7zM2755 14h10v1h-10zM3263 15h7v1h-7zM3392 15h7v1h-7zM3270 16h10v1h-10zM3263 18h7v1h-7zM3139 19h14v1h-14zM3174 19h10v1h-10zM3665 20h7v1h-7z"/>
<path fill="#d8d824" d="M2292 5h17v1h-17zM1657 6h9v1h-9zM1740 6h14v1h-14zM1813 6h7v1h-7zM2033 7h10v1h-10zM2070 7h9v1h-9zM3291 15h7v1h-7zM3174 16h10v1h-10zM3217 16h10v1h-10zM3347 16h14v1h-14zM3252 17h11v1h-11zM604 19h9v1h-9zM670 19h14v1h-14zM3599 21h12v1h-12z"/>
<path fill="#9c6c54" d="M2927 5h7v1h-7zM1631 20h9v1h-9zM2270 23h10v1h-10z"/>
<path fill="#6c4848" d="M3207 5h10v1h-10z"/>
<path fill="#a824b4" d="M3385 5h7v1h-7z"/>
<path fill="#9c24a8" d="M3399 5h12v1h-12zM3783 5h7v1h-7z"/>
<path fill="#907824" d="M1891 6h11v1h-11z"/>
<path fill="#ccd824" d="M1950 6h14v1h-14zM2796 14h12v1h-12zM3241 15h11v1h-11zM3428 15h9v1h-9zM3333 16h14v1h-14zM3385 16h7v1h-7z"/>
<path fill="#844860" d="M1978 6h7v1h-7zM2796 15h12v1h-12z"/>
<path fill="#78603c" d="M2851 6h14v1h-14z"/>
<path fill="#906048" d="M3270 6h10v1h-10zM2899 11h17v1h-17zM3035 11h7v1h-7zM472 17h9v1h-9zM2882 20h7v1h-7zM3042 20h9v1h-9z"/>
<path fill="#481830" d="M3411 6h17v1h-17zM1933 15h17v1h-17zM363 17h14v1h-14zM946 19h14v1h-14z"/>
<path fill="#78483c" d="M3734 6h10v1h-10zM2200 9h17v1h-17zM2129 23h14v1h-14zM3581 23h11v1h-11zM491 24h12v1h-12z"/>
<path fill="#c08460" d="M2427 7h10v1h-10z"/>
<path fill="#785448" d="M2540 7h9v1h-9zM907 21h14v1h-14zM2985 22h12v1h-12zM670 23h14v1h-14z"/>
<path fill="#542448" d="M2597 7h10v1h-10zM2098 10h12v1h-12zM3378 10h7v1h-7zM2061 18h9v1h-9z"/>
<path fill="#906c48" d="M3163 7h11v1h-11zM893 17h14v1h-14z"/>
<path fill="#781884" d="M3599 7h12v1h-12zM3783 7h7v1h-7zM1336 14h14v1h-14zM1820 15h7v1h-7zM3018 18h17v1h-17zM1640 22h17v1h-17z"/>
<path fill="#6c6030" d="M1790 8h11v1h-11z"/>
<path fill="#300c3c" d="M2734 8h12v1h-12zM1530 9h9v1h-9zM1473 10h7v1h-7zM1130 11h9v1h-9zM1404 14h9v1h-9zM3790 14h10v1h-10zM2961 15h12v1h-12zM2690 16h12v1h-12zM2796 19h12v1h-12zM491 21h12v1h-12zM2934 23h10v1h-10zM2865 24h17v1h-17zM2997 24h7v1h-7z"/>
<path fill="#241824" d="M3252 9h11v1h-11z"/>
<path fill="#847824" d="M1707 10h14v1h-14zM1539 11h11v1h-11zM3106 11h8v1h-8z"/>
<path fill="#9c486c" d="M2711 10h14v1h-14zM2683 17h7v1h-7z"/>
<path fill="#b48448" d="M2734 10h12v1h-12z"/>
<path fill="#b47854" d="M3051 10h10v1h-10z"/>
<path fill="#c08454" d="M3106 10h8v1h-8z"/>
<path fill="#847818" d="M3207 10h10v1h-10zM1439 21h17v1h-17z"/>
<path fill="#0c1800" d="M836 11h10v1h-10zM3476 21h9v1h-9z"/>
<path fill="#303018" d="M932 11h7v1h-7zM946 20h14v1h-14zM568 24h10v1h-10z"/>
<path fill="#00000c" d="M946 11h14v1h-14z"/>
<path fill="#905460" d="M2309 12h11v1h-11z"/>
<path fill="#9c783c" d="M2820 12h14v1h-14zM2159 15h7v1h-7zM1038 17h14v1h-14zM684 21h7v1h-7z"/>
<path fill="#846048" d="M2110 13h7v1h-7zM3317 22h9v1h-9z"/>
<path fill="#90783c" d="M3096 14h10v1h-10zM2006 18h7v1h-7z"/>
<path fill="#90603c" d="M1336 15h14v1h-14z"/>
<path fill="#480c3c" d="M2309 15h11v1h-11z"/>
<path fill="#d8e424" d="M3227 15h14v1h-14zM846 23h7v1h-7z"/>
<path fill="#846030" d="M1130 17h9v1h-9z"/>
<path fill="#906054" d="M1237 17h7v1h-7zM3564 21h17v1h-17z"/>
<path fill="#6c2454" d="M1640 17h17v1h-17z"/>
<path fill="#54480c" d="M2006 17h7v1h-7z"/>
<path fill="#6c3c54" d="M2043 17h9v1h-9z"/>
<path fill="#b48454" d="M3195 17h12v1h-12zM3385 18h7v1h-7z"/>
<path fill="#602454" d="M1914 18h9v1h-9zM800 23h9v1h-9zM946 24h14v1h-14z"/>
<path fill="#301830" d="M435 20h10v1h-10z"/>
<path fill="#182400" d="M881 20h12v1h-12z"/>
<path fill="#a87854" d="M977 20h9v1h-9zM1404 23h9v1h-9zM1420 24h9v1h-9z"/>
<path fill="#a8843c" d="M1429 20h10v1h-10z"/>
<path fill="#f0f024" d="M3280 22h11v1h-11z"/>
<path fill="#786c18" d="M3411 22h17v1h-17z"/>
<path fill="#a86c60" d="M2070 23h9v1h-9z"/>
</g>
<text x="31.8" y="302.05" font-size="6" text-anchor="end" fill="#555">FN1</text>
<text x="31.8" y="311.95" font-size="6" text-anchor="end" fill="#555">KLF2</text>
<text x="31.8" y="321.85" font-size="6" text-anchor="end" fill="#555">IGFBP3</text>
<text x="31.8" y="331.75" font-size="6" text-anchor="end" fill="#555">HBA2</text>
<text x="31.8" y="341.65" font-size="6" text-anchor="end" fill="#555">SPARCL1</text>
<text x="31.8" y="351.55" font-size="6" text-anchor="end" fill="#555">SCGB1A1</text>
<text x="31.8" y="361.45" font-size="6" text-anchor="end" fill="#555">FCN3</text>
<text x="31.8" y="371.35" font-size="6" text-anchor="end" fill="#555">SPARC</text>
<text x="31.8" y="381.25" font-size="6" text-anchor="end" fill="#555">HPGD</text>
<text x="31.8" y="391.15" font-size="6" text-anchor="end" fill="#555">CA4</text>
<text x="31.8" y="401.05" font-size="6" text-anchor="end" fill="#555">IL6</text>
<text x="31.8" y="410.95" font-size="6" text-anchor="end" fill="#555">MED24</text>
<text x="31.8" y="420.85" font-size="6" text-anchor="end" fill="#555">CSF3</text>
<text x="31.8" y="430.75" font-size="6" text-anchor="end" fill="#555">CCL2</text>
<text x="31.8" y="440.65" font-size="6" text-anchor="end" fill="#555">CXCL8</text>
<text x="31.8" y="450.55" font-size="6" text-anchor="end" fill="#555">TNFSF10</text>
<text x="31.8" y="460.45" font-size="6" text-anchor="end" fill="#555">XIST</text>
<text x="31.8" y="470.35" font-size="6" text-anchor="end" fill="#555">EDN1</text>
<text x="31.8" y="480.25" font-size="6" text-anchor="end" fill="#555">CD36</text>
<text x="31.8" y="490.15" font-size="6" text-anchor="end" fill="#555">RGS5</text>
<text x="31.8" y="500.05" font-size="6" text-anchor="end" fill="#555">PDK4</text>
<text x="31.8" y="509.95" font-size="6" text-anchor="end" fill="#555">RND3</text>
<text x="31.8" y="519.85" font-size="6" text-anchor="end" fill="#555">PLK2</text>
<text x="31.8" y="529.75" font-size="6" text-anchor="end" fill="#555">SOX4</text>
<text x="31.8" y="539.65" font-size="6" text-anchor="end" fill="#555">CTGF</text>
<rect x="35.2" y="285.4" width="121" height="4.8" fill="#EC6F6C"/>
<text x="99.1" y="283" font-size="9.6" text-anchor="start" fill="#1a1a1a" transform="rotate(-45 99.1 283)">PA.1</text>
<rect x="157.8" y="285.4" width="81" height="4.8" fill="#A3A52A"/>
<text x="201.7" y="283" font-size="9.6" text-anchor="start" fill="#1a1a1a" transform="rotate(-45 201.7 283)">PA.2</text>
<rect x="240.2" y="285.4" width="71.2" height="4.8" fill="#4DD68A"/>
<text x="279.2" y="283" font-size="9.6" text-anchor="start" fill="#1a1a1a" transform="rotate(-45 279.2 283)">PA.3</text>
<rect x="312.8" y="285.4" width="39.7" height="4.8" fill="#56BCEF"/>
<text x="336.05" y="283" font-size="9.6" text-anchor="start" fill="#1a1a1a" transform="rotate(-45 336.05 283)">PA.4</text>
<rect x="354" y="285.4" width="26" height="4.8" fill="#E66AF2"/>
<text x="370.4" y="283" font-size="9.6" text-anchor="start" fill="#1a1a1a" transform="rotate(-45 370.4 283)">PA.5</text>
<text x="385.3" y="373.8" font-size="6.8" text-anchor="start" fill="#333">Expression</text>
<defs><linearGradient id="hx" x1="0" y1="0" x2="0" y2="1"><stop offset="0" stop-color="#EEF22A"/><stop offset="0.5" stop-color="#000"/><stop offset="1" stop-color="#F02DF2"/></linearGradient></defs>
<rect x="385.3" y="377.6" width="10.7" height="53.1" fill="url(#hx)"/>
<text x="399.4" y="385.7" font-size="6.2" text-anchor="start" fill="#333">2</text>
<line x1="385.3" y1="383.5" x2="387.2" y2="383.5" stroke="#fff" stroke-width="0.4"/>
<line x1="394.1" y1="383.5" x2="396" y2="383.5" stroke="#fff" stroke-width="0.4"/>
<text x="399.4" y="396.38" font-size="6.2" text-anchor="start" fill="#333">1</text>
<line x1="385.3" y1="394.18" x2="387.2" y2="394.18" stroke="#fff" stroke-width="0.4"/>
<line x1="394.1" y1="394.18" x2="396" y2="394.18" stroke="#fff" stroke-width="0.4"/>
<text x="399.4" y="407.06" font-size="6.2" text-anchor="start" fill="#333">0</text>
<line x1="385.3" y1="404.86" x2="387.2" y2="404.86" stroke="#fff" stroke-width="0.4"/>
<line x1="394.1" y1="404.86" x2="396" y2="404.86" stroke="#fff" stroke-width="0.4"/>
<text x="399.4" y="417.74" font-size="6.2" text-anchor="start" fill="#333">-1</text>
<line x1="385.3" y1="415.54" x2="387.2" y2="415.54" stroke="#fff" stroke-width="0.4"/>
<line x1="394.1" y1="415.54" x2="396" y2="415.54" stroke="#fff" stroke-width="0.4"/>
<text x="399.4" y="428.42" font-size="6.2" text-anchor="start" fill="#333">-2</text>
<line x1="385.3" y1="426.22" x2="387.2" y2="426.22" stroke="#fff" stroke-width="0.4"/>
<line x1="394.1" y1="426.22" x2="396" y2="426.22" stroke="#fff" stroke-width="0.4"/>
<text x="18.7" y="17" font-size="21.5" font-weight="bold" fill="#000">a</text>
<path stroke="#EC716C" stroke-width="2.3" stroke-linecap="round" fill="none" d="M43.4 135.7h0M85.2 119.7h0M105.8 80.8h0M113.9 71.7h0M74.7 188.2h0M44.0 69.7h0M96.7 49.5h0M49.9 62.5h0M87.1 183.3h0M42.8 133.1h0M131.4 93.8h0M78.6 70.5h0M54.4 68.6h0M43.0 163.8h0M131.0 92.1h0M48.2 89.1h0M126.8 116.2h0M50.0 73.2h0M130.0 100.8h0M44.0 138.0h0M104.5 89.7h0M71.0 138.8h0M126.8 55.4h0M137.4 85.2h0M44.2 166.9h0M132.1 64.1h0M81.9 71.5h0M130.0 63.7h0M135.7 96.4h0M127.2 114.7h0M61.3 187.1h0M131.0 96.3h0M110.8 71.3h0M63.8 197.0h0M105.2 53.8h0M74.2 70.8h0M109.3 95.1h0M127.1 55.2h0M54.5 106.2h0M77.3 81.0h0M130.3 89.5h0M131.4 74.7h0M51.0 106.7h0M76.8 82.8h0M66.8 188.2h0M49.6 74.5h0M43.2 142.0h0M61.7 124.4h0M51.1 64.1h0M73.0 78.3h0M58.8 188.4h0M43.8 65.0h0M55.6 67.9h0M62.5 77.5h0M86.1 182.8h0M121.5 82.2h0M75.6 70.6h0M55.3 70.0h0M62.9 192.4h0M57.7 68.7h0M116.0 108.0h0M128.4 92.9h0M51.0 60.5h0M50.0 106.8h0M96.1 130.5h0M74.2 181.4h0M58.8 192.5h0M89.8 93.1h0M111.3 66.3h0M43.3 120.4h0M125.1 95.6h0M87.8 154.6h0M57.1 102.9h0M82.4 190.7h0M96.6 95.4h0M48.9 109.4h0M45.2 70.4h0M51.9 161.3h0M81.2 64.4h0M125.1 58.0h0M44.2 113.6h0M46.3 77.5h0M89.2 118.1h0M93.2 85.8h0M103.8 81.6h0M44.2 129.6h0M72.3 59.0h0M40.6 127.8h0M38.8 132.7h0M73.2 81.9h0M53.7 163.5h0M48.6 90.1h0M43.2 67.7h0M52.3 63.0h0M62.7 185.7h0M54.6 155.4h0M134.1 87.7h0M113.4 105.9h0M50.2 67.6h0M44.9 114.4h0M37.9 145.3h0M121.7 95.0h0M68.9 63.0h0M123.6 98.3h0M68.0 61.0h0M107.7 88.8h0M44.3 64.1h0M46.2 126.3h0M136.2 72.9h0M51.7 94.3h0M47.0 89.6h0M68.3 95.1h0M49.6 104.3h0M132.6 70.4h0M42.1 128.6h0M100.7 130.9h0M40.0 144.7h0M90.3 69.1h0M52.9 151.0h0M42.7 103.0h0M51.3 92.4h0M69.1 77.6h0M78.0 107.9h0M66.9 189.9h0M41.4 100.4h0M44.6 159.3h0M50.5 71.6h0M70.9 87.1h0M101.7 54.6h0M104.1 118.2h0M54.7 93.3h0M116.7 102.1h0M68.2 184.5h0M44.6 64.2h0M67.2 95.5h0M57.3 84.1h0M110.8 61.6h0M46.5 107.0h0M61.4 100.3h0M49.8 166.9h0M57.9 105.7h0M52.7 145.5h0M74.4 71.0h0M44.8 128.4h0M64.0 187.1h0M44.6 70.7h0M49.7 110.1h0M130.7 85.2h0M132.5 76.5h0M57.1 96.9h0M54.0 61.8h0M105.8 66.7h0"/>
<path stroke="#55D0C6" stroke-width="2.3" stroke-linecap="round" fill="none" d="M59.1 183.7h0M58.9 173.5h0M70.6 156.6h0M67.3 108.5h0M63.1 130.6h0M78.1 181.2h0M127.6 65.5h0M72.8 145.1h0M79.8 154.7h0M79.0 153.6h0M43.1 152.0h0M65.7 111.6h0M132.7 62.5h0M65.3 197.5h0M91.4 138.3h0M56.3 166.7h0M48.7 138.9h0M61.6 195.9h0M87.0 90.3h0M60.8 160.1h0M107.5 94.6h0M90.8 142.1h0M72.1 197.0h0M70.2 106.7h0M93.1 85.6h0M73.8 93.6h0M92.6 135.2h0M91.6 111.2h0M73.8 115.0h0M87.9 103.7h0M123.0 88.8h0M61.2 156.6h0M108.4 119.4h0M85.9 181.5h0M78.6 142.4h0M88.3 141.2h0M87.0 94.3h0M64.6 109.3h0M62.7 173.6h0M55.8 166.0h0M65.2 192.3h0M106.6 57.0h0M109.8 64.2h0M41.3 127.4h0M56.0 105.4h0M87.6 169.3h0M85.7 156.8h0M111.2 116.3h0M67.0 161.0h0M107.8 56.5h0M106.1 88.6h0M54.2 104.3h0M68.1 101.6h0M118.7 98.8h0M70.7 167.8h0M104.0 88.7h0M68.2 108.4h0M105.2 97.4h0M95.3 147.0h0M86.1 86.4h0M61.3 118.4h0M101.8 121.7h0M96.5 122.0h0M73.5 111.6h0M73.3 111.0h0M60.1 186.0h0M72.8 129.2h0M80.8 65.3h0M102.5 72.7h0M68.5 193.9h0M95.2 116.9h0M90.9 134.0h0M51.1 107.7h0M62.7 174.0h0M109.9 123.9h0M75.8 173.7h0M83.1 130.4h0M68.3 116.3h0M88.3 116.8h0M80.3 172.8h0M76.5 142.4h0M70.9 133.8h0M55.8 153.2h0M100.9 101.0h0M82.6 172.3h0M110.8 87.2h0M83.2 121.5h0M86.5 86.6h0M71.3 181.1h0M92.8 91.3h0"/>
<path stroke="#45D38C" stroke-width="2.3" stroke-linecap="round" fill="none" d="M264.4 135.7h0M280.1 183.7h0M295.7 188.2h0M279.9 173.5h0M291.6 156.6h0M263.8 133.1h0M264.0 163.8h0M265.0 138.0h0M265.2 166.9h0M264.1 152.0h0M282.3 187.1h0M286.3 197.5h0M284.8 197.0h0M287.8 188.2h0M277.3 166.7h0M269.7 138.9h0M282.6 195.9h0M264.2 142.0h0M281.8 160.1h0M279.8 188.4h0M293.1 197.0h0M283.9 192.4h0M279.8 192.5h0M282.2 156.6h0M303.4 190.7h0M306.9 181.5h0M272.9 161.3h0M283.7 173.6h0M276.8 166.0h0M286.2 192.3h0M262.3 127.4h0M265.2 129.6h0M261.6 127.8h0M259.8 132.7h0M288.0 161.0h0M274.7 163.5h0M283.7 185.7h0M291.7 167.8h0M275.6 155.4h0M258.9 145.3h0M267.2 126.3h0M281.1 186.0h0M263.1 128.6h0M289.5 193.9h0M261.0 144.7h0M273.9 151.0h0M287.9 189.9h0M265.6 159.3h0M283.7 174.0h0M289.2 184.5h0M276.8 153.2h0M270.8 166.9h0M273.7 145.5h0M265.8 128.4h0M285.0 187.1h0M292.3 181.1h0"/>
<path stroke="#EE7770" stroke-width="2.3" stroke-linecap="round" fill="none" d="M306.2 119.7h0M288.3 108.5h0M284.1 130.6h0M299.1 181.2h0M308.1 183.3h0M293.8 145.1h0M300.8 154.7h0M292.0 138.8h0M300.0 153.6h0M286.7 111.6h0M312.4 138.3h0M308.0 90.3h0M282.7 124.4h0M311.8 142.1h0M291.2 106.7h0M314.1 85.6h0M307.1 182.8h0M294.8 93.6h0M313.6 135.2h0M312.6 111.2h0M337.0 108.0h0M317.1 130.5h0M295.2 181.4h0M294.8 115.0h0M310.8 93.1h0M308.9 103.7h0M329.4 119.4h0M308.8 154.6h0M317.6 95.4h0M299.6 142.4h0M309.3 141.2h0M308.0 94.3h0M285.6 109.3h0M310.2 118.1h0M314.2 85.8h0M308.6 169.3h0M306.7 156.8h0M332.2 116.3h0M289.1 101.6h0M339.7 98.8h0M334.4 105.9h0M289.2 108.4h0M326.2 97.4h0M316.3 147.0h0M307.1 86.4h0M282.3 118.4h0M322.8 121.7h0M317.5 122.0h0M294.5 111.6h0M294.3 111.0h0M289.3 95.1h0M293.8 129.2h0M316.2 116.9h0M321.7 130.9h0M311.9 134.0h0M299.0 107.9h0M330.9 123.9h0M325.1 118.2h0M337.7 102.1h0M296.8 173.7h0M304.1 130.4h0M289.3 116.3h0M309.3 116.8h0M288.2 95.5h0M301.3 172.8h0M297.5 142.4h0M291.9 133.8h0M321.9 101.0h0M303.6 172.3h0M304.2 121.5h0M307.5 86.6h0M313.8 91.3h0"/>
<path stroke="#E873F2" stroke-width="2.3" stroke-linecap="round" fill="none" d="M326.8 80.8h0M334.9 71.7h0M317.7 49.5h0M325.5 89.7h0M331.8 71.3h0M326.2 53.8h0M330.3 95.1h0M328.5 94.6h0M332.3 66.3h0M327.6 57.0h0M330.8 64.2h0M324.8 81.6h0M328.8 56.5h0M327.1 88.6h0M325.0 88.7h0M328.7 88.8h0M323.5 72.7h0M322.7 54.6h0M331.8 61.6h0M331.8 87.2h0M326.8 66.7h0"/>
<path stroke="#A6A828" stroke-width="2.3" stroke-linecap="round" fill="none" d="M265.0 69.7h0M270.9 62.5h0M299.6 70.5h0M275.4 68.6h0M269.2 89.1h0M271.0 73.2h0M302.9 71.5h0M295.2 70.8h0M275.5 106.2h0M298.3 81.0h0M272.0 106.7h0M297.8 82.8h0M270.6 74.5h0M272.1 64.1h0M294.0 78.3h0M264.8 65.0h0M276.6 67.9h0M283.5 77.5h0M296.6 70.6h0M276.3 70.0h0M278.7 68.7h0M272.0 60.5h0M271.0 106.8h0M264.3 120.4h0M278.1 102.9h0M269.9 109.4h0M266.2 70.4h0M302.2 64.4h0M265.2 113.6h0M267.3 77.5h0M293.3 59.0h0M277.0 105.4h0M294.2 81.9h0M275.2 104.3h0M269.6 90.1h0M264.2 67.7h0M273.3 63.0h0M271.2 67.6h0M265.9 114.4h0M289.9 63.0h0M289.0 61.0h0M265.3 64.1h0M272.7 94.3h0M268.0 89.6h0M270.6 104.3h0M301.8 65.3h0M311.3 69.1h0M263.7 103.0h0M272.3 92.4h0M290.1 77.6h0M262.4 100.4h0M272.1 107.7h0M271.5 71.6h0M291.9 87.1h0M275.7 93.3h0M265.6 64.2h0M278.3 84.1h0M267.5 107.0h0M282.4 100.3h0M278.9 105.7h0M295.4 71.0h0M265.6 70.7h0M270.7 110.1h0M278.1 96.9h0M275.0 61.8h0"/>
<path stroke="#4DBDF2" stroke-width="2.3" stroke-linecap="round" fill="none" d="M348.6 65.5h0M352.4 93.8h0M352.0 92.1h0M347.8 116.2h0M351.0 100.8h0M347.8 55.4h0M358.4 85.2h0M353.1 64.1h0M351.0 63.7h0M356.7 96.4h0M348.2 114.7h0M352.0 96.3h0M353.7 62.5h0M348.1 55.2h0M351.3 89.5h0M352.4 74.7h0M342.5 82.2h0M349.4 92.9h0M344.0 88.8h0M346.1 95.6h0M346.1 58.0h0M355.1 87.7h0M342.7 95.0h0M344.6 98.3h0M357.2 72.9h0M353.6 70.4h0M351.7 85.2h0M353.5 76.5h0"/>
<path stroke="#55D0C6" stroke-width="2.3" stroke-linecap="round" fill="none" d="M90.5 174.1h0M79.2 123.0h0M101.3 117.1h0M63.6 190.1h0M64.5 130.3h0M92.6 137.1h0M76.4 151.5h0M87.1 87.6h0M110.7 71.2h0M84.2 111.2h0M58.7 149.9h0M85.6 95.3h0M126.1 68.3h0M59.3 151.9h0M108.7 125.3h0M93.7 147.8h0M97.1 98.3h0M84.8 123.9h0M104.0 118.5h0M80.4 164.5h0M59.2 191.7h0M81.4 156.7h0M70.1 192.4h0M73.5 163.6h0M103.5 92.5h0M70.8 109.7h0M72.2 138.8h0M89.5 173.1h0M68.8 107.9h0M72.1 141.9h0M76.3 146.3h0M68.1 143.8h0M115.7 102.6h0M71.3 162.6h0M68.1 114.1h0M66.7 191.6h0M93.9 108.8h0M73.1 113.6h0M74.4 93.0h0M103.0 118.7h0M68.0 130.1h0M85.8 121.8h0M70.6 104.7h0M73.7 81.5h0M68.9 111.4h0M102.8 98.0h0M85.2 49.7h0M67.3 108.0h0M85.5 86.9h0M94.6 96.1h0M67.4 183.9h0M84.4 178.2h0M71.9 127.0h0M104.6 94.8h0M65.3 131.9h0M71.2 79.9h0M43.3 80.1h0M108.5 127.4h0M99.2 67.1h0M61.1 90.4h0M59.1 178.6h0M82.9 84.7h0M58.6 179.0h0M45.7 77.4h0M69.0 132.7h0M63.0 193.4h0M81.1 184.1h0M80.8 121.6h0M89.3 57.9h0M67.2 161.6h0M99.4 69.2h0M103.0 121.7h0M66.7 184.3h0M71.8 162.0h0M72.1 142.4h0M67.0 181.3h0M97.2 132.0h0M75.5 151.1h0M84.7 139.5h0M76.9 150.3h0M82.7 139.0h0M95.0 115.2h0M84.8 51.1h0M78.2 170.4h0M97.6 106.9h0M77.1 167.4h0M109.7 63.6h0M71.5 109.6h0M81.2 151.3h0M97.9 118.6h0M66.2 126.5h0M83.2 101.4h0M78.0 148.9h0M72.1 135.6h0M77.9 83.9h0M52.6 99.2h0M63.9 129.7h0M42.3 126.6h0M82.3 173.4h0M68.6 139.0h0M78.8 112.6h0M86.8 177.3h0M53.9 138.0h0M68.6 117.2h0M48.3 120.8h0M107.2 119.2h0M101.3 109.7h0M75.1 113.7h0M67.1 144.4h0M86.3 178.9h0M89.1 59.5h0M127.3 114.5h0M163.8 40.4h0M82.5 176.7h0M95.7 140.3h0"/>
<path stroke="#EC716C" stroke-width="2.3" stroke-linecap="round" fill="none" d="M54.6 98.7h0M134.1 81.9h0M48.7 160.1h0M48.8 130.3h0M57.5 110.4h0M70.5 109.1h0M43.0 62.5h0M40.0 126.2h0M134.9 78.6h0M51.8 77.4h0M70.6 184.3h0M106.4 55.4h0M78.7 72.4h0M134.6 94.6h0M78.7 75.8h0M42.1 101.8h0M52.7 147.7h0M39.6 68.4h0M62.6 131.9h0M122.9 78.8h0M48.0 75.4h0M76.6 109.9h0M40.4 69.3h0M103.3 55.7h0M70.7 117.1h0M127.8 74.7h0M50.1 135.9h0M48.8 176.6h0M64.8 63.6h0M60.6 143.4h0M59.9 80.3h0M129.0 66.7h0M70.2 190.5h0M45.7 158.2h0M47.1 82.3h0M63.0 196.8h0M45.3 128.5h0M45.9 124.4h0M61.9 69.8h0M52.9 82.9h0M135.0 98.3h0M52.5 63.6h0M46.9 116.0h0M133.4 85.2h0M61.5 124.1h0M61.5 118.5h0M90.6 65.6h0M73.3 147.7h0M44.9 131.1h0M52.3 116.8h0M136.2 92.3h0M83.6 56.4h0M83.7 190.7h0M43.0 108.6h0M56.9 63.3h0M103.6 52.0h0M59.9 119.8h0M112.6 77.0h0M99.8 71.9h0M49.4 67.9h0M53.4 98.3h0M38.2 134.3h0M92.5 150.1h0M127.4 93.9h0M114.5 107.2h0M133.6 67.8h0M121.9 78.5h0M123.3 89.2h0M71.2 85.3h0M73.9 116.0h0M111.0 78.9h0M60.9 129.1h0M76.2 90.0h0M84.3 179.6h0M68.3 194.0h0M49.8 137.2h0M47.0 134.6h0M68.0 116.4h0M64.0 185.8h0M77.6 81.5h0M52.8 164.0h0M101.7 57.8h0M97.9 58.7h0M77.2 71.6h0M77.7 184.8h0M107.8 65.8h0M50.3 154.6h0M67.7 64.2h0M83.5 175.0h0M69.7 72.6h0M137.5 87.0h0M57.0 103.1h0M132.4 82.3h0M135.8 89.4h0M88.6 151.8h0M126.8 66.5h0M54.3 92.1h0M135.6 85.0h0M134.4 74.8h0M45.3 165.4h0M95.1 123.2h0M44.4 125.9h0M89.3 70.6h0M76.1 53.8h0M73.2 192.6h0M68.6 86.2h0M53.3 163.2h0M49.7 134.1h0M123.7 79.7h0M101.4 56.8h0M49.6 175.4h0M94.8 111.2h0M60.2 123.9h0M130.9 73.7h0M123.3 109.0h0M37.5 136.9h0M38.3 143.2h0M42.6 84.6h0M68.0 72.3h0M67.7 144.8h0M54.4 90.8h0M134.2 55.9h0M50.5 167.2h0M78.6 181.0h0M45.6 63.9h0M74.0 69.9h0M46.7 125.8h0"/>
<path stroke="#EE7770" stroke-width="2.3" stroke-linecap="round" fill="none" d="M311.5 174.1h0M300.2 123.0h0M322.3 117.1h0M285.5 130.3h0M313.6 137.1h0M297.4 151.5h0M308.1 87.6h0M291.5 109.1h0M305.2 111.2h0M306.6 95.3h0M283.6 131.9h0M329.7 125.3h0M297.6 109.9h0M314.7 147.8h0M318.1 98.3h0M305.8 123.9h0M325.0 118.5h0M301.4 164.5h0M291.7 117.1h0M302.4 156.7h0M294.5 163.6h0M324.5 92.5h0M291.8 109.7h0M293.2 138.8h0M310.5 173.1h0M282.5 124.1h0M289.8 107.9h0M293.1 141.9h0M282.5 118.5h0M297.3 146.3h0M294.3 147.7h0M289.1 143.8h0M336.7 102.6h0M292.3 162.6h0M289.1 114.1h0M280.9 119.8h0M314.9 108.8h0M294.1 113.6h0M295.4 93.0h0M324.0 118.7h0M289.0 130.1h0M306.8 121.8h0M291.6 104.7h0M289.9 111.4h0M313.5 150.1h0M323.8 98.0h0M335.5 107.2h0M288.3 108.0h0M306.5 86.9h0M315.6 96.1h0M292.9 127.0h0M294.9 116.0h0M281.9 129.1h0M297.2 90.0h0M325.6 94.8h0M286.3 131.9h0M329.5 127.4h0M289.0 116.4h0M303.9 84.7h0M290.0 132.7h0M302.1 184.1h0M301.8 121.6h0M324.0 121.7h0M292.8 162.0h0M293.1 142.4h0M318.2 132.0h0M304.5 175.0h0M296.5 151.1h0M305.7 139.5h0M297.9 150.3h0M303.7 139.0h0M316.0 115.2h0M309.6 151.8h0M299.2 170.4h0M318.6 106.9h0M298.1 167.4h0M316.1 123.2h0M292.5 109.6h0M302.2 151.3h0M318.9 118.6h0M287.2 126.5h0M304.2 101.4h0M299.0 148.9h0M293.1 135.6h0M298.9 83.9h0M284.9 129.7h0M303.3 173.4h0M315.8 111.2h0M289.6 139.0h0M281.2 123.9h0M299.8 112.6h0M289.6 117.2h0M328.2 119.2h0M322.3 109.7h0M288.7 144.8h0M296.1 113.7h0M288.1 144.4h0M299.6 181.0h0M303.5 176.7h0M316.7 140.3h0"/>
<path stroke="#A6A828" stroke-width="2.3" stroke-linecap="round" fill="none" d="M275.6 98.7h0M278.5 110.4h0M264.0 62.5h0M272.8 77.4h0M299.7 72.4h0M299.7 75.8h0M263.1 101.8h0M260.6 68.4h0M269.0 75.4h0M261.4 69.3h0M285.8 63.6h0M280.9 80.3h0M268.1 82.3h0M282.9 69.8h0M273.9 82.9h0M273.5 63.6h0M267.9 116.0h0M311.6 65.6h0M273.3 116.8h0M304.6 56.4h0M264.0 108.6h0M277.9 63.3h0M270.4 67.9h0M274.4 98.3h0M294.7 81.5h0M306.2 49.7h0M292.2 85.3h0M292.2 79.9h0M264.3 80.1h0M298.6 81.5h0M282.1 90.4h0M266.7 77.4h0M298.2 71.6h0M310.3 57.9h0M288.7 64.2h0M290.7 72.6h0M278.0 103.1h0M305.8 51.1h0M275.3 92.1h0M310.3 70.6h0M297.1 53.8h0M289.6 86.2h0M273.6 99.2h0M269.3 120.8h0M263.6 84.6h0M289.0 72.3h0M275.4 90.8h0M310.1 59.5h0M266.6 63.9h0M295.0 69.9h0"/>
<path stroke="#4DBDF2" stroke-width="2.3" stroke-linecap="round" fill="none" d="M355.1 81.9h0M355.9 78.6h0M355.6 94.6h0M347.1 68.3h0M343.9 78.8h0M348.8 74.7h0M350.0 66.7h0M356.0 98.3h0M354.4 85.2h0M357.2 92.3h0M348.4 93.9h0M354.6 67.8h0M342.9 78.5h0M344.3 89.2h0M358.5 87.0h0M353.4 82.3h0M356.8 89.4h0M347.8 66.5h0M356.6 85.0h0M355.4 74.8h0M344.7 79.7h0M351.9 73.7h0M344.3 109.0h0M355.2 55.9h0M348.3 114.5h0M384.8 40.4h0"/>
<path stroke="#45D38C" stroke-width="2.3" stroke-linecap="round" fill="none" d="M284.6 190.1h0M269.7 160.1h0M269.8 130.3h0M261.0 126.2h0M291.6 184.3h0M279.7 149.9h0M273.7 147.7h0M280.3 151.9h0M280.2 191.7h0M271.1 135.9h0M269.8 176.6h0M281.6 143.4h0M291.1 192.4h0M291.2 190.5h0M266.7 158.2h0M284.0 196.8h0M266.3 128.5h0M266.9 124.4h0M265.9 131.1h0M304.7 190.7h0M287.7 191.6h0M259.2 134.3h0M288.4 183.9h0M305.4 178.2h0M305.3 179.6h0M289.3 194.0h0M270.8 137.2h0M268.0 134.6h0M285.0 185.8h0M280.1 178.6h0M279.6 179.0h0M284.0 193.4h0M273.8 164.0h0M288.2 161.6h0M298.7 184.8h0M287.7 184.3h0M271.3 154.6h0M288.0 181.3h0M266.3 165.4h0M265.4 125.9h0M294.2 192.6h0M274.3 163.2h0M270.7 134.1h0M263.3 126.6h0M270.6 175.4h0M307.8 177.3h0M274.9 138.0h0M258.5 136.9h0M259.3 143.2h0M307.3 178.9h0M271.5 167.2h0M267.7 125.8h0"/>
<path stroke="#E873F2" stroke-width="2.3" stroke-linecap="round" fill="none" d="M331.7 71.2h0M327.4 55.4h0M324.3 55.7h0M324.6 52.0h0M333.6 77.0h0M320.8 71.9h0M332.0 78.9h0M320.2 67.1h0M322.7 57.8h0M318.9 58.7h0M320.4 69.2h0M328.8 65.8h0M330.7 63.6h0M322.4 56.8h0"/>
<path stroke="#55D0C6" stroke-width="2.3" stroke-linecap="round" fill="none" d="M88.4 166.6h0M69.7 175.7h0M95.4 86.0h0M83.6 189.8h0M81.8 122.4h0M72.6 122.7h0M60.0 126.6h0M52.1 93.5h0M95.3 117.6h0M162.6 42.3h0M83.7 181.9h0M108.8 124.5h0M59.8 186.6h0M83.8 190.4h0M84.6 178.7h0M55.3 178.0h0M103.1 118.6h0M92.4 91.2h0M54.1 145.8h0M98.3 115.3h0M81.5 122.7h0M79.6 123.1h0M80.3 168.1h0M65.6 185.1h0M103.5 122.3h0M93.2 136.8h0M74.4 81.7h0M97.5 141.4h0M80.0 78.9h0M109.6 114.3h0M97.8 117.1h0M66.1 126.6h0M43.0 71.7h0M82.1 192.2h0M61.8 172.8h0M83.6 180.0h0M45.5 135.1h0M60.6 166.8h0M96.9 122.4h0M62.3 180.3h0M43.8 144.5h0M87.0 182.0h0M83.2 130.4h0M75.7 132.2h0M79.3 128.7h0M81.0 77.7h0M74.0 87.6h0M99.7 55.7h0M45.1 136.2h0M56.8 145.1h0M103.4 104.1h0M103.9 82.4h0M107.8 84.5h0M80.3 84.7h0M76.7 139.8h0M80.6 108.5h0M80.7 123.3h0M66.6 161.6h0M92.3 137.9h0M103.2 93.7h0M66.4 130.3h0M72.4 124.8h0M93.1 132.9h0M85.3 178.7h0M91.3 139.6h0M64.3 197.2h0M77.6 128.3h0M88.2 170.7h0M81.1 122.2h0M102.2 81.0h0M69.2 192.8h0M104.7 88.9h0M103.7 103.6h0M47.4 74.4h0M92.6 147.9h0M68.6 125.4h0M92.3 85.9h0M61.6 176.0h0M60.2 187.1h0M66.4 127.2h0M70.2 107.6h0M48.2 88.5h0M90.3 70.0h0M67.2 197.9h0M58.4 174.3h0M74.1 121.7h0M92.0 113.8h0M64.3 187.1h0M89.2 183.4h0M67.7 145.8h0M87.3 120.0h0M84.7 118.3h0M110.0 64.7h0M60.1 156.6h0M79.3 72.4h0M83.8 182.0h0M66.4 156.7h0M38.2 135.9h0M84.7 180.6h0M67.8 127.8h0M64.0 178.8h0M95.9 130.5h0M89.9 77.9h0"/>
<path stroke="#EC716C" stroke-width="2.3" stroke-linecap="round" fill="none" d="M109.8 112.9h0M65.8 80.4h0M89.0 62.7h0M86.8 51.0h0M98.0 67.3h0M69.5 186.2h0M134.3 98.2h0M59.3 103.9h0M133.2 84.9h0M67.5 149.0h0M67.4 81.7h0M120.6 91.1h0M135.8 67.4h0M77.9 81.8h0M96.1 130.0h0M66.1 129.4h0M88.0 179.5h0M99.3 69.6h0M51.9 134.7h0M71.1 183.0h0M49.9 61.2h0M64.5 189.2h0M39.8 69.0h0M44.5 65.2h0M139.3 84.7h0M112.7 72.5h0M137.7 87.9h0M53.9 110.3h0M134.6 88.2h0M99.4 53.8h0M43.9 71.7h0M50.6 143.5h0M64.4 187.6h0M111.1 86.6h0M50.4 136.7h0M60.1 90.2h0M100.8 71.7h0M134.1 71.1h0M50.0 117.9h0M41.7 157.4h0M70.9 83.8h0M69.7 85.9h0M49.7 165.6h0M104.0 78.7h0M71.4 194.6h0M86.4 67.6h0M67.0 69.4h0M42.4 90.7h0M51.8 144.2h0M46.0 93.5h0M56.2 98.2h0M92.6 133.4h0M49.9 159.0h0M109.2 66.5h0M124.5 95.7h0M81.1 189.7h0M39.6 125.8h0M89.3 183.3h0M74.3 193.3h0M108.0 59.4h0M49.5 105.8h0M44.0 167.3h0M110.7 61.2h0M106.0 68.5h0M127.3 80.7h0M46.9 161.8h0M83.3 190.3h0M138.8 86.0h0M39.8 124.7h0M59.8 102.3h0M101.5 56.5h0M126.8 57.3h0M76.2 163.5h0M44.3 157.9h0M131.8 87.8h0M76.9 55.7h0M53.3 114.1h0M38.0 130.5h0M50.6 62.6h0M52.1 157.0h0M47.4 114.1h0M74.7 70.7h0M129.8 74.0h0M43.9 130.2h0M113.0 109.3h0M130.1 66.2h0M52.1 66.4h0M42.4 94.5h0M88.8 64.3h0M132.3 99.6h0M132.1 68.1h0M44.4 103.4h0M110.0 111.5h0M62.1 188.1h0M133.7 68.7h0M99.3 58.5h0M48.1 67.8h0M46.0 171.4h0M68.0 70.4h0M45.4 111.9h0M131.8 66.4h0M132.6 70.7h0M49.8 117.5h0M101.2 65.0h0M47.9 66.7h0M136.4 89.6h0M41.9 82.3h0M65.8 65.2h0M46.9 160.9h0M54.7 63.3h0M127.9 73.1h0M48.9 175.1h0M52.2 162.9h0M105.6 100.7h0M44.5 157.8h0M55.2 78.7h0M109.7 95.9h0M125.0 108.7h0M123.0 94.5h0M60.9 191.9h0M109.6 87.5h0M60.0 191.5h0M41.2 131.6h0M112.4 85.7h0M66.2 73.6h0M54.0 110.1h0M106.7 56.4h0M46.2 144.3h0M88.5 93.5h0M50.8 163.9h0M78.2 54.2h0M51.8 146.4h0M38.9 130.2h0M83.4 123.9h0M43.2 141.7h0M135.3 93.7h0M54.9 111.4h0M41.0 125.9h0M130.2 99.9h0"/>
<path stroke="#EE7770" stroke-width="2.3" stroke-linecap="round" fill="none" d="M309.4 166.6h0M330.8 112.9h0M316.4 86.0h0M302.8 122.4h0M293.6 122.7h0M281.0 126.6h0M316.3 117.6h0M329.8 124.5h0M324.1 118.6h0M313.4 91.2h0M317.1 130.0h0M287.1 129.4h0M309.0 179.5h0M319.3 115.3h0M302.5 122.7h0M300.6 123.1h0M301.3 168.1h0M324.5 122.3h0M314.2 136.8h0M318.5 141.4h0M330.6 114.3h0M318.8 117.1h0M287.1 126.6h0M317.9 122.4h0M313.6 133.4h0M304.2 130.4h0M296.7 132.2h0M300.3 128.7h0M295.0 87.6h0M324.4 104.1h0M310.3 183.3h0M301.3 84.7h0M297.7 139.8h0M301.6 108.5h0M301.7 123.3h0M297.2 163.5h0M313.3 137.9h0M324.2 93.7h0M287.4 130.3h0M293.4 124.8h0M314.1 132.9h0M334.0 109.3h0M312.3 139.6h0M298.6 128.3h0M309.2 170.7h0M302.1 122.2h0M331.0 111.5h0M324.7 103.6h0M313.6 147.9h0M289.6 125.4h0M313.3 85.9h0M326.6 100.7h0M287.4 127.2h0M291.2 107.6h0M295.1 121.7h0M313.0 113.8h0M310.2 183.4h0M288.7 145.8h0M308.3 120.0h0M305.7 118.3h0M309.5 93.5h0M304.4 123.9h0M288.8 127.8h0M316.9 130.5h0"/>
<path stroke="#45D38C" stroke-width="2.3" stroke-linecap="round" fill="none" d="M290.7 175.7h0M304.6 189.8h0M290.5 186.2h0M288.5 149.0h0M304.7 181.9h0M280.8 186.6h0M304.8 190.4h0M305.6 178.7h0M276.3 178.0h0M275.1 145.8h0M272.9 134.7h0M292.1 183.0h0M285.5 189.2h0M286.6 185.1h0M271.6 143.5h0M285.4 187.6h0M271.4 136.7h0M262.7 157.4h0M270.7 165.6h0M303.1 192.2h0M282.8 172.8h0M292.4 194.6h0M304.6 180.0h0M266.5 135.1h0M281.6 166.8h0M283.3 180.3h0M264.8 144.5h0M272.8 144.2h0M308.0 182.0h0M270.9 159.0h0M302.1 189.7h0M266.1 136.2h0M260.6 125.8h0M277.8 145.1h0M295.3 193.3h0M265.0 167.3h0M267.9 161.8h0M304.3 190.3h0M260.8 124.7h0M287.6 161.6h0M265.3 157.9h0M259.0 130.5h0M273.1 157.0h0M264.9 130.2h0M306.3 178.7h0M285.3 197.2h0M283.1 188.1h0M290.2 192.8h0M267.0 171.4h0M267.9 160.9h0M282.6 176.0h0M269.9 175.1h0M273.2 162.9h0M281.2 187.1h0M265.5 157.8h0M288.2 197.9h0M279.4 174.3h0M281.9 191.9h0M285.3 187.1h0M281.0 191.5h0M262.2 131.6h0M267.2 144.3h0M271.8 163.9h0M281.1 156.6h0M304.8 182.0h0M272.8 146.4h0M287.4 156.7h0M259.9 130.2h0M259.2 135.9h0M305.7 180.6h0M264.2 141.7h0M285.0 178.8h0M262.0 125.9h0"/>
<path stroke="#A6A828" stroke-width="2.3" stroke-linecap="round" fill="none" d="M286.8 80.4h0M310.0 62.7h0M307.8 51.0h0M273.1 93.5h0M280.3 103.9h0M288.4 81.7h0M298.9 81.8h0M270.9 61.2h0M260.8 69.0h0M265.5 65.2h0M274.9 110.3h0M264.9 71.7h0M281.1 90.2h0M295.4 81.7h0M301.0 78.9h0M271.0 117.9h0M291.9 83.8h0M290.7 85.9h0M264.0 71.7h0M307.4 67.6h0M288.0 69.4h0M263.4 90.7h0M267.0 93.5h0M277.2 98.2h0M302.0 77.7h0M270.5 105.8h0M280.8 102.3h0M297.9 55.7h0M274.3 114.1h0M271.6 62.6h0M268.4 114.1h0M295.7 70.7h0M273.1 66.4h0M263.4 94.5h0M309.8 64.3h0M265.4 103.4h0M269.1 67.8h0M289.0 70.4h0M266.4 111.9h0M268.4 74.4h0M270.8 117.5h0M268.9 66.7h0M262.9 82.3h0M286.8 65.2h0M275.7 63.3h0M276.2 78.7h0M269.2 88.5h0M311.3 70.0h0M287.2 73.6h0M275.0 110.1h0M299.2 54.2h0M300.3 72.4h0M275.9 111.4h0M310.9 77.9h0"/>
<path stroke="#E873F2" stroke-width="2.3" stroke-linecap="round" fill="none" d="M319.0 67.3h0M320.3 69.6h0M333.7 72.5h0M320.4 53.8h0M332.1 86.6h0M321.8 71.7h0M325.0 78.7h0M330.2 66.5h0M320.7 55.7h0M329.0 59.4h0M331.7 61.2h0M324.9 82.4h0M327.0 68.5h0M328.8 84.5h0M322.5 56.5h0M323.2 81.0h0M320.3 58.5h0M325.7 88.9h0M322.2 65.0h0M330.7 95.9h0M330.6 87.5h0M333.4 85.7h0M327.7 56.4h0M331.0 64.7h0"/>
<path stroke="#4DBDF2" stroke-width="2.3" stroke-linecap="round" fill="none" d="M355.3 98.2h0M354.2 84.9h0M383.6 42.3h0M341.6 91.1h0M356.8 67.4h0M360.3 84.7h0M358.7 87.9h0M355.6 88.2h0M355.1 71.1h0M345.5 95.7h0M348.3 80.7h0M359.8 86.0h0M347.8 57.3h0M352.8 87.8h0M350.8 74.0h0M351.1 66.2h0M353.3 99.6h0M353.1 68.1h0M354.7 68.7h0M352.8 66.4h0M353.6 70.7h0M357.4 89.6h0M348.9 73.1h0M346.0 108.7h0M344.0 94.5h0M356.3 93.7h0M351.2 99.9h0"/>
<path stroke="#55D0C6" stroke-width="2.3" stroke-linecap="round" fill="none" d="M71.7 176.9h0M92.8 132.2h0M100.7 66.3h0M86.5 181.1h0M77.7 170.2h0M55.5 85.9h0M79.9 70.9h0M80.2 74.0h0M108.9 112.7h0M87.4 119.9h0M77.2 103.6h0M98.0 105.1h0M104.2 71.2h0M101.4 130.9h0M80.7 77.4h0M69.1 129.5h0M106.6 120.9h0M107.0 79.4h0M105.4 118.7h0M81.5 109.3h0M97.6 139.4h0M88.9 94.7h0M92.5 146.2h0M89.1 121.3h0M90.8 175.3h0M78.1 168.4h0M102.6 82.1h0M77.8 110.2h0M80.3 109.0h0M81.6 121.3h0M81.5 179.3h0M86.4 110.0h0M59.2 184.6h0M103.5 132.0h0M57.8 174.7h0M72.1 182.1h0M76.4 80.7h0M55.9 164.3h0M89.6 172.6h0M104.0 106.2h0M93.2 124.3h0M43.9 72.4h0M82.6 155.3h0M91.2 126.2h0M82.0 175.6h0M78.7 124.4h0M63.4 128.4h0M75.5 158.4h0M69.6 187.4h0M90.3 155.0h0M75.4 161.1h0M85.3 184.5h0M100.7 57.7h0M64.4 192.0h0M66.4 181.9h0M69.1 185.1h0M107.5 88.8h0M71.0 132.9h0M84.4 128.6h0M100.0 107.7h0M74.4 106.2h0M62.8 189.9h0M107.0 118.6h0M65.3 122.0h0M106.8 121.4h0M74.3 181.4h0M133.2 72.0h0M73.2 170.1h0M162.9 41.4h0M78.7 175.3h0M72.8 108.6h0M58.4 190.8h0M84.5 63.8h0M92.6 101.5h0M91.9 49.3h0M86.8 78.6h0M109.6 85.0h0M96.0 108.3h0M64.0 125.4h0M51.3 185.2h0M69.2 161.0h0M74.4 111.3h0M109.7 119.4h0M64.3 122.3h0M65.3 181.1h0M99.0 105.9h0M82.7 106.0h0M79.7 187.6h0M103.8 94.9h0M77.2 129.2h0M88.5 104.1h0M64.3 172.2h0M44.9 144.7h0M89.2 133.6h0M90.3 77.1h0M75.7 164.1h0M63.8 187.9h0M58.0 146.4h0M86.8 183.1h0M87.2 182.0h0M96.5 145.0h0M86.8 189.7h0M62.5 159.5h0M64.8 151.4h0"/>
<path stroke="#EC716C" stroke-width="2.3" stroke-linecap="round" fill="none" d="M111.5 117.9h0M135.0 86.0h0M127.0 93.7h0M139.3 85.7h0M72.6 79.6h0M133.0 72.2h0M51.3 71.8h0M43.6 137.6h0M43.5 114.2h0M105.5 105.9h0M66.8 191.7h0M42.6 114.3h0M61.2 127.1h0M94.0 47.6h0M70.8 182.0h0M104.9 53.7h0M53.8 62.1h0M51.7 110.3h0M99.3 63.7h0M99.9 58.5h0M55.4 97.6h0M49.3 62.3h0M94.5 133.0h0M61.6 125.4h0M46.6 127.7h0M64.3 182.3h0M49.5 109.7h0M134.3 89.3h0M54.0 77.8h0M52.7 98.1h0M62.7 65.4h0M50.8 114.7h0M48.7 89.8h0M102.3 97.2h0M123.2 92.4h0M59.5 147.9h0M112.0 117.9h0M80.1 63.7h0M48.6 135.0h0M125.1 66.2h0M122.6 94.2h0M135.9 92.2h0M45.4 72.5h0M45.5 167.3h0M49.7 153.6h0M112.7 107.6h0M125.2 94.7h0M73.7 179.5h0M47.7 130.2h0M85.4 96.7h0M81.8 106.8h0M58.5 116.6h0M76.4 61.1h0M44.7 103.8h0M46.5 77.0h0M121.8 80.4h0M70.2 188.7h0M129.6 92.5h0M50.0 61.9h0M105.8 95.5h0M102.9 50.8h0M64.3 67.5h0M86.5 183.2h0M60.3 187.2h0M64.4 70.0h0M111.1 113.8h0M71.1 178.0h0M54.1 69.8h0M95.5 109.7h0M122.7 93.9h0M124.9 112.8h0M65.6 171.6h0M82.2 122.5h0M79.9 57.3h0M124.5 83.2h0M50.4 114.3h0M125.4 78.2h0M106.2 70.4h0M42.7 129.7h0M50.3 167.6h0M131.3 82.8h0M134.0 79.0h0M52.3 71.9h0M73.9 182.3h0M126.8 114.2h0M49.8 138.5h0M63.7 195.2h0M62.1 161.9h0M132.9 90.8h0M54.3 71.6h0M122.0 95.6h0M125.6 73.1h0M42.0 116.3h0M38.6 123.9h0M72.9 191.5h0M45.4 72.4h0M42.7 71.2h0M136.0 89.0h0M129.9 57.9h0M74.5 68.8h0M62.2 117.9h0M45.1 166.0h0M107.9 83.9h0M89.3 179.2h0M102.1 96.0h0M61.1 115.5h0M52.4 113.9h0M124.9 97.7h0M91.8 92.9h0M108.4 90.1h0M67.9 80.9h0M45.8 63.2h0M115.9 106.5h0M122.1 78.1h0M48.2 112.6h0M100.4 131.8h0M127.9 116.7h0M42.6 73.3h0M43.8 63.7h0M53.3 73.7h0M64.0 105.6h0M58.0 100.3h0M70.0 185.0h0M68.8 185.1h0M133.3 70.4h0M50.7 89.3h0M46.0 71.0h0M87.8 186.3h0M44.4 150.6h0M100.6 51.9h0M45.2 68.8h0M47.4 133.2h0M58.6 186.3h0M44.7 140.2h0M60.9 68.7h0M126.8 63.2h0M109.6 62.3h0M126.6 72.2h0"/>
<path stroke="#EE7770" stroke-width="2.3" stroke-linecap="round" fill="none" d="M292.7 176.9h0M332.5 117.9h0M313.8 132.2h0M307.5 181.1h0M298.7 170.2h0M329.9 112.7h0M326.5 105.9h0M308.4 119.9h0M282.2 127.1h0M298.2 103.6h0M319.0 105.1h0M322.4 130.9h0M290.1 129.5h0M327.6 120.9h0M326.4 118.7h0M315.5 133.0h0M282.6 125.4h0M302.5 109.3h0M318.6 139.4h0M309.9 94.7h0M313.5 146.2h0M310.1 121.3h0M311.8 175.3h0M299.1 168.4h0M298.8 110.2h0M301.3 109.0h0M302.6 121.3h0M323.3 97.2h0M333.0 117.9h0M333.7 107.6h0M307.4 110.0h0M294.7 179.5h0M324.5 132.0h0M306.4 96.7h0M302.8 106.8h0M293.1 182.1h0M279.5 116.6h0M310.6 172.6h0M325.0 106.2h0M314.2 124.3h0M303.6 155.3h0M312.2 126.2h0M307.5 183.2h0M332.1 113.8h0M303.0 175.6h0M299.7 124.4h0M292.1 178.0h0M284.4 128.4h0M296.5 158.4h0M316.5 109.7h0M311.3 155.0h0M296.4 161.1h0M306.3 184.5h0M303.2 122.5h0M292.0 132.9h0M305.4 128.6h0M294.9 182.3h0M321.0 107.7h0M295.4 106.2h0M328.0 118.6h0M286.3 122.0h0M327.8 121.4h0M294.2 170.1h0M299.7 175.3h0M293.8 108.6h0M313.6 101.5h0M317.0 108.3h0M285.0 125.4h0M283.2 117.9h0M310.3 179.2h0M323.1 96.0h0M282.1 115.5h0M312.8 92.9h0M336.9 106.5h0M295.4 111.3h0M330.7 119.4h0M285.3 122.3h0M320.0 105.9h0M303.7 106.0h0M321.4 131.8h0M324.8 94.9h0M298.2 129.2h0M309.5 104.1h0M310.2 133.6h0M308.8 186.3h0M296.7 164.1h0M307.8 183.1h0M308.2 182.0h0M317.5 145.0h0M307.8 189.7h0"/>
<path stroke="#4DBDF2" stroke-width="2.3" stroke-linecap="round" fill="none" d="M356.0 86.0h0M348.0 93.7h0M360.3 85.7h0M354.0 72.2h0M355.3 89.3h0M344.2 92.4h0M346.1 66.2h0M343.6 94.2h0M356.9 92.2h0M346.2 94.7h0M342.8 80.4h0M350.6 92.5h0M343.7 93.9h0M345.9 112.8h0M345.5 83.2h0M346.4 78.2h0M352.3 82.8h0M355.0 79.0h0M347.8 114.2h0M354.2 72.0h0M353.9 90.8h0M343.0 95.6h0M346.6 73.1h0M383.9 41.4h0M357.0 89.0h0M350.9 57.9h0M345.9 97.7h0M343.1 78.1h0M348.9 116.7h0M354.3 70.4h0M347.8 63.2h0M347.6 72.2h0"/>
<path stroke="#E873F2" stroke-width="2.3" stroke-linecap="round" fill="none" d="M321.7 66.3h0M325.2 71.2h0M325.9 53.7h0M328.0 79.4h0M320.3 63.7h0M320.9 58.5h0M323.6 82.1h0M326.8 95.5h0M323.9 50.8h0M321.7 57.7h0M327.2 70.4h0M328.5 88.8h0M330.6 85.0h0M328.9 83.9h0M329.4 90.1h0M321.6 51.9h0M330.6 62.3h0"/>
<path stroke="#A6A828" stroke-width="2.3" stroke-linecap="round" fill="none" d="M293.6 79.6h0M272.3 71.8h0M276.5 85.9h0M300.9 70.9h0M264.5 114.2h0M301.2 74.0h0M263.6 114.3h0M315.0 47.6h0M301.7 77.4h0M274.8 62.1h0M272.7 110.3h0M276.4 97.6h0M270.3 62.3h0M270.5 109.7h0M275.0 77.8h0M273.7 98.1h0M283.7 65.4h0M271.8 114.7h0M269.7 89.8h0M301.1 63.7h0M266.4 72.5h0M297.4 80.7h0M297.4 61.1h0M265.7 103.8h0M267.5 77.0h0M271.0 61.9h0M264.9 72.4h0M285.3 67.5h0M285.4 70.0h0M275.1 69.8h0M300.9 57.3h0M271.4 114.3h0M273.3 71.9h0M275.3 71.6h0M263.0 116.3h0M305.5 63.8h0M266.4 72.4h0M312.9 49.3h0M307.8 78.6h0M263.7 71.2h0M295.5 68.8h0M273.4 113.9h0M288.9 80.9h0M266.8 63.2h0M269.2 112.6h0M263.6 73.3h0M264.8 63.7h0M274.3 73.7h0M285.0 105.6h0M279.0 100.3h0M271.7 89.3h0M267.0 71.0h0M311.3 77.1h0M266.2 68.8h0M281.9 68.7h0"/>
<path stroke="#45D38C" stroke-width="2.3" stroke-linecap="round" fill="none" d="M264.6 137.6h0M287.8 191.7h0M291.8 182.0h0M267.6 127.7h0M285.3 182.3h0M280.5 147.9h0M269.6 135.0h0M266.5 167.3h0M302.5 179.3h0M270.7 153.6h0M280.2 184.6h0M268.7 130.2h0M278.8 174.7h0M276.9 164.3h0M291.2 188.7h0M281.3 187.2h0M290.6 187.4h0M285.4 192.0h0M286.6 171.6h0M287.4 181.9h0M290.1 185.1h0M263.7 129.7h0M271.3 167.6h0M283.8 189.9h0M270.8 138.5h0M284.7 195.2h0M283.1 161.9h0M295.3 181.4h0M259.6 123.9h0M279.4 190.8h0M293.9 191.5h0M272.3 185.2h0M266.1 166.0h0M290.2 161.0h0M286.3 181.1h0M300.7 187.6h0M291.0 185.0h0M285.3 172.2h0M265.9 144.7h0M289.8 185.1h0M265.4 150.6h0M268.4 133.2h0M279.6 186.3h0M265.7 140.2h0M284.8 187.9h0M279.0 146.4h0M283.5 159.5h0M285.8 151.4h0"/>
<path stroke="#55D0C6" stroke-width="2.3" stroke-linecap="round" fill="none" d="M89.3 92.3h0M91.6 74.9h0M59.8 144.9h0M93.8 106.2h0M84.0 107.7h0M71.8 142.2h0M75.5 173.8h0M77.1 182.9h0M105.5 99.3h0M53.2 146.0h0M66.7 192.3h0M72.1 126.1h0M93.6 155.4h0M85.2 128.4h0M51.4 116.3h0M98.5 105.8h0M85.5 181.2h0M71.4 124.8h0M71.3 191.7h0M77.3 127.7h0M65.3 124.3h0M66.8 147.0h0M80.7 61.2h0M67.8 111.4h0M93.2 74.8h0M73.7 125.0h0M73.2 156.0h0M104.0 80.6h0M62.6 188.9h0M88.8 103.6h0M106.2 87.1h0M93.8 76.9h0M89.1 126.3h0M90.2 72.4h0M83.6 188.4h0M67.0 181.9h0M56.7 191.6h0M99.4 141.1h0M59.0 184.2h0M42.3 99.8h0M50.9 184.2h0M88.5 123.5h0M78.0 109.0h0M75.5 128.1h0M101.2 131.6h0M78.3 164.1h0M89.7 125.9h0M95.4 129.5h0M76.0 175.3h0M70.8 192.8h0M87.1 177.9h0M78.2 171.4h0M89.8 98.4h0M80.8 123.8h0M67.1 191.6h0M59.4 181.1h0M100.0 124.7h0M87.5 177.4h0M62.9 164.3h0M72.7 112.5h0M84.3 169.0h0M94.5 99.1h0M109.5 70.7h0M72.6 140.9h0M71.3 124.7h0M88.2 149.1h0M91.9 134.3h0M81.8 154.5h0M92.3 130.1h0M74.0 86.8h0M62.2 189.8h0M82.7 171.7h0M102.2 95.9h0M64.7 130.2h0M68.0 139.6h0M85.6 181.2h0M54.3 153.5h0M62.2 158.8h0M66.4 111.7h0M57.5 141.5h0M90.6 168.6h0M81.8 71.4h0M133.4 72.6h0M106.8 115.3h0M79.4 114.9h0M97.6 130.5h0M58.4 92.3h0M88.6 179.8h0M77.3 163.6h0M78.3 173.8h0M77.6 188.0h0M54.4 92.9h0M93.7 102.3h0M65.6 184.2h0M103.7 78.1h0M76.2 136.3h0M83.3 146.9h0M59.3 174.3h0M90.7 140.3h0M79.2 68.1h0M101.0 94.8h0M70.0 195.9h0"/>
<path stroke="#EC716C" stroke-width="2.3" stroke-linecap="round" fill="none" d="M41.0 112.1h0M124.7 85.7h0M98.5 56.1h0M37.7 129.7h0M67.7 115.6h0M42.2 98.1h0M125.1 112.4h0M44.1 165.3h0M131.7 82.8h0M115.7 100.9h0M87.3 130.5h0M57.5 98.1h0M53.0 64.6h0M42.9 81.6h0M130.2 94.6h0M132.2 81.0h0M106.3 89.7h0M126.1 55.3h0M42.1 105.7h0M68.4 79.9h0M135.0 94.5h0M127.0 112.5h0M49.3 133.9h0M56.2 191.0h0M69.3 85.0h0M63.1 69.5h0M48.9 76.4h0M122.7 92.5h0M133.4 88.8h0M65.6 91.9h0M130.6 58.2h0M81.2 64.2h0M99.6 67.1h0M134.5 81.8h0M122.8 88.8h0M51.9 163.7h0M48.4 68.8h0M47.8 69.8h0M89.6 68.1h0M57.4 93.0h0M66.3 69.1h0M75.3 81.4h0M80.4 79.1h0M43.9 73.9h0M43.6 133.3h0M64.8 184.5h0M83.4 184.1h0M49.2 154.9h0M109.6 112.6h0M44.6 64.2h0M106.8 80.1h0M96.0 57.7h0M45.2 113.8h0M105.4 88.0h0M134.9 94.4h0M126.1 89.3h0M117.9 99.9h0M47.5 78.4h0M112.8 80.5h0M93.2 88.7h0M62.2 187.0h0M122.7 80.8h0M65.3 70.9h0M44.8 165.9h0M123.5 90.1h0M136.9 89.7h0M47.3 109.8h0M74.2 59.7h0M79.8 193.6h0M66.3 194.9h0M56.1 104.5h0M85.2 101.2h0M60.3 126.1h0M104.4 51.2h0M42.5 160.4h0M134.0 69.5h0M43.6 85.1h0M68.3 190.1h0M43.1 61.9h0M68.3 59.6h0M62.7 130.4h0M42.5 141.0h0M131.8 85.6h0M129.0 74.6h0M52.1 62.9h0M87.5 76.8h0M83.0 187.7h0M67.9 97.2h0M49.0 89.9h0M89.7 139.0h0M65.1 76.4h0M44.2 129.4h0M160.9 44.0h0M88.4 125.6h0M130.3 74.7h0M40.6 123.9h0M160.4 45.0h0M93.6 74.6h0M48.2 69.7h0M77.5 149.8h0M161.5 43.4h0M39.4 127.1h0M55.5 69.0h0M69.2 62.4h0M126.4 84.1h0M51.6 94.1h0M49.3 67.9h0M134.9 82.0h0M74.9 69.2h0M74.7 55.2h0M57.0 152.0h0M86.4 185.1h0M53.2 93.9h0M126.8 117.5h0M138.1 90.3h0M67.1 190.9h0M68.5 64.5h0M51.1 108.2h0M131.5 89.4h0M82.6 191.2h0M64.0 194.0h0M129.7 58.1h0M51.8 114.1h0M57.0 84.0h0M68.1 91.3h0M48.2 136.7h0M71.3 85.2h0M41.5 128.1h0M47.6 155.1h0M130.4 67.7h0M68.3 193.8h0M123.7 79.9h0M103.5 79.6h0M51.0 137.5h0M94.7 61.1h0M48.0 75.9h0M126.6 117.4h0M80.6 76.6h0M43.4 134.4h0M59.7 85.1h0"/>
<path stroke="#EE7770" stroke-width="2.3" stroke-linecap="round" fill="none" d="M310.3 92.3h0M314.8 106.2h0M305.0 107.7h0M288.7 115.6h0M336.7 100.9h0M308.3 130.5h0M292.8 142.2h0M296.5 173.8h0M298.1 182.9h0M326.5 99.3h0M293.1 126.1h0M314.6 155.4h0M306.2 128.4h0M319.5 105.8h0M292.4 124.8h0M298.3 127.7h0M286.3 124.3h0M288.8 111.4h0M294.7 125.0h0M294.2 156.0h0M309.8 103.6h0M310.1 126.3h0M304.6 188.4h0M330.6 112.6h0M320.4 141.1h0M338.9 99.9h0M314.2 88.7h0M309.5 123.5h0M299.0 109.0h0M296.5 128.1h0M322.2 131.6h0M299.3 164.1h0M310.7 125.9h0M306.2 101.2h0M281.3 126.1h0M316.4 129.5h0M297.0 175.3h0M283.7 130.4h0M299.2 171.4h0M304.0 187.7h0M310.8 98.4h0M288.9 97.2h0M310.7 139.0h0M301.8 123.8h0M321.0 124.7h0M309.4 125.6h0M293.7 112.5h0M305.3 169.0h0M315.5 99.1h0M293.6 140.9h0M292.3 124.7h0M309.2 149.1h0M312.9 134.3h0M302.8 154.5h0M313.3 130.1h0M295.0 86.8h0M303.7 171.7h0M323.2 95.9h0M298.5 149.8h0M285.7 130.2h0M289.0 139.6h0M287.4 111.7h0M311.6 168.6h0M327.8 115.3h0M307.4 185.1h0M300.4 114.9h0M318.6 130.5h0M298.3 163.6h0M299.3 173.8h0M314.7 102.3h0M297.2 136.3h0M304.3 146.9h0M311.7 140.3h0M322.0 94.8h0"/>
<path stroke="#A6A828" stroke-width="2.3" stroke-linecap="round" fill="none" d="M262.0 112.1h0M312.6 74.9h0M263.2 98.1h0M278.5 98.1h0M274.0 64.6h0M263.9 81.6h0M263.1 105.7h0M289.4 79.9h0M290.3 85.0h0M284.1 69.5h0M269.9 76.4h0M286.6 91.9h0M302.2 64.2h0M272.4 116.3h0M269.4 68.8h0M268.8 69.8h0M310.6 68.1h0M301.7 61.2h0M278.4 93.0h0M287.3 69.1h0M314.2 74.8h0M296.3 81.4h0M301.4 79.1h0M264.9 73.9h0M314.8 76.9h0M311.2 72.4h0M265.6 64.2h0M266.2 113.8h0M268.5 78.4h0M263.3 99.8h0M286.3 70.9h0M268.3 109.8h0M295.2 59.7h0M277.1 104.5h0M264.6 85.1h0M264.1 61.9h0M289.3 59.6h0M273.1 62.9h0M308.5 76.8h0M270.0 89.9h0M286.1 76.4h0M381.9 44.0h0M381.4 45.0h0M314.6 74.6h0M269.2 69.7h0M382.5 43.4h0M276.5 69.0h0M290.2 62.4h0M272.6 94.1h0M270.3 67.9h0M302.8 71.4h0M295.9 69.2h0M295.7 55.2h0M279.4 92.3h0M274.2 93.9h0M289.5 64.5h0M272.1 108.2h0M272.8 114.1h0M278.0 84.0h0M275.4 92.9h0M289.1 91.3h0M292.3 85.2h0M269.0 75.9h0M300.2 68.1h0M301.6 76.6h0M280.7 85.1h0"/>
<path stroke="#4DBDF2" stroke-width="2.3" stroke-linecap="round" fill="none" d="M345.7 85.7h0M346.1 112.4h0M352.7 82.8h0M351.2 94.6h0M353.2 81.0h0M347.1 55.3h0M356.0 94.5h0M348.0 112.5h0M343.7 92.5h0M354.4 88.8h0M351.6 58.2h0M355.5 81.8h0M343.8 88.8h0M355.9 94.4h0M347.1 89.3h0M343.7 80.8h0M344.5 90.1h0M357.9 89.7h0M355.0 69.5h0M352.8 85.6h0M350.0 74.6h0M351.3 74.7h0M347.4 84.1h0M354.4 72.6h0M355.9 82.0h0M347.8 117.5h0M359.1 90.3h0M352.5 89.4h0M350.7 58.1h0M351.4 67.7h0M344.7 79.9h0M347.6 117.4h0"/>
<path stroke="#E873F2" stroke-width="2.3" stroke-linecap="round" fill="none" d="M319.5 56.1h0M327.3 89.7h0M320.6 67.1h0M325.0 80.6h0M327.2 87.1h0M327.8 80.1h0M317.0 57.7h0M326.4 88.0h0M333.8 80.5h0M325.4 51.2h0M330.5 70.7h0M324.5 79.6h0M324.7 78.1h0M315.7 61.1h0"/>
<path stroke="#45D38C" stroke-width="2.3" stroke-linecap="round" fill="none" d="M280.8 144.9h0M258.7 129.7h0M265.1 165.3h0M270.3 133.9h0M274.2 146.0h0M277.2 191.0h0M287.7 192.3h0M306.5 181.2h0M272.9 163.7h0M292.3 191.7h0M287.8 147.0h0M283.6 188.9h0M264.6 133.3h0M285.8 184.5h0M304.4 184.1h0M270.2 154.9h0M288.0 181.9h0M277.7 191.6h0M280.0 184.2h0M283.2 187.0h0M271.9 184.2h0M265.8 165.9h0M300.8 193.6h0M287.3 194.9h0M263.5 160.4h0M289.3 190.1h0M291.8 192.8h0M263.5 141.0h0M308.1 177.9h0M288.1 191.6h0M265.2 129.4h0M280.4 181.1h0M308.5 177.4h0M283.9 164.3h0M261.6 123.9h0M283.2 189.8h0M306.6 181.2h0M275.3 153.5h0M283.2 158.8h0M260.4 127.1h0M278.5 141.5h0M278.0 152.0h0M309.6 179.8h0M288.1 190.9h0M303.6 191.2h0M285.0 194.0h0M298.6 188.0h0M269.2 136.7h0M262.5 128.1h0M268.6 155.1h0M289.3 193.8h0M286.6 184.2h0M272.0 137.5h0M280.3 174.3h0M264.4 134.4h0M291.0 195.9h0"/>
<line x1="30.4" y1="33" x2="30.4" y2="204.1" stroke="#666" stroke-width="0.9"/>
<line x1="30" y1="203.6" x2="169.6" y2="203.6" stroke="#666" stroke-width="0.9"/>
<line x1="28.2" y1="66.6" x2="30.4" y2="66.6" stroke="#666" stroke-width="0.8"/>
<text x="25.9" y="69.2" font-size="7.4" text-anchor="end" fill="#333">2.5</text>
<line x1="28.2" y1="112.4" x2="30.4" y2="112.4" stroke="#666" stroke-width="0.8"/>
<text x="25.9" y="115" font-size="7.4" text-anchor="end" fill="#333">0.0</text>
<line x1="28.2" y1="158.2" x2="30.4" y2="158.2" stroke="#666" stroke-width="0.8"/>
<text x="25.9" y="160.8" font-size="7.4" text-anchor="end" fill="#333">−2.5</text>
<line x1="28.2" y1="204" x2="30.4" y2="204" stroke="#666" stroke-width="0.8"/>
<text x="25.9" y="206.6" font-size="7.4" text-anchor="end" fill="#333">−5.0</text>
<line x1="32.1" y1="203.6" x2="32.1" y2="205.8" stroke="#666" stroke-width="0.8"/>
<text x="32.1" y="213.6" font-size="7.4" text-anchor="middle" fill="#333">−5</text>
<line x1="81.4" y1="203.6" x2="81.4" y2="205.8" stroke="#666" stroke-width="0.8"/>
<text x="81.4" y="213.6" font-size="7.4" text-anchor="middle" fill="#333">0</text>
<line x1="130.7" y1="203.6" x2="130.7" y2="205.8" stroke="#666" stroke-width="0.8"/>
<text x="130.7" y="213.6" font-size="7.4" text-anchor="middle" fill="#333">5</text>
<text x="99.7" y="224.2" font-size="8.2" text-anchor="middle" fill="#222">UMAP_1</text>
<text x="8.1" y="121.5" font-size="8.2" text-anchor="middle" fill="#222" transform="rotate(-90 8.1 121.5)">UMAP_2</text>
<line x1="251.4" y1="33" x2="251.4" y2="204.1" stroke="#666" stroke-width="0.9"/>
<line x1="251" y1="203.6" x2="390.6" y2="203.6" stroke="#666" stroke-width="0.9"/>
<line x1="249.2" y1="66.6" x2="251.4" y2="66.6" stroke="#666" stroke-width="0.8"/>
<text x="246.9" y="69.2" font-size="7.4" text-anchor="end" fill="#333">2.5</text>
<line x1="249.2" y1="112.4" x2="251.4" y2="112.4" stroke="#666" stroke-width="0.8"/>
<text x="246.9" y="115" font-size="7.4" text-anchor="end" fill="#333">0.0</text>
<line x1="249.2" y1="158.2" x2="251.4" y2="158.2" stroke="#666" stroke-width="0.8"/>
<text x="246.9" y="160.8" font-size="7.4" text-anchor="end" fill="#333">−2.5</text>
<line x1="249.2" y1="204" x2="251.4" y2="204" stroke="#666" stroke-width="0.8"/>
<text x="246.9" y="206.6" font-size="7.4" text-anchor="end" fill="#333">−5.0</text>
<line x1="253.1" y1="203.6" x2="253.1" y2="205.8" stroke="#666" stroke-width="0.8"/>
<text x="253.1" y="213.6" font-size="7.4" text-anchor="middle" fill="#333">−5</text>
<line x1="302.4" y1="203.6" x2="302.4" y2="205.8" stroke="#666" stroke-width="0.8"/>
<text x="302.4" y="213.6" font-size="7.4" text-anchor="middle" fill="#333">0</text>
<line x1="351.7" y1="203.6" x2="351.7" y2="205.8" stroke="#666" stroke-width="0.8"/>
<text x="351.7" y="213.6" font-size="7.4" text-anchor="middle" fill="#333">5</text>
<text x="320.7" y="224.2" font-size="8.2" text-anchor="middle" fill="#222">UMAP_1</text>
<text x="229.1" y="121.5" font-size="8.2" text-anchor="middle" fill="#222" transform="rotate(-90 229.1 121.5)">UMAP_2</text>
<text x="99.7" y="27" font-size="9.6" text-anchor="middle" fill="#000" font-weight="bold">condition</text>
<circle cx="182.6" cy="116.0" r="2.5" fill="#EC716C"/>
<circle cx="182.6" cy="125.1" r="2.5" fill="#55D0C6"/>
<text x="191.6" y="118.6" font-size="7.3" text-anchor="start" fill="#222">control</text>
<text x="191.6" y="127.7" font-size="7.3" text-anchor="start" fill="#222">cteph</text>
<circle cx="403.6" cy="101.6" r="2.5" fill="#EE7770"/>
<text x="413" y="104.2" font-size="7.3" text-anchor="start" fill="#222">PA.1</text>
<circle cx="403.6" cy="111.0" r="2.5" fill="#A6A828"/>
<text x="413" y="113.65" font-size="7.3" text-anchor="start" fill="#222">PA.2</text>
<circle cx="403.6" cy="120.5" r="2.5" fill="#45D38C"/>
<text x="413" y="123.1" font-size="7.3" text-anchor="start" fill="#222">PA.3</text>
<circle cx="403.6" cy="129.9" r="2.5" fill="#4DBDF2"/>
<text x="413" y="132.55" font-size="7.3" text-anchor="start" fill="#222">PA.4</text>
<circle cx="403.6" cy="139.4" r="2.5" fill="#E873F2"/>
<text x="413" y="142" font-size="7.3" text-anchor="start" fill="#222">PA.5</text>
<text x="332.3" y="68.1" font-size="7" text-anchor="middle" fill="#111">PA.5</text>
<text x="279.5" y="85.1" font-size="7" text-anchor="middle" fill="#111">PA.2</text>
<text x="300.2" y="126.1" font-size="7" text-anchor="middle" fill="#111">PA.1</text>
<text x="283.5" y="160.1" font-size="7" text-anchor="middle" fill="#111">PA.3</text>
<text x="354.7" y="80.5" font-size="7" text-anchor="middle" fill="#111">PA.4</text>
</svg></body></html>
